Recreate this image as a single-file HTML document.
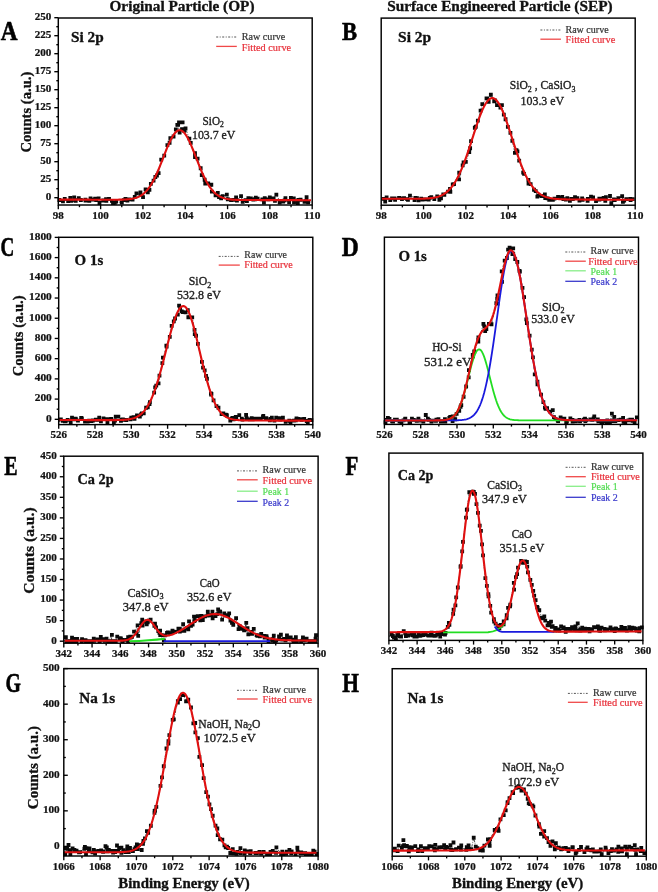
<!DOCTYPE html>
<html><head><meta charset="utf-8"><style>
html,body{margin:0;padding:0;background:#fff;}
body{width:658px;height:892px;overflow:hidden;font-family:"Liberation Serif",serif;}
svg{display:block;filter:blur(0.3px);}
</style></head><body>
<svg width="658" height="892" viewBox="0 0 658 892">
<rect width="658" height="892" fill="#fff"/>
<g id="panelA">
<polyline fill="none" stroke="#222" stroke-width="0.8" stroke-linejoin="round" stroke-dasharray="2.5 1.2 0.8 1.2" points="58.9,200.21 59.37,200.01 62.96,201.37 64.75,198.93 68.14,201.2 71.35,200.81 70.29,197.81 74.21,197.44 75.24,200.03 75.73,200.76 78.78,198.2 80.87,200 85.41,199.58 85.55,200.72 89.31,200.84 90.54,198.38 92.17,199.64 95.13,198.72 96.1,200.06 98.63,198.44 99.47,203 103.23,200.52 106.34,200.77 106.05,199.07 109.03,198.86 111.9,200.84 113.01,203 114.8,202.89 116.15,201.67 121.85,202.55 121.69,202.46 123.79,200.17 125.42,198.84 127.44,200.68 129.07,199.4 132.57,199.58 134.75,196.92 136.44,193.32 140.47,194.59 140.45,192.32 143.04,197.12 145.59,189.35 147.81,192.26 149.44,189.82 150.85,183.83 153.56,180.65 155.33,177 156.95,175.48 158.63,173.19 161.21,159.71 164.24,155.68 167.39,145.04 169.59,142.74 170.34,138.24 173.56,136.5 175.86,129.34 177.32,124.91 178.14,124.88 179.64,132.7 182,129.12 184.18,130.83 185.54,128.49 189.36,138.61 190.75,142.94 195.01,157.02 195,153.04 197.61,158.72 200.67,168.26 201.75,175.13 205.24,183.56 204.64,179.74 208.22,183.34 211.33,184.75 211.87,191.6 215.56,195.34 217.81,192.83 219.01,197.18 221.12,198.38 222.6,196.2 226.81,194.65 227.77,199.25 231.05,200.18 231.22,200.05 233.72,199.81 236.07,197.49 236.95,200.64 241.06,196.1 242.7,201.75 245.51,200.14 246.92,201.19 248.37,198.19 250.88,198.44 253.28,199.68 254.99,199.23 255.8,197.57 257.62,198.69 262.36,199.47 263.94,202.55 264.75,198.11 269.81,197.46 268.33,199.44 273.49,198.42 274.96,200.97 276.35,194.66 279.83,201.25 279.66,202.55 283.22,201.68 285.43,198.07 284.62,200.32 289.12,202.07 290.87,197.89 293.8,198.45 294,202.26 297.84,203 298.34,199.85 300.58,199.75 306.08,200.92 304.54,201.86 306.59,197.25 308.15,202.26 311.6,202"/>
<path fill="#0a0a0a" d="M57.47 198.11h3.8v3.8h-3.8zM61.06 199.47h3.8v3.8h-3.8zM62.85 197.03h3.8v3.8h-3.8zM66.24 199.3h3.8v3.8h-3.8zM69.45 198.91h3.8v3.8h-3.8zM68.39 195.91h3.8v3.8h-3.8zM72.31 195.54h3.8v3.8h-3.8zM73.34 198.13h3.8v3.8h-3.8zM73.83 198.86h3.8v3.8h-3.8zM76.88 196.3h3.8v3.8h-3.8zM78.97 198.1h3.8v3.8h-3.8zM83.51 197.68h3.8v3.8h-3.8zM83.65 198.82h3.8v3.8h-3.8zM87.41 198.94h3.8v3.8h-3.8zM88.64 196.48h3.8v3.8h-3.8zM90.27 197.74h3.8v3.8h-3.8zM93.23 196.82h3.8v3.8h-3.8zM94.2 198.16h3.8v3.8h-3.8zM96.73 196.54h3.8v3.8h-3.8zM97.57 201.1h3.8v3.8h-3.8zM101.33 198.62h3.8v3.8h-3.8zM104.44 198.87h3.8v3.8h-3.8zM104.15 197.17h3.8v3.8h-3.8zM107.13 196.96h3.8v3.8h-3.8zM110 198.94h3.8v3.8h-3.8zM111.11 201.1h3.8v3.8h-3.8zM112.9 200.99h3.8v3.8h-3.8zM114.25 199.77h3.8v3.8h-3.8zM119.95 200.65h3.8v3.8h-3.8zM119.79 200.56h3.8v3.8h-3.8zM121.89 198.27h3.8v3.8h-3.8zM123.52 196.94h3.8v3.8h-3.8zM125.54 198.78h3.8v3.8h-3.8zM127.17 197.5h3.8v3.8h-3.8zM130.67 197.68h3.8v3.8h-3.8zM132.85 195.02h3.8v3.8h-3.8zM134.54 191.42h3.8v3.8h-3.8zM138.57 192.69h3.8v3.8h-3.8zM138.55 190.42h3.8v3.8h-3.8zM141.14 195.22h3.8v3.8h-3.8zM143.69 187.45h3.8v3.8h-3.8zM145.91 190.36h3.8v3.8h-3.8zM147.54 187.92h3.8v3.8h-3.8zM148.95 181.93h3.8v3.8h-3.8zM151.66 178.75h3.8v3.8h-3.8zM153.43 175.1h3.8v3.8h-3.8zM155.05 173.58h3.8v3.8h-3.8zM156.73 171.29h3.8v3.8h-3.8zM159.31 157.81h3.8v3.8h-3.8zM162.34 153.78h3.8v3.8h-3.8zM165.49 143.14h3.8v3.8h-3.8zM167.69 140.84h3.8v3.8h-3.8zM168.44 136.34h3.8v3.8h-3.8zM171.66 134.6h3.8v3.8h-3.8zM173.96 127.44h3.8v3.8h-3.8zM175.42 123.01h3.8v3.8h-3.8zM176.24 122.98h3.8v3.8h-3.8zM177.74 130.8h3.8v3.8h-3.8zM180.1 127.22h3.8v3.8h-3.8zM182.28 128.93h3.8v3.8h-3.8zM183.64 126.59h3.8v3.8h-3.8zM187.46 136.71h3.8v3.8h-3.8zM188.85 141.04h3.8v3.8h-3.8zM193.11 155.12h3.8v3.8h-3.8zM193.1 151.14h3.8v3.8h-3.8zM195.71 156.82h3.8v3.8h-3.8zM198.77 166.36h3.8v3.8h-3.8zM199.85 173.23h3.8v3.8h-3.8zM203.34 181.66h3.8v3.8h-3.8zM202.74 177.84h3.8v3.8h-3.8zM206.32 181.44h3.8v3.8h-3.8zM209.43 182.85h3.8v3.8h-3.8zM209.97 189.7h3.8v3.8h-3.8zM213.66 193.44h3.8v3.8h-3.8zM215.91 190.93h3.8v3.8h-3.8zM217.11 195.28h3.8v3.8h-3.8zM219.22 196.48h3.8v3.8h-3.8zM220.7 194.3h3.8v3.8h-3.8zM224.91 192.75h3.8v3.8h-3.8zM225.87 197.35h3.8v3.8h-3.8zM229.15 198.28h3.8v3.8h-3.8zM229.32 198.15h3.8v3.8h-3.8zM231.82 197.91h3.8v3.8h-3.8zM234.17 195.59h3.8v3.8h-3.8zM235.05 198.74h3.8v3.8h-3.8zM239.16 194.2h3.8v3.8h-3.8zM240.8 199.85h3.8v3.8h-3.8zM243.61 198.24h3.8v3.8h-3.8zM245.02 199.29h3.8v3.8h-3.8zM246.47 196.29h3.8v3.8h-3.8zM248.98 196.54h3.8v3.8h-3.8zM251.38 197.78h3.8v3.8h-3.8zM253.09 197.33h3.8v3.8h-3.8zM253.9 195.67h3.8v3.8h-3.8zM255.72 196.79h3.8v3.8h-3.8zM260.46 197.57h3.8v3.8h-3.8zM262.04 200.65h3.8v3.8h-3.8zM262.85 196.21h3.8v3.8h-3.8zM267.91 195.56h3.8v3.8h-3.8zM266.43 197.54h3.8v3.8h-3.8zM271.59 196.52h3.8v3.8h-3.8zM273.06 199.07h3.8v3.8h-3.8zM274.45 192.76h3.8v3.8h-3.8zM277.93 199.35h3.8v3.8h-3.8zM277.76 200.65h3.8v3.8h-3.8zM281.32 199.78h3.8v3.8h-3.8zM283.53 196.17h3.8v3.8h-3.8zM282.72 198.42h3.8v3.8h-3.8zM287.22 200.17h3.8v3.8h-3.8zM288.97 195.99h3.8v3.8h-3.8zM291.9 196.55h3.8v3.8h-3.8zM292.1 200.36h3.8v3.8h-3.8zM295.94 201.1h3.8v3.8h-3.8zM296.44 197.95h3.8v3.8h-3.8zM298.68 197.85h3.8v3.8h-3.8zM304.18 199.02h3.8v3.8h-3.8zM302.64 199.96h3.8v3.8h-3.8zM304.69 195.35h3.8v3.8h-3.8zM306.25 200.36h3.8v3.8h-3.8zM177.1 120.4h3.8v3.8h-3.8zM180.7 120.4h3.8v3.8h-3.8z"/>
<polyline fill="none" stroke="#e01010" stroke-width="2.1" stroke-linejoin="round" points="59,199.6 60,199.6 61,199.61 62,199.61 63,199.61 64,199.61 65,199.62 66,199.62 67,199.62 68,199.62 69,199.63 70,199.63 71,199.63 72,199.63 73,199.63 74,199.64 75,199.64 76,199.64 77,199.64 78,199.65 79,199.65 80,199.65 81,199.65 82,199.66 83,199.66 84,199.66 85,199.66 86,199.67 87,199.67 88,199.67 89,199.67 90,199.67 91,199.68 92,199.68 93,199.68 94,199.68 95,199.69 96,199.69 97,199.69 98,199.69 99,199.7 100,199.7 101,199.7 102,199.7 103,199.7 104,199.71 105,199.71 106,199.71 107,199.71 108,199.71 109,199.71 110,199.71 111,199.71 112,199.71 113,199.71 114,199.71 115,199.7 116,199.7 117,199.69 118,199.68 119,199.67 120,199.65 121,199.63 122,199.61 123,199.58 124,199.54 125,199.49 126,199.43 127,199.36 128,199.28 129,199.18 130,199.06 131,198.92 132,198.76 133,198.57 134,198.34 135,198.08 136,197.78 137,197.44 138,197.04 139,196.59 140,196.07 141,195.49 142,194.83 143,194.1 144,193.28 145,192.37 146,191.37 147,190.26 148,189.05 149,187.73 150,186.29 151,184.75 152,183.08 153,181.3 154,179.41 155,177.41 156,175.3 157,173.09 158,170.79 159,168.41 160,165.96 161,163.46 162,160.91 163,158.35 164,155.77 165,153.21 166,150.68 167,148.21 168,145.82 169,143.52 170,141.35 171,139.31 172,137.44 173,135.75 174,134.26 175,132.98 176,131.93 177,131.12 178,130.56 179,130.25 180,130.2 181,130.41 182,130.87 183,131.59 184,132.55 185,133.75 186,135.16 187,136.78 188,138.58 189,140.56 190,142.69 191,144.94 192,147.3 193,149.75 194,152.26 195,154.82 196,157.39 197,159.97 198,162.53 199,165.06 200,167.54 201,169.95 202,172.29 203,174.54 204,176.69 205,178.74 206,180.68 207,182.51 208,184.23 209,185.83 210,187.31 211,188.68 212,189.94 213,191.09 214,192.14 215,193.1 216,193.96 217,194.73 218,195.42 219,196.03 220,196.58 221,197.06 222,197.48 223,197.85 224,198.18 225,198.46 226,198.7 227,198.91 228,199.09 229,199.24 230,199.37 231,199.49 232,199.58 233,199.66 234,199.72 235,199.78 236,199.83 237,199.87 238,199.9 239,199.93 240,199.95 241,199.97 242,199.98 243,200 244,200.01 245,200.02 246,200.02 247,200.03 248,200.04 249,200.04 250,200.05 251,200.05 252,200.05 253,200.06 254,200.06 255,200.06 256,200.07 257,200.07 258,200.07 259,200.07 260,200.08 261,200.08 262,200.08 263,200.08 264,200.09 265,200.09 266,200.09 267,200.09 268,200.1 269,200.1 270,200.1 271,200.1 272,200.1 273,200.11 274,200.11 275,200.11 276,200.11 277,200.12 278,200.12 279,200.12 280,200.12 281,200.13 282,200.13 283,200.13 284,200.13 285,200.14 286,200.14 287,200.14 288,200.14 289,200.15 290,200.15 291,200.15 292,200.15 293,200.15 294,200.16 295,200.16 296,200.16 297,200.16 298,200.17 299,200.17 300,200.17 301,200.17 302,200.18 303,200.18 304,200.18 305,200.18 306,200.19 307,200.19 308,200.19 309,200.19 310,200.19 311,200.2"/>
<rect x="58.3" y="18" width="253.9" height="187" fill="none" stroke="#000" stroke-width="1.45"/>
<line x1="58.3" y1="205" x2="58.3" y2="209.2" stroke="#000" stroke-width="1.35"/>
<line x1="79.46" y1="205" x2="79.46" y2="207.2" stroke="#000" stroke-width="1.35"/>
<line x1="100.62" y1="205" x2="100.62" y2="209.2" stroke="#000" stroke-width="1.35"/>
<line x1="121.77" y1="205" x2="121.77" y2="207.2" stroke="#000" stroke-width="1.35"/>
<line x1="142.93" y1="205" x2="142.93" y2="209.2" stroke="#000" stroke-width="1.35"/>
<line x1="164.09" y1="205" x2="164.09" y2="207.2" stroke="#000" stroke-width="1.35"/>
<line x1="185.25" y1="205" x2="185.25" y2="209.2" stroke="#000" stroke-width="1.35"/>
<line x1="206.41" y1="205" x2="206.41" y2="207.2" stroke="#000" stroke-width="1.35"/>
<line x1="227.57" y1="205" x2="227.57" y2="209.2" stroke="#000" stroke-width="1.35"/>
<line x1="248.72" y1="205" x2="248.72" y2="207.2" stroke="#000" stroke-width="1.35"/>
<line x1="269.88" y1="205" x2="269.88" y2="209.2" stroke="#000" stroke-width="1.35"/>
<line x1="291.04" y1="205" x2="291.04" y2="207.2" stroke="#000" stroke-width="1.35"/>
<line x1="312.2" y1="205" x2="312.2" y2="209.2" stroke="#000" stroke-width="1.35"/>
<text x="58.3" y="218.8" font-family="Liberation Serif" font-weight="bold" font-size="10" fill="#111" textLength="11" lengthAdjust="spacingAndGlyphs" text-anchor="middle" stroke="#111" stroke-width="0.22">98</text>
<text x="100.62" y="218.8" font-family="Liberation Serif" font-weight="bold" font-size="10" fill="#111" textLength="16.5" lengthAdjust="spacingAndGlyphs" text-anchor="middle" stroke="#111" stroke-width="0.22">100</text>
<text x="142.93" y="218.8" font-family="Liberation Serif" font-weight="bold" font-size="10" fill="#111" textLength="16.5" lengthAdjust="spacingAndGlyphs" text-anchor="middle" stroke="#111" stroke-width="0.22">102</text>
<text x="185.25" y="218.8" font-family="Liberation Serif" font-weight="bold" font-size="10" fill="#111" textLength="16.5" lengthAdjust="spacingAndGlyphs" text-anchor="middle" stroke="#111" stroke-width="0.22">104</text>
<text x="227.57" y="218.8" font-family="Liberation Serif" font-weight="bold" font-size="10" fill="#111" textLength="16.5" lengthAdjust="spacingAndGlyphs" text-anchor="middle" stroke="#111" stroke-width="0.22">106</text>
<text x="269.88" y="218.8" font-family="Liberation Serif" font-weight="bold" font-size="10" fill="#111" textLength="16.5" lengthAdjust="spacingAndGlyphs" text-anchor="middle" stroke="#111" stroke-width="0.22">108</text>
<text x="312.2" y="218.8" font-family="Liberation Serif" font-weight="bold" font-size="10" fill="#111" textLength="16.5" lengthAdjust="spacingAndGlyphs" text-anchor="middle" stroke="#111" stroke-width="0.22">110</text>
<line x1="58.3" y1="197.7" x2="54.3" y2="197.7" stroke="#000" stroke-width="1.35"/>
<line x1="58.3" y1="188.7" x2="56.3" y2="188.7" stroke="#000" stroke-width="1.35"/>
<line x1="58.3" y1="179.7" x2="54.3" y2="179.7" stroke="#000" stroke-width="1.35"/>
<line x1="58.3" y1="170.7" x2="56.3" y2="170.7" stroke="#000" stroke-width="1.35"/>
<line x1="58.3" y1="161.7" x2="54.3" y2="161.7" stroke="#000" stroke-width="1.35"/>
<line x1="58.3" y1="152.7" x2="56.3" y2="152.7" stroke="#000" stroke-width="1.35"/>
<line x1="58.3" y1="143.7" x2="54.3" y2="143.7" stroke="#000" stroke-width="1.35"/>
<line x1="58.3" y1="134.7" x2="56.3" y2="134.7" stroke="#000" stroke-width="1.35"/>
<line x1="58.3" y1="125.7" x2="54.3" y2="125.7" stroke="#000" stroke-width="1.35"/>
<line x1="58.3" y1="116.7" x2="56.3" y2="116.7" stroke="#000" stroke-width="1.35"/>
<line x1="58.3" y1="107.7" x2="54.3" y2="107.7" stroke="#000" stroke-width="1.35"/>
<line x1="58.3" y1="98.7" x2="56.3" y2="98.7" stroke="#000" stroke-width="1.35"/>
<line x1="58.3" y1="89.7" x2="54.3" y2="89.7" stroke="#000" stroke-width="1.35"/>
<line x1="58.3" y1="80.7" x2="56.3" y2="80.7" stroke="#000" stroke-width="1.35"/>
<line x1="58.3" y1="71.7" x2="54.3" y2="71.7" stroke="#000" stroke-width="1.35"/>
<line x1="58.3" y1="62.7" x2="56.3" y2="62.7" stroke="#000" stroke-width="1.35"/>
<line x1="58.3" y1="53.7" x2="54.3" y2="53.7" stroke="#000" stroke-width="1.35"/>
<line x1="58.3" y1="44.7" x2="56.3" y2="44.7" stroke="#000" stroke-width="1.35"/>
<line x1="58.3" y1="35.7" x2="54.3" y2="35.7" stroke="#000" stroke-width="1.35"/>
<line x1="58.3" y1="26.7" x2="56.3" y2="26.7" stroke="#000" stroke-width="1.35"/>
<line x1="58.3" y1="17.7" x2="54.3" y2="17.7" stroke="#000" stroke-width="1.35"/>
<text x="51.4" y="200.1" font-family="Liberation Serif" font-weight="bold" font-size="10" fill="#111" textLength="5.55" lengthAdjust="spacingAndGlyphs" text-anchor="end" stroke="#111" stroke-width="0.22">0</text>
<text x="51.4" y="182.1" font-family="Liberation Serif" font-weight="bold" font-size="10" fill="#111" textLength="11.1" lengthAdjust="spacingAndGlyphs" text-anchor="end" stroke="#111" stroke-width="0.22">25</text>
<text x="51.4" y="164.1" font-family="Liberation Serif" font-weight="bold" font-size="10" fill="#111" textLength="11.1" lengthAdjust="spacingAndGlyphs" text-anchor="end" stroke="#111" stroke-width="0.22">50</text>
<text x="51.4" y="146.1" font-family="Liberation Serif" font-weight="bold" font-size="10" fill="#111" textLength="11.1" lengthAdjust="spacingAndGlyphs" text-anchor="end" stroke="#111" stroke-width="0.22">75</text>
<text x="51.4" y="128.1" font-family="Liberation Serif" font-weight="bold" font-size="10" fill="#111" textLength="16.65" lengthAdjust="spacingAndGlyphs" text-anchor="end" stroke="#111" stroke-width="0.22">100</text>
<text x="51.4" y="110.1" font-family="Liberation Serif" font-weight="bold" font-size="10" fill="#111" textLength="16.65" lengthAdjust="spacingAndGlyphs" text-anchor="end" stroke="#111" stroke-width="0.22">125</text>
<text x="51.4" y="92.1" font-family="Liberation Serif" font-weight="bold" font-size="10" fill="#111" textLength="16.65" lengthAdjust="spacingAndGlyphs" text-anchor="end" stroke="#111" stroke-width="0.22">150</text>
<text x="51.4" y="74.1" font-family="Liberation Serif" font-weight="bold" font-size="10" fill="#111" textLength="16.65" lengthAdjust="spacingAndGlyphs" text-anchor="end" stroke="#111" stroke-width="0.22">175</text>
<text x="51.4" y="56.1" font-family="Liberation Serif" font-weight="bold" font-size="10" fill="#111" textLength="16.65" lengthAdjust="spacingAndGlyphs" text-anchor="end" stroke="#111" stroke-width="0.22">200</text>
<text x="51.4" y="38.1" font-family="Liberation Serif" font-weight="bold" font-size="10" fill="#111" textLength="16.65" lengthAdjust="spacingAndGlyphs" text-anchor="end" stroke="#111" stroke-width="0.22">225</text>
<text x="51.4" y="20.1" font-family="Liberation Serif" font-weight="bold" font-size="10" fill="#111" textLength="16.65" lengthAdjust="spacingAndGlyphs" text-anchor="end" stroke="#111" stroke-width="0.22">250</text>
</g>
<g id="panelB">
<polyline fill="none" stroke="#222" stroke-width="0.8" stroke-linejoin="round" stroke-dasharray="2.5 1.2 0.8 1.2" points="381.8,199.08 383.4,198.89 385.19,201.6 386.63,197.51 390.26,200.1 392.04,198.44 395.12,199.86 394.59,198.37 399.06,197.8 402.42,198.47 401.94,199.19 404.09,198.13 407.12,199.12 407.96,199.79 409.96,195.59 415.36,197.89 414.54,200.02 416.98,198.07 418.6,200.26 421.2,198.72 422.55,199.54 424.85,199.34 428.68,199.66 429.8,197.81 431.29,197.22 434.3,199 437.23,196.38 439.36,199.87 441.02,198.44 443.29,194.45 444.34,194.97 448.03,191.6 450,188.89 450.35,191.82 452.75,184.34 454.03,184.13 459.2,172.75 459.05,179.31 462.65,165.46 463.57,162.48 465.82,161.97 469.25,152.19 470.15,148.23 471.04,141.2 475.81,126.74 474.81,127.73 477.84,120.6 480.58,110.61 482.32,104.22 486.5,98.29 487.25,98.41 488.68,101.89 490.85,94.75 494.17,101.25 494.97,100.45 497.01,105.15 500.39,107.71 501.93,105.08 503.82,114.57 505.55,119.25 507.84,126.97 510.42,132.92 512.32,140.77 514.92,152.91 516.5,150.24 517.43,151.36 519.19,160.72 523.17,172.68 524.07,173.96 528.38,179.94 528.51,183.61 530.63,184.12 534.02,189.76 535.71,191.08 537.36,196.58 538.55,195.54 541.87,196.02 544.86,194.41 545.24,198.02 547.68,198.45 549.21,199.78 552.84,199.83 554.47,198.67 558.05,196.84 558.93,197.7 562.25,196.94 563.38,199.08 565.9,199.49 567.31,198.09 569.9,200.77 571.37,199.02 572.86,199.11 575,197.16 577.38,198.18 579.45,200.63 582.12,198.3 582.63,199.74 587.83,198.94 587.61,200.82 591,196.68 593.13,197.39 596.02,201.22 599.34,198.77 599.42,199.53 602.25,198.84 603.49,197.98 605.3,200.76 605.94,197.21 610,195.98 611.31,203.16 613.96,199.49 614.7,200 618.3,198.27 622.15,196.07 622.93,201.85 624.2,200.64 626.38,199.22 630.27,199 630.6,200.14 632.71,199.06 634.23,198.61"/>
<path fill="#0a0a0a" d="M381.5 196.99h3.8v3.8h-3.8zM383.29 199.7h3.8v3.8h-3.8zM384.73 195.61h3.8v3.8h-3.8zM388.36 198.2h3.8v3.8h-3.8zM390.14 196.54h3.8v3.8h-3.8zM393.22 197.96h3.8v3.8h-3.8zM392.69 196.47h3.8v3.8h-3.8zM397.16 195.9h3.8v3.8h-3.8zM400.52 196.57h3.8v3.8h-3.8zM400.04 197.29h3.8v3.8h-3.8zM402.19 196.23h3.8v3.8h-3.8zM405.22 197.22h3.8v3.8h-3.8zM406.06 197.89h3.8v3.8h-3.8zM408.06 193.69h3.8v3.8h-3.8zM413.46 195.99h3.8v3.8h-3.8zM412.64 198.12h3.8v3.8h-3.8zM415.08 196.17h3.8v3.8h-3.8zM416.7 198.36h3.8v3.8h-3.8zM419.3 196.82h3.8v3.8h-3.8zM420.65 197.64h3.8v3.8h-3.8zM422.95 197.44h3.8v3.8h-3.8zM426.78 197.76h3.8v3.8h-3.8zM427.9 195.91h3.8v3.8h-3.8zM429.39 195.32h3.8v3.8h-3.8zM432.4 197.1h3.8v3.8h-3.8zM435.33 194.48h3.8v3.8h-3.8zM437.46 197.97h3.8v3.8h-3.8zM439.12 196.54h3.8v3.8h-3.8zM441.39 192.55h3.8v3.8h-3.8zM442.44 193.07h3.8v3.8h-3.8zM446.13 189.7h3.8v3.8h-3.8zM448.1 186.99h3.8v3.8h-3.8zM448.45 189.92h3.8v3.8h-3.8zM450.85 182.44h3.8v3.8h-3.8zM452.13 182.23h3.8v3.8h-3.8zM457.3 170.85h3.8v3.8h-3.8zM457.15 177.41h3.8v3.8h-3.8zM460.75 163.56h3.8v3.8h-3.8zM461.67 160.58h3.8v3.8h-3.8zM463.92 160.07h3.8v3.8h-3.8zM467.35 150.29h3.8v3.8h-3.8zM468.25 146.33h3.8v3.8h-3.8zM469.14 139.3h3.8v3.8h-3.8zM473.91 124.84h3.8v3.8h-3.8zM472.91 125.83h3.8v3.8h-3.8zM475.94 118.7h3.8v3.8h-3.8zM478.68 108.71h3.8v3.8h-3.8zM480.42 102.32h3.8v3.8h-3.8zM484.6 96.39h3.8v3.8h-3.8zM485.35 96.51h3.8v3.8h-3.8zM486.78 99.99h3.8v3.8h-3.8zM488.95 92.85h3.8v3.8h-3.8zM492.27 99.35h3.8v3.8h-3.8zM493.07 98.55h3.8v3.8h-3.8zM495.11 103.25h3.8v3.8h-3.8zM498.49 105.81h3.8v3.8h-3.8zM500.03 103.18h3.8v3.8h-3.8zM501.92 112.67h3.8v3.8h-3.8zM503.65 117.35h3.8v3.8h-3.8zM505.94 125.07h3.8v3.8h-3.8zM508.52 131.02h3.8v3.8h-3.8zM510.42 138.87h3.8v3.8h-3.8zM513.02 151.01h3.8v3.8h-3.8zM514.6 148.34h3.8v3.8h-3.8zM515.53 149.46h3.8v3.8h-3.8zM517.29 158.82h3.8v3.8h-3.8zM521.27 170.78h3.8v3.8h-3.8zM522.17 172.06h3.8v3.8h-3.8zM526.48 178.04h3.8v3.8h-3.8zM526.61 181.71h3.8v3.8h-3.8zM528.73 182.22h3.8v3.8h-3.8zM532.12 187.86h3.8v3.8h-3.8zM533.81 189.18h3.8v3.8h-3.8zM535.46 194.68h3.8v3.8h-3.8zM536.65 193.64h3.8v3.8h-3.8zM539.97 194.12h3.8v3.8h-3.8zM542.96 192.51h3.8v3.8h-3.8zM543.34 196.12h3.8v3.8h-3.8zM545.78 196.55h3.8v3.8h-3.8zM547.31 197.88h3.8v3.8h-3.8zM550.94 197.93h3.8v3.8h-3.8zM552.57 196.77h3.8v3.8h-3.8zM556.15 194.94h3.8v3.8h-3.8zM557.03 195.8h3.8v3.8h-3.8zM560.35 195.04h3.8v3.8h-3.8zM561.48 197.18h3.8v3.8h-3.8zM564 197.59h3.8v3.8h-3.8zM565.41 196.19h3.8v3.8h-3.8zM568 198.87h3.8v3.8h-3.8zM569.47 197.12h3.8v3.8h-3.8zM570.96 197.21h3.8v3.8h-3.8zM573.1 195.26h3.8v3.8h-3.8zM575.48 196.28h3.8v3.8h-3.8zM577.55 198.73h3.8v3.8h-3.8zM580.22 196.4h3.8v3.8h-3.8zM580.73 197.84h3.8v3.8h-3.8zM585.93 197.04h3.8v3.8h-3.8zM585.71 198.92h3.8v3.8h-3.8zM589.1 194.78h3.8v3.8h-3.8zM591.23 195.49h3.8v3.8h-3.8zM594.12 199.32h3.8v3.8h-3.8zM597.44 196.87h3.8v3.8h-3.8zM597.52 197.63h3.8v3.8h-3.8zM600.35 196.94h3.8v3.8h-3.8zM601.59 196.08h3.8v3.8h-3.8zM603.4 198.86h3.8v3.8h-3.8zM604.04 195.31h3.8v3.8h-3.8zM608.1 194.08h3.8v3.8h-3.8zM609.41 201.26h3.8v3.8h-3.8zM612.06 197.59h3.8v3.8h-3.8zM612.8 198.1h3.8v3.8h-3.8zM616.4 196.37h3.8v3.8h-3.8zM620.25 194.17h3.8v3.8h-3.8zM621.03 199.95h3.8v3.8h-3.8zM622.3 198.74h3.8v3.8h-3.8zM624.48 197.32h3.8v3.8h-3.8zM628.37 197.1h3.8v3.8h-3.8zM628.7 198.24h3.8v3.8h-3.8zM630.81 197.16h3.8v3.8h-3.8z"/>
<polyline fill="none" stroke="#e01010" stroke-width="2.1" stroke-linejoin="round" points="381.9,198.7 382.9,198.71 383.9,198.71 384.9,198.72 385.9,198.72 386.9,198.72 387.9,198.73 388.9,198.73 389.9,198.74 390.9,198.74 391.9,198.75 392.9,198.75 393.9,198.75 394.9,198.76 395.9,198.76 396.9,198.77 397.9,198.77 398.9,198.78 399.9,198.78 400.9,198.78 401.9,198.79 402.9,198.79 403.9,198.79 404.9,198.8 405.9,198.8 406.9,198.8 407.9,198.81 408.9,198.81 409.9,198.81 410.9,198.81 411.9,198.81 412.9,198.81 413.9,198.8 414.9,198.8 415.9,198.8 416.9,198.79 417.9,198.78 418.9,198.77 419.9,198.75 420.9,198.73 421.9,198.71 422.9,198.68 423.9,198.64 424.9,198.6 425.9,198.55 426.9,198.49 427.9,198.42 428.9,198.34 429.9,198.24 430.9,198.13 431.9,198 432.9,197.85 433.9,197.68 434.9,197.48 435.9,197.26 436.9,197 437.9,196.71 438.9,196.38 439.9,196.01 440.9,195.6 441.9,195.13 442.9,194.61 443.9,194.03 444.9,193.38 445.9,192.67 446.9,191.88 447.9,191.01 448.9,190.06 449.9,189.02 450.9,187.89 451.9,186.66 452.9,185.33 453.9,183.89 454.9,182.34 455.9,180.68 456.9,178.91 457.9,177.02 458.9,175.02 459.9,172.9 460.9,170.66 461.9,168.31 462.9,165.86 463.9,163.29 464.9,160.63 465.9,157.88 466.9,155.04 467.9,152.13 468.9,149.15 469.9,146.12 470.9,143.05 471.9,139.95 472.9,136.84 473.9,133.74 474.9,130.66 475.9,127.62 476.9,124.63 477.9,121.72 478.9,118.9 479.9,116.2 480.9,113.62 481.9,111.19 482.9,108.92 483.9,106.83 484.9,104.94 485.9,103.25 486.9,101.79 487.9,100.55 488.9,99.56 489.9,98.82 490.9,98.33 491.9,98.1 492.9,98.13 493.9,98.42 494.9,98.97 495.9,99.77 496.9,100.82 497.9,102.11 498.9,103.63 499.9,105.36 500.9,107.31 501.9,109.44 502.9,111.75 503.9,114.22 504.9,116.84 505.9,119.58 506.9,122.42 507.9,125.36 508.9,128.37 509.9,131.43 510.9,134.52 511.9,137.63 512.9,140.75 513.9,143.85 514.9,146.92 515.9,149.95 516.9,152.93 517.9,155.84 518.9,158.67 519.9,161.41 520.9,164.06 521.9,166.61 522.9,169.06 523.9,171.39 524.9,173.61 525.9,175.72 526.9,177.71 527.9,179.58 528.9,181.34 529.9,182.99 530.9,184.52 531.9,185.95 532.9,187.27 533.9,188.49 534.9,189.61 535.9,190.64 536.9,191.58 537.9,192.44 538.9,193.22 539.9,193.93 540.9,194.57 541.9,195.15 542.9,195.67 543.9,196.13 544.9,196.55 545.9,196.92 546.9,197.25 547.9,197.54 548.9,197.8 549.9,198.02 550.9,198.22 551.9,198.4 552.9,198.55 553.9,198.69 554.9,198.8 555.9,198.91 556.9,198.99 557.9,199.07 558.9,199.14 559.9,199.19 560.9,199.24 561.9,199.29 562.9,199.32 563.9,199.35 564.9,199.38 565.9,199.41 566.9,199.43 567.9,199.44 568.9,199.46 569.9,199.47 570.9,199.49 571.9,199.5 572.9,199.51 573.9,199.52 574.9,199.52 575.9,199.53 576.9,199.54 577.9,199.54 578.9,199.55 579.9,199.56 580.9,199.56 581.9,199.57 582.9,199.57 583.9,199.58 584.9,199.58 585.9,199.59 586.9,199.59 587.9,199.59 588.9,199.6 589.9,199.6 590.9,199.61 591.9,199.61 592.9,199.62 593.9,199.62 594.9,199.63 595.9,199.63 596.9,199.63 597.9,199.64 598.9,199.64 599.9,199.65 600.9,199.65 601.9,199.66 602.9,199.66 603.9,199.66 604.9,199.67 605.9,199.67 606.9,199.68 607.9,199.68 608.9,199.69 609.9,199.69 610.9,199.69 611.9,199.7 612.9,199.7 613.9,199.71 614.9,199.71 615.9,199.72 616.9,199.72 617.9,199.73 618.9,199.73 619.9,199.73 620.9,199.74 621.9,199.74 622.9,199.75 623.9,199.75 624.9,199.76 625.9,199.76 626.9,199.76 627.9,199.77 628.9,199.77 629.9,199.78 630.9,199.78 631.9,199.79 632.9,199.79 633.9,199.79"/>
<rect x="381.2" y="18.1" width="254" height="187.1" fill="none" stroke="#000" stroke-width="1.45"/>
<line x1="381.2" y1="205.2" x2="381.2" y2="209.4" stroke="#000" stroke-width="1.35"/>
<line x1="402.37" y1="205.2" x2="402.37" y2="207.4" stroke="#000" stroke-width="1.35"/>
<line x1="423.53" y1="205.2" x2="423.53" y2="209.4" stroke="#000" stroke-width="1.35"/>
<line x1="444.7" y1="205.2" x2="444.7" y2="207.4" stroke="#000" stroke-width="1.35"/>
<line x1="465.87" y1="205.2" x2="465.87" y2="209.4" stroke="#000" stroke-width="1.35"/>
<line x1="487.03" y1="205.2" x2="487.03" y2="207.4" stroke="#000" stroke-width="1.35"/>
<line x1="508.2" y1="205.2" x2="508.2" y2="209.4" stroke="#000" stroke-width="1.35"/>
<line x1="529.37" y1="205.2" x2="529.37" y2="207.4" stroke="#000" stroke-width="1.35"/>
<line x1="550.53" y1="205.2" x2="550.53" y2="209.4" stroke="#000" stroke-width="1.35"/>
<line x1="571.7" y1="205.2" x2="571.7" y2="207.4" stroke="#000" stroke-width="1.35"/>
<line x1="592.87" y1="205.2" x2="592.87" y2="209.4" stroke="#000" stroke-width="1.35"/>
<line x1="614.03" y1="205.2" x2="614.03" y2="207.4" stroke="#000" stroke-width="1.35"/>
<line x1="635.2" y1="205.2" x2="635.2" y2="209.4" stroke="#000" stroke-width="1.35"/>
<text x="381.2" y="219" font-family="Liberation Serif" font-weight="bold" font-size="10" fill="#111" textLength="11" lengthAdjust="spacingAndGlyphs" text-anchor="middle" stroke="#111" stroke-width="0.22">98</text>
<text x="423.53" y="219" font-family="Liberation Serif" font-weight="bold" font-size="10" fill="#111" textLength="16.5" lengthAdjust="spacingAndGlyphs" text-anchor="middle" stroke="#111" stroke-width="0.22">100</text>
<text x="465.87" y="219" font-family="Liberation Serif" font-weight="bold" font-size="10" fill="#111" textLength="16.5" lengthAdjust="spacingAndGlyphs" text-anchor="middle" stroke="#111" stroke-width="0.22">102</text>
<text x="508.2" y="219" font-family="Liberation Serif" font-weight="bold" font-size="10" fill="#111" textLength="16.5" lengthAdjust="spacingAndGlyphs" text-anchor="middle" stroke="#111" stroke-width="0.22">104</text>
<text x="550.53" y="219" font-family="Liberation Serif" font-weight="bold" font-size="10" fill="#111" textLength="16.5" lengthAdjust="spacingAndGlyphs" text-anchor="middle" stroke="#111" stroke-width="0.22">106</text>
<text x="592.87" y="219" font-family="Liberation Serif" font-weight="bold" font-size="10" fill="#111" textLength="16.5" lengthAdjust="spacingAndGlyphs" text-anchor="middle" stroke="#111" stroke-width="0.22">108</text>
<text x="635.2" y="219" font-family="Liberation Serif" font-weight="bold" font-size="10" fill="#111" textLength="16.5" lengthAdjust="spacingAndGlyphs" text-anchor="middle" stroke="#111" stroke-width="0.22">110</text>
</g>
<g id="panelC">
<polyline fill="none" stroke="#222" stroke-width="0.8" stroke-linejoin="round" stroke-dasharray="2.5 1.2 0.8 1.2" points="59.3,422.13 60.85,419.28 62.72,420.81 64.9,421.28 65.7,421.45 67.66,419.87 70.69,422.29 71.99,417.58 74.74,419.27 75.65,418.74 75.97,419.47 77.96,420.57 81.16,417.79 81.88,418.4 85.01,421.65 86.19,420.92 87.72,421.63 89.18,420.54 91.43,421.11 92.95,420.5 95.86,419.7 97.06,419.93 99.22,417.59 100.94,421.34 103.49,418.45 104.6,419.04 107.45,422.6 107.6,419.16 108.47,419.2 111.22,418.83 113.85,421.98 115.02,420.64 115.72,416.59 118.38,416.59 120.96,420.83 121.93,419.6 122.9,419.3 123.47,419.94 126.35,419.99 130.53,419.37 131.25,417.64 133.52,417.23 134.52,418.86 136.98,415.52 139.86,416.57 141.93,413.42 141.05,414.38 143.77,413.35 146.11,407.73 147.79,407.47 149.91,402.16 149.55,404.14 154.15,392.72 155.16,387.32 156.26,385.59 158.55,383.35 159.48,375.67 162.35,363.17 162.92,357.53 166.64,346.67 166.35,345.69 169.78,336.87 171.65,325.83 173.78,321.47 175.07,318.49 177.79,314.68 180.13,308 179.08,305.55 181.74,311.47 182.86,312.1 185.57,312.29 187.78,310.18 188.34,317.24 192.23,317.28 194.53,329.91 194.75,334.09 196.06,335.76 197.88,343.97 201.9,361.87 203.04,367.61 204.69,370.32 206.03,375.9 206.97,378.73 211.12,394.58 211.44,393.8 210.92,393.4 213.56,400.47 216.48,406.18 218.47,407.74 221.56,414.2 223.32,413.48 225.65,414.64 226.35,414.85 226.9,415.42 230.28,420.65 232.33,417.86 231.39,418.86 233.54,419.26 235.73,416.98 236.3,419.01 239.27,415.11 241.76,418.55 242.41,419.53 246.62,418.13 246.08,414.88 249.76,419.3 251.69,418.12 252.74,419.24 255.09,418.7 257.35,418.91 258.44,418.56 260.79,418.67 262.96,416.98 263.3,415.98 265.78,418.76 266.34,418.17 269.89,420.33 270.46,418.88 271.86,417.54 274.42,420.58 276.19,417.72 278.99,418.17 280.28,419.58 281.55,418.65 282.92,417.75 285.66,421.88 289.27,420.67 290.5,422.12 290.13,421.11 293.93,420.66 295.79,420.4 296.48,418.33 298.22,418.86 301.61,419.8 302.04,419.05 304.24,418.9 307.12,421 306.69,421.18 307.78,422.23 309.52,419.81 311.34,420.17"/>
<path fill="#0a0a0a" d="M58.95 417.38h3.8v3.8h-3.8zM60.82 418.91h3.8v3.8h-3.8zM63 419.38h3.8v3.8h-3.8zM63.8 419.55h3.8v3.8h-3.8zM65.76 417.97h3.8v3.8h-3.8zM68.79 420.39h3.8v3.8h-3.8zM70.09 415.68h3.8v3.8h-3.8zM72.84 417.37h3.8v3.8h-3.8zM73.75 416.84h3.8v3.8h-3.8zM74.07 417.57h3.8v3.8h-3.8zM76.06 418.67h3.8v3.8h-3.8zM79.26 415.89h3.8v3.8h-3.8zM79.98 416.5h3.8v3.8h-3.8zM83.11 419.75h3.8v3.8h-3.8zM84.29 419.02h3.8v3.8h-3.8zM85.82 419.73h3.8v3.8h-3.8zM87.28 418.64h3.8v3.8h-3.8zM89.53 419.21h3.8v3.8h-3.8zM91.05 418.6h3.8v3.8h-3.8zM93.96 417.8h3.8v3.8h-3.8zM95.16 418.03h3.8v3.8h-3.8zM97.32 415.69h3.8v3.8h-3.8zM99.04 419.44h3.8v3.8h-3.8zM101.59 416.55h3.8v3.8h-3.8zM102.7 417.14h3.8v3.8h-3.8zM105.55 420.7h3.8v3.8h-3.8zM105.7 417.26h3.8v3.8h-3.8zM106.57 417.3h3.8v3.8h-3.8zM109.32 416.93h3.8v3.8h-3.8zM111.95 420.08h3.8v3.8h-3.8zM113.12 418.74h3.8v3.8h-3.8zM113.82 414.69h3.8v3.8h-3.8zM116.48 414.69h3.8v3.8h-3.8zM119.06 418.93h3.8v3.8h-3.8zM120.03 417.7h3.8v3.8h-3.8zM121 417.4h3.8v3.8h-3.8zM121.57 418.04h3.8v3.8h-3.8zM124.45 418.09h3.8v3.8h-3.8zM128.63 417.47h3.8v3.8h-3.8zM129.35 415.74h3.8v3.8h-3.8zM131.62 415.33h3.8v3.8h-3.8zM132.62 416.96h3.8v3.8h-3.8zM135.08 413.62h3.8v3.8h-3.8zM137.96 414.67h3.8v3.8h-3.8zM140.03 411.52h3.8v3.8h-3.8zM139.15 412.48h3.8v3.8h-3.8zM141.87 411.45h3.8v3.8h-3.8zM144.21 405.83h3.8v3.8h-3.8zM145.89 405.57h3.8v3.8h-3.8zM148.01 400.26h3.8v3.8h-3.8zM147.65 402.24h3.8v3.8h-3.8zM152.25 390.82h3.8v3.8h-3.8zM153.26 385.42h3.8v3.8h-3.8zM154.36 383.69h3.8v3.8h-3.8zM156.65 381.45h3.8v3.8h-3.8zM157.58 373.77h3.8v3.8h-3.8zM160.45 361.27h3.8v3.8h-3.8zM161.02 355.63h3.8v3.8h-3.8zM164.74 344.77h3.8v3.8h-3.8zM164.45 343.79h3.8v3.8h-3.8zM167.88 334.97h3.8v3.8h-3.8zM169.75 323.93h3.8v3.8h-3.8zM171.88 319.57h3.8v3.8h-3.8zM173.17 316.59h3.8v3.8h-3.8zM175.89 312.78h3.8v3.8h-3.8zM178.23 306.1h3.8v3.8h-3.8zM177.18 303.65h3.8v3.8h-3.8zM179.84 309.57h3.8v3.8h-3.8zM180.96 310.2h3.8v3.8h-3.8zM183.67 310.39h3.8v3.8h-3.8zM185.88 308.28h3.8v3.8h-3.8zM186.44 315.34h3.8v3.8h-3.8zM190.33 315.38h3.8v3.8h-3.8zM192.63 328.01h3.8v3.8h-3.8zM192.85 332.19h3.8v3.8h-3.8zM194.16 333.86h3.8v3.8h-3.8zM195.98 342.07h3.8v3.8h-3.8zM200 359.97h3.8v3.8h-3.8zM201.14 365.71h3.8v3.8h-3.8zM202.79 368.42h3.8v3.8h-3.8zM204.13 374h3.8v3.8h-3.8zM205.07 376.83h3.8v3.8h-3.8zM209.22 392.68h3.8v3.8h-3.8zM209.54 391.9h3.8v3.8h-3.8zM209.02 391.5h3.8v3.8h-3.8zM211.66 398.57h3.8v3.8h-3.8zM214.58 404.28h3.8v3.8h-3.8zM216.57 405.84h3.8v3.8h-3.8zM219.66 412.3h3.8v3.8h-3.8zM221.42 411.58h3.8v3.8h-3.8zM223.75 412.74h3.8v3.8h-3.8zM224.45 412.95h3.8v3.8h-3.8zM225 413.52h3.8v3.8h-3.8zM228.38 418.75h3.8v3.8h-3.8zM230.43 415.96h3.8v3.8h-3.8zM229.49 416.96h3.8v3.8h-3.8zM231.64 417.36h3.8v3.8h-3.8zM233.83 415.08h3.8v3.8h-3.8zM234.4 417.11h3.8v3.8h-3.8zM237.37 413.21h3.8v3.8h-3.8zM239.86 416.65h3.8v3.8h-3.8zM240.51 417.63h3.8v3.8h-3.8zM244.72 416.23h3.8v3.8h-3.8zM244.18 412.98h3.8v3.8h-3.8zM247.86 417.4h3.8v3.8h-3.8zM249.79 416.22h3.8v3.8h-3.8zM250.84 417.34h3.8v3.8h-3.8zM253.19 416.8h3.8v3.8h-3.8zM255.45 417.01h3.8v3.8h-3.8zM256.54 416.66h3.8v3.8h-3.8zM258.89 416.77h3.8v3.8h-3.8zM261.06 415.08h3.8v3.8h-3.8zM261.4 414.08h3.8v3.8h-3.8zM263.88 416.86h3.8v3.8h-3.8zM264.44 416.27h3.8v3.8h-3.8zM267.99 418.43h3.8v3.8h-3.8zM268.56 416.98h3.8v3.8h-3.8zM269.96 415.64h3.8v3.8h-3.8zM272.52 418.68h3.8v3.8h-3.8zM274.29 415.82h3.8v3.8h-3.8zM277.09 416.27h3.8v3.8h-3.8zM278.38 417.68h3.8v3.8h-3.8zM279.65 416.75h3.8v3.8h-3.8zM281.02 415.85h3.8v3.8h-3.8zM283.76 419.98h3.8v3.8h-3.8zM287.37 418.77h3.8v3.8h-3.8zM288.6 420.22h3.8v3.8h-3.8zM288.23 419.21h3.8v3.8h-3.8zM292.03 418.76h3.8v3.8h-3.8zM293.89 418.5h3.8v3.8h-3.8zM294.58 416.43h3.8v3.8h-3.8zM296.32 416.96h3.8v3.8h-3.8zM299.71 417.9h3.8v3.8h-3.8zM300.14 417.15h3.8v3.8h-3.8zM302.34 417h3.8v3.8h-3.8zM305.22 419.1h3.8v3.8h-3.8zM304.79 419.28h3.8v3.8h-3.8zM305.88 420.33h3.8v3.8h-3.8zM307.62 417.91h3.8v3.8h-3.8zM309.44 418.27h3.8v3.8h-3.8z"/>
<polyline fill="none" stroke="#e01010" stroke-width="2.1" stroke-linejoin="round" points="59.4,420 60.4,420 61.4,420.01 62.4,420.01 63.4,420.01 64.4,420.02 65.4,420.02 66.4,420.02 67.4,420.02 68.4,420.03 69.4,420.03 70.4,420.03 71.4,420.03 72.4,420.04 73.4,420.04 74.4,420.04 75.4,420.05 76.4,420.05 77.4,420.05 78.4,420.05 79.4,420.06 80.4,420.06 81.4,420.06 82.4,420.07 83.4,420.07 84.4,420.07 85.4,420.07 86.4,420.08 87.4,420.08 88.4,420.08 89.4,420.08 90.4,420.09 91.4,420.09 92.4,420.09 93.4,420.1 94.4,420.1 95.4,420.1 96.4,420.1 97.4,420.11 98.4,420.11 99.4,420.11 100.4,420.11 101.4,420.12 102.4,420.12 103.4,420.12 104.4,420.12 105.4,420.12 106.4,420.12 107.4,420.12 108.4,420.13 109.4,420.12 110.4,420.12 111.4,420.12 112.4,420.12 113.4,420.11 114.4,420.11 115.4,420.1 116.4,420.08 117.4,420.07 118.4,420.05 119.4,420.02 120.4,419.99 121.4,419.96 122.4,419.91 123.4,419.86 124.4,419.79 125.4,419.71 126.4,419.62 127.4,419.51 128.4,419.37 129.4,419.22 130.4,419.03 131.4,418.82 132.4,418.57 133.4,418.28 134.4,417.94 135.4,417.55 136.4,417.11 137.4,416.61 138.4,416.03 139.4,415.38 140.4,414.64 141.4,413.81 142.4,412.88 143.4,411.85 144.4,410.7 145.4,409.42 146.4,408.01 147.4,406.47 148.4,404.78 149.4,402.94 150.4,400.94 151.4,398.78 152.4,396.45 153.4,393.96 154.4,391.31 155.4,388.49 156.4,385.5 157.4,382.36 158.4,379.08 159.4,375.65 160.4,372.09 161.4,368.42 162.4,364.65 163.4,360.8 164.4,356.89 165.4,352.95 166.4,348.99 167.4,345.05 168.4,341.14 169.4,337.31 170.4,333.57 171.4,329.96 172.4,326.5 173.4,323.23 174.4,320.18 175.4,317.36 176.4,314.81 177.4,312.55 178.4,310.6 179.4,308.98 180.4,307.7 181.4,306.78 182.4,306.23 183.4,306.04 184.4,306.26 185.4,306.92 186.4,307.99 187.4,309.49 188.4,311.37 189.4,313.64 190.4,316.25 191.4,319.19 192.4,322.41 193.4,325.9 194.4,329.61 195.4,333.5 196.4,337.54 197.4,341.7 198.4,345.93 199.4,350.21 200.4,354.48 201.4,358.74 202.4,362.94 203.4,367.06 204.4,371.07 205.4,374.95 206.4,378.69 207.4,382.26 208.4,385.67 209.4,388.89 210.4,391.92 211.4,394.76 212.4,397.4 213.4,399.85 214.4,402.11 215.4,404.18 216.4,406.08 217.4,407.8 218.4,409.36 219.4,410.77 220.4,412.03 221.4,413.15 222.4,414.15 223.4,415.03 224.4,415.81 225.4,416.49 226.4,417.09 227.4,417.61 228.4,418.05 229.4,418.44 230.4,418.77 231.4,419.06 232.4,419.3 233.4,419.51 234.4,419.68 235.4,419.83 236.4,419.95 237.4,420.05 238.4,420.14 239.4,420.21 240.4,420.27 241.4,420.32 242.4,420.36 243.4,420.39 244.4,420.42 245.4,420.44 246.4,420.46 247.4,420.47 248.4,420.49 249.4,420.5 250.4,420.51 251.4,420.51 252.4,420.52 253.4,420.53 254.4,420.53 255.4,420.54 256.4,420.54 257.4,420.54 258.4,420.55 259.4,420.55 260.4,420.55 261.4,420.56 262.4,420.56 263.4,420.56 264.4,420.57 265.4,420.57 266.4,420.57 267.4,420.57 268.4,420.58 269.4,420.58 270.4,420.58 271.4,420.59 272.4,420.59 273.4,420.59 274.4,420.59 275.4,420.6 276.4,420.6 277.4,420.6 278.4,420.61 279.4,420.61 280.4,420.61 281.4,420.61 282.4,420.62 283.4,420.62 284.4,420.62 285.4,420.62 286.4,420.63 287.4,420.63 288.4,420.63 289.4,420.64 290.4,420.64 291.4,420.64 292.4,420.64 293.4,420.65 294.4,420.65 295.4,420.65 296.4,420.65 297.4,420.66 298.4,420.66 299.4,420.66 300.4,420.67 301.4,420.67 302.4,420.67 303.4,420.67 304.4,420.68 305.4,420.68 306.4,420.68 307.4,420.69 308.4,420.69 309.4,420.69 310.4,420.69 311.4,420.7"/>
<rect x="58.7" y="237.3" width="254.1" height="187.3" fill="none" stroke="#000" stroke-width="1.45"/>
<line x1="58.7" y1="424.6" x2="58.7" y2="428.8" stroke="#000" stroke-width="1.35"/>
<line x1="76.85" y1="424.6" x2="76.85" y2="426.8" stroke="#000" stroke-width="1.35"/>
<line x1="95" y1="424.6" x2="95" y2="428.8" stroke="#000" stroke-width="1.35"/>
<line x1="113.15" y1="424.6" x2="113.15" y2="426.8" stroke="#000" stroke-width="1.35"/>
<line x1="131.3" y1="424.6" x2="131.3" y2="428.8" stroke="#000" stroke-width="1.35"/>
<line x1="149.45" y1="424.6" x2="149.45" y2="426.8" stroke="#000" stroke-width="1.35"/>
<line x1="167.6" y1="424.6" x2="167.6" y2="428.8" stroke="#000" stroke-width="1.35"/>
<line x1="185.75" y1="424.6" x2="185.75" y2="426.8" stroke="#000" stroke-width="1.35"/>
<line x1="203.9" y1="424.6" x2="203.9" y2="428.8" stroke="#000" stroke-width="1.35"/>
<line x1="222.05" y1="424.6" x2="222.05" y2="426.8" stroke="#000" stroke-width="1.35"/>
<line x1="240.2" y1="424.6" x2="240.2" y2="428.8" stroke="#000" stroke-width="1.35"/>
<line x1="258.35" y1="424.6" x2="258.35" y2="426.8" stroke="#000" stroke-width="1.35"/>
<line x1="276.5" y1="424.6" x2="276.5" y2="428.8" stroke="#000" stroke-width="1.35"/>
<line x1="294.65" y1="424.6" x2="294.65" y2="426.8" stroke="#000" stroke-width="1.35"/>
<line x1="312.8" y1="424.6" x2="312.8" y2="428.8" stroke="#000" stroke-width="1.35"/>
<text x="58.7" y="438.4" font-family="Liberation Serif" font-weight="bold" font-size="10" fill="#111" textLength="16.5" lengthAdjust="spacingAndGlyphs" text-anchor="middle" stroke="#111" stroke-width="0.22">526</text>
<text x="95" y="438.4" font-family="Liberation Serif" font-weight="bold" font-size="10" fill="#111" textLength="16.5" lengthAdjust="spacingAndGlyphs" text-anchor="middle" stroke="#111" stroke-width="0.22">528</text>
<text x="131.3" y="438.4" font-family="Liberation Serif" font-weight="bold" font-size="10" fill="#111" textLength="16.5" lengthAdjust="spacingAndGlyphs" text-anchor="middle" stroke="#111" stroke-width="0.22">530</text>
<text x="167.6" y="438.4" font-family="Liberation Serif" font-weight="bold" font-size="10" fill="#111" textLength="16.5" lengthAdjust="spacingAndGlyphs" text-anchor="middle" stroke="#111" stroke-width="0.22">532</text>
<text x="203.9" y="438.4" font-family="Liberation Serif" font-weight="bold" font-size="10" fill="#111" textLength="16.5" lengthAdjust="spacingAndGlyphs" text-anchor="middle" stroke="#111" stroke-width="0.22">534</text>
<text x="240.2" y="438.4" font-family="Liberation Serif" font-weight="bold" font-size="10" fill="#111" textLength="16.5" lengthAdjust="spacingAndGlyphs" text-anchor="middle" stroke="#111" stroke-width="0.22">536</text>
<text x="276.5" y="438.4" font-family="Liberation Serif" font-weight="bold" font-size="10" fill="#111" textLength="16.5" lengthAdjust="spacingAndGlyphs" text-anchor="middle" stroke="#111" stroke-width="0.22">538</text>
<text x="312.8" y="438.4" font-family="Liberation Serif" font-weight="bold" font-size="10" fill="#111" textLength="16.5" lengthAdjust="spacingAndGlyphs" text-anchor="middle" stroke="#111" stroke-width="0.22">540</text>
<line x1="58.7" y1="419.3" x2="54.7" y2="419.3" stroke="#000" stroke-width="1.35"/>
<line x1="58.7" y1="409.19" x2="56.7" y2="409.19" stroke="#000" stroke-width="1.35"/>
<line x1="58.7" y1="399.09" x2="54.7" y2="399.09" stroke="#000" stroke-width="1.35"/>
<line x1="58.7" y1="388.98" x2="56.7" y2="388.98" stroke="#000" stroke-width="1.35"/>
<line x1="58.7" y1="378.88" x2="54.7" y2="378.88" stroke="#000" stroke-width="1.35"/>
<line x1="58.7" y1="368.77" x2="56.7" y2="368.77" stroke="#000" stroke-width="1.35"/>
<line x1="58.7" y1="358.66" x2="54.7" y2="358.66" stroke="#000" stroke-width="1.35"/>
<line x1="58.7" y1="348.56" x2="56.7" y2="348.56" stroke="#000" stroke-width="1.35"/>
<line x1="58.7" y1="338.45" x2="54.7" y2="338.45" stroke="#000" stroke-width="1.35"/>
<line x1="58.7" y1="328.35" x2="56.7" y2="328.35" stroke="#000" stroke-width="1.35"/>
<line x1="58.7" y1="318.24" x2="54.7" y2="318.24" stroke="#000" stroke-width="1.35"/>
<line x1="58.7" y1="308.13" x2="56.7" y2="308.13" stroke="#000" stroke-width="1.35"/>
<line x1="58.7" y1="298.03" x2="54.7" y2="298.03" stroke="#000" stroke-width="1.35"/>
<line x1="58.7" y1="287.92" x2="56.7" y2="287.92" stroke="#000" stroke-width="1.35"/>
<line x1="58.7" y1="277.82" x2="54.7" y2="277.82" stroke="#000" stroke-width="1.35"/>
<line x1="58.7" y1="267.71" x2="56.7" y2="267.71" stroke="#000" stroke-width="1.35"/>
<line x1="58.7" y1="257.6" x2="54.7" y2="257.6" stroke="#000" stroke-width="1.35"/>
<line x1="58.7" y1="247.5" x2="56.7" y2="247.5" stroke="#000" stroke-width="1.35"/>
<line x1="58.7" y1="237.39" x2="54.7" y2="237.39" stroke="#000" stroke-width="1.35"/>
<text x="51.8" y="421.7" font-family="Liberation Serif" font-weight="bold" font-size="10" fill="#111" textLength="5.7" lengthAdjust="spacingAndGlyphs" text-anchor="end" stroke="#111" stroke-width="0.22">0</text>
<text x="51.8" y="401.49" font-family="Liberation Serif" font-weight="bold" font-size="10" fill="#111" textLength="17.1" lengthAdjust="spacingAndGlyphs" text-anchor="end" stroke="#111" stroke-width="0.22">200</text>
<text x="51.8" y="381.28" font-family="Liberation Serif" font-weight="bold" font-size="10" fill="#111" textLength="17.1" lengthAdjust="spacingAndGlyphs" text-anchor="end" stroke="#111" stroke-width="0.22">400</text>
<text x="51.8" y="361.06" font-family="Liberation Serif" font-weight="bold" font-size="10" fill="#111" textLength="17.1" lengthAdjust="spacingAndGlyphs" text-anchor="end" stroke="#111" stroke-width="0.22">600</text>
<text x="51.8" y="340.85" font-family="Liberation Serif" font-weight="bold" font-size="10" fill="#111" textLength="17.1" lengthAdjust="spacingAndGlyphs" text-anchor="end" stroke="#111" stroke-width="0.22">800</text>
<text x="51.8" y="320.64" font-family="Liberation Serif" font-weight="bold" font-size="10" fill="#111" textLength="22.8" lengthAdjust="spacingAndGlyphs" text-anchor="end" stroke="#111" stroke-width="0.22">1000</text>
<text x="51.8" y="300.43" font-family="Liberation Serif" font-weight="bold" font-size="10" fill="#111" textLength="22.8" lengthAdjust="spacingAndGlyphs" text-anchor="end" stroke="#111" stroke-width="0.22">1200</text>
<text x="51.8" y="280.22" font-family="Liberation Serif" font-weight="bold" font-size="10" fill="#111" textLength="22.8" lengthAdjust="spacingAndGlyphs" text-anchor="end" stroke="#111" stroke-width="0.22">1400</text>
<text x="51.8" y="260" font-family="Liberation Serif" font-weight="bold" font-size="10" fill="#111" textLength="22.8" lengthAdjust="spacingAndGlyphs" text-anchor="end" stroke="#111" stroke-width="0.22">1600</text>
<text x="51.8" y="239.79" font-family="Liberation Serif" font-weight="bold" font-size="10" fill="#111" textLength="22.8" lengthAdjust="spacingAndGlyphs" text-anchor="end" stroke="#111" stroke-width="0.22">1800</text>
</g>
<g id="panelD">
<polyline fill="none" stroke="#222" stroke-width="0.8" stroke-linejoin="round" stroke-dasharray="2.5 1.2 0.8 1.2" points="385.5,422.15 386.88,420 387.9,418.02 389.48,418.93 392.13,421.31 393.04,421.52 394.94,419.77 396.83,419.61 399.5,421.56 401.44,422.4 403.52,420.37 405.32,418.62 405.1,419.2 409.51,422.4 410.15,422.22 411.94,418.56 413.6,419.8 416.71,420.95 416.68,420.34 418.45,418.53 419.74,420.63 423.36,421.54 425.74,415.15 425.81,414.92 428.85,419.83 427.84,418.74 431.4,421.49 432.73,420.69 435.98,420.74 436.41,419.69 438.42,419.12 440.87,421.51 442.42,421.56 444.94,419.25 445.33,421.64 449.34,417.8 450.21,417.02 452.65,416.42 452.58,421.12 455.22,419.26 456.63,413.88 459.24,410.78 460.58,406.73 461.29,405.06 463.62,396.73 466.16,386.5 468.7,377.37 468.91,370.03 472.72,354.84 474.22,351.5 473.09,356.32 478.22,339.87 478.39,337.36 478.33,341.69 483.4,323.9 484.43,326.38 485.17,331.2 486.36,328.98 488.93,323.82 491.5,324.26 496.33,303.19 497.18,298.86 497.49,295.31 497.55,303.69 502.03,281.85 501.73,271.3 504.69,260.65 506.88,258.01 508.08,249.71 510.55,249.62 513.21,253.53 512.43,254 515.2,259.19 517.33,261.98 519.48,270.79 519.9,271.62 522.49,287.89 524.11,297.14 526.32,319.36 526.87,323.07 529.62,335.55 531.78,349.63 532.92,357.36 534.74,374.47 537.48,384.24 537.4,381.6 541.03,394.64 543.36,402.16 544.93,407.66 545.6,408.93 547.09,408.26 550.26,411.69 552.77,410.08 553.96,417.05 555.29,418.78 558.14,421.18 557.72,420.28 560.61,417.41 562.3,418.93 564.37,418.68 566.21,422.15 566.92,421.59 570.35,418.33 572.65,421.62 572.55,419.79 575.78,421.46 576.54,420.67 579.44,419.98 580.04,421.42 583.78,419.76 585.01,418.6 585.38,421.16 586.11,420.04 590.31,419.35 592.23,419.85 593.64,418.31 594.28,416.33 597.81,419.51 598.36,421.46 601.49,422.4 602.26,422.4 604.17,421.51 607.3,420.42 606.93,422.4 609.9,422.4 611.88,413.62 612.16,421.19 614.27,416.84 615.36,420.98 620.63,419.72 618.37,420.12 623.08,417.98 623.55,421.81 625.3,422.11 628.43,420.35 630.36,419.74 632.06,419.56 632.52,420.95 634.62,422.18 636.84,417.43 637.9,418.93"/>
<path fill="#0a0a0a" d="M383.6 420.25h3.8v3.8h-3.8zM384.98 418.1h3.8v3.8h-3.8zM386 416.12h3.8v3.8h-3.8zM387.58 417.03h3.8v3.8h-3.8zM390.23 419.41h3.8v3.8h-3.8zM391.14 419.62h3.8v3.8h-3.8zM393.04 417.87h3.8v3.8h-3.8zM394.93 417.71h3.8v3.8h-3.8zM397.6 419.66h3.8v3.8h-3.8zM399.54 420.5h3.8v3.8h-3.8zM401.62 418.47h3.8v3.8h-3.8zM403.42 416.72h3.8v3.8h-3.8zM403.2 417.3h3.8v3.8h-3.8zM407.61 420.5h3.8v3.8h-3.8zM408.25 420.32h3.8v3.8h-3.8zM410.04 416.66h3.8v3.8h-3.8zM411.7 417.9h3.8v3.8h-3.8zM414.81 419.05h3.8v3.8h-3.8zM414.78 418.44h3.8v3.8h-3.8zM416.55 416.63h3.8v3.8h-3.8zM417.84 418.73h3.8v3.8h-3.8zM421.46 419.64h3.8v3.8h-3.8zM423.84 413.25h3.8v3.8h-3.8zM423.91 413.02h3.8v3.8h-3.8zM426.95 417.93h3.8v3.8h-3.8zM425.94 416.84h3.8v3.8h-3.8zM429.5 419.59h3.8v3.8h-3.8zM430.83 418.79h3.8v3.8h-3.8zM434.08 418.84h3.8v3.8h-3.8zM434.51 417.79h3.8v3.8h-3.8zM436.52 417.22h3.8v3.8h-3.8zM438.97 419.61h3.8v3.8h-3.8zM440.52 419.66h3.8v3.8h-3.8zM443.04 417.35h3.8v3.8h-3.8zM443.43 419.74h3.8v3.8h-3.8zM447.44 415.9h3.8v3.8h-3.8zM448.31 415.12h3.8v3.8h-3.8zM450.75 414.52h3.8v3.8h-3.8zM450.68 419.22h3.8v3.8h-3.8zM453.32 417.36h3.8v3.8h-3.8zM454.73 411.98h3.8v3.8h-3.8zM457.34 408.88h3.8v3.8h-3.8zM458.68 404.83h3.8v3.8h-3.8zM459.39 403.16h3.8v3.8h-3.8zM461.72 394.83h3.8v3.8h-3.8zM464.26 384.6h3.8v3.8h-3.8zM466.8 375.47h3.8v3.8h-3.8zM467.01 368.13h3.8v3.8h-3.8zM470.82 352.94h3.8v3.8h-3.8zM472.32 349.6h3.8v3.8h-3.8zM471.19 354.42h3.8v3.8h-3.8zM476.32 337.97h3.8v3.8h-3.8zM476.49 335.46h3.8v3.8h-3.8zM476.43 339.79h3.8v3.8h-3.8zM481.5 322h3.8v3.8h-3.8zM482.53 324.48h3.8v3.8h-3.8zM483.27 329.3h3.8v3.8h-3.8zM484.46 327.08h3.8v3.8h-3.8zM487.03 321.92h3.8v3.8h-3.8zM489.6 322.36h3.8v3.8h-3.8zM494.43 301.29h3.8v3.8h-3.8zM495.28 296.96h3.8v3.8h-3.8zM495.59 293.41h3.8v3.8h-3.8zM495.65 301.79h3.8v3.8h-3.8zM500.13 279.95h3.8v3.8h-3.8zM499.83 269.4h3.8v3.8h-3.8zM502.79 258.75h3.8v3.8h-3.8zM504.98 256.11h3.8v3.8h-3.8zM506.18 247.81h3.8v3.8h-3.8zM508.65 247.72h3.8v3.8h-3.8zM511.31 251.63h3.8v3.8h-3.8zM510.53 252.1h3.8v3.8h-3.8zM513.3 257.29h3.8v3.8h-3.8zM515.43 260.08h3.8v3.8h-3.8zM517.58 268.89h3.8v3.8h-3.8zM518 269.72h3.8v3.8h-3.8zM520.59 285.99h3.8v3.8h-3.8zM522.21 295.24h3.8v3.8h-3.8zM524.42 317.46h3.8v3.8h-3.8zM524.97 321.17h3.8v3.8h-3.8zM527.72 333.65h3.8v3.8h-3.8zM529.88 347.73h3.8v3.8h-3.8zM531.02 355.46h3.8v3.8h-3.8zM532.84 372.57h3.8v3.8h-3.8zM535.58 382.34h3.8v3.8h-3.8zM535.5 379.7h3.8v3.8h-3.8zM539.13 392.74h3.8v3.8h-3.8zM541.46 400.26h3.8v3.8h-3.8zM543.03 405.76h3.8v3.8h-3.8zM543.7 407.03h3.8v3.8h-3.8zM545.19 406.36h3.8v3.8h-3.8zM548.36 409.79h3.8v3.8h-3.8zM550.87 408.18h3.8v3.8h-3.8zM552.06 415.15h3.8v3.8h-3.8zM553.39 416.88h3.8v3.8h-3.8zM556.24 419.28h3.8v3.8h-3.8zM555.82 418.38h3.8v3.8h-3.8zM558.71 415.51h3.8v3.8h-3.8zM560.4 417.03h3.8v3.8h-3.8zM562.47 416.78h3.8v3.8h-3.8zM564.31 420.25h3.8v3.8h-3.8zM565.02 419.69h3.8v3.8h-3.8zM568.45 416.43h3.8v3.8h-3.8zM570.75 419.72h3.8v3.8h-3.8zM570.65 417.89h3.8v3.8h-3.8zM573.88 419.56h3.8v3.8h-3.8zM574.64 418.77h3.8v3.8h-3.8zM577.54 418.08h3.8v3.8h-3.8zM578.14 419.52h3.8v3.8h-3.8zM581.88 417.86h3.8v3.8h-3.8zM583.11 416.7h3.8v3.8h-3.8zM583.48 419.26h3.8v3.8h-3.8zM584.21 418.14h3.8v3.8h-3.8zM588.41 417.45h3.8v3.8h-3.8zM590.33 417.95h3.8v3.8h-3.8zM591.74 416.41h3.8v3.8h-3.8zM592.38 414.43h3.8v3.8h-3.8zM595.91 417.61h3.8v3.8h-3.8zM596.46 419.56h3.8v3.8h-3.8zM599.59 420.5h3.8v3.8h-3.8zM600.36 420.5h3.8v3.8h-3.8zM602.27 419.61h3.8v3.8h-3.8zM605.4 418.52h3.8v3.8h-3.8zM605.03 420.5h3.8v3.8h-3.8zM608 420.5h3.8v3.8h-3.8zM609.98 411.72h3.8v3.8h-3.8zM610.26 419.29h3.8v3.8h-3.8zM612.37 414.94h3.8v3.8h-3.8zM613.46 419.08h3.8v3.8h-3.8zM618.73 417.82h3.8v3.8h-3.8zM616.47 418.22h3.8v3.8h-3.8zM621.18 416.08h3.8v3.8h-3.8zM621.65 419.91h3.8v3.8h-3.8zM623.4 420.21h3.8v3.8h-3.8zM626.53 418.45h3.8v3.8h-3.8zM628.46 417.84h3.8v3.8h-3.8zM630.16 417.66h3.8v3.8h-3.8zM630.62 419.05h3.8v3.8h-3.8zM632.72 420.28h3.8v3.8h-3.8zM634.94 415.53h3.8v3.8h-3.8zM507.7 245.7h3.8v3.8h-3.8zM511.3 246.5h3.8v3.8h-3.8z"/>
<polyline fill="none" stroke="#22dd22" stroke-width="1.8" stroke-linejoin="round" points="385.1,420.5 386.1,420.5 387.1,420.5 388.1,420.5 389.1,420.49 390.1,420.49 391.1,420.49 392.1,420.49 393.1,420.49 394.1,420.49 395.1,420.49 396.1,420.49 397.1,420.49 398.1,420.48 399.1,420.48 400.1,420.48 401.1,420.48 402.1,420.48 403.1,420.48 404.1,420.48 405.1,420.48 406.1,420.47 407.1,420.47 408.1,420.47 409.1,420.47 410.1,420.47 411.1,420.47 412.1,420.47 413.1,420.47 414.1,420.46 415.1,420.46 416.1,420.46 417.1,420.46 418.1,420.46 419.1,420.46 420.1,420.46 421.1,420.46 422.1,420.46 423.1,420.45 424.1,420.45 425.1,420.45 426.1,420.45 427.1,420.45 428.1,420.45 429.1,420.45 430.1,420.44 431.1,420.44 432.1,420.44 433.1,420.44 434.1,420.43 435.1,420.43 436.1,420.42 437.1,420.41 438.1,420.39 439.1,420.37 440.1,420.34 441.1,420.3 442.1,420.25 443.1,420.18 444.1,420.09 445.1,419.97 446.1,419.82 447.1,419.61 448.1,419.36 449.1,419.03 450.1,418.62 451.1,418.1 452.1,417.47 453.1,416.71 454.1,415.78 455.1,414.67 456.1,413.36 457.1,411.83 458.1,410.05 459.1,408.02 460.1,405.72 461.1,403.14 462.1,400.28 463.1,397.16 464.1,393.79 465.1,390.2 466.1,386.41 467.1,382.49 468.1,378.49 469.1,374.46 470.1,370.48 471.1,366.63 472.1,362.99 473.1,359.64 474.1,356.65 475.1,354.09 476.1,352.03 477.1,350.52 478.1,349.6 479.1,349.29 480.1,349.6 481.1,350.52 482.1,352.03 483.1,354.08 484.1,356.64 485.1,359.62 486.1,362.98 487.1,366.62 488.1,370.46 489.1,374.43 490.1,378.46 491.1,382.46 492.1,386.38 493.1,390.16 494.1,393.76 495.1,397.12 496.1,400.24 497.1,403.09 498.1,405.67 499.1,407.97 500.1,410 501.1,411.77 502.1,413.31 503.1,414.61 504.1,415.72 505.1,416.64 506.1,417.41 507.1,418.04 508.1,418.55 509.1,418.96 510.1,419.28 511.1,419.54 512.1,419.74 513.1,419.89 514.1,420.01 515.1,420.1 516.1,420.16 517.1,420.21 518.1,420.25 519.1,420.28 520.1,420.29 521.1,420.31 522.1,420.32 523.1,420.32 524.1,420.32 525.1,420.33 526.1,420.33 527.1,420.33 528.1,420.33 529.1,420.33 530.1,420.33 531.1,420.33 532.1,420.33 533.1,420.32 534.1,420.32 535.1,420.32 536.1,420.32 537.1,420.32 538.1,420.32 539.1,420.32 540.1,420.32 541.1,420.31 542.1,420.31 543.1,420.31 544.1,420.31 545.1,420.31 546.1,420.31 547.1,420.31 548.1,420.31 549.1,420.31 550.1,420.3 551.1,420.3 552.1,420.3 553.1,420.3 554.1,420.3 555.1,420.3 556.1,420.3 557.1,420.3 558.1,420.29 559.1,420.29 560.1,420.29 561.1,420.29 562.1,420.29 563.1,420.29 564.1,420.29 565.1,420.29 566.1,420.29 567.1,420.28 568.1,420.28 569.1,420.28 570.1,420.28 571.1,420.28 572.1,420.28 573.1,420.28 574.1,420.28 575.1,420.27 576.1,420.27 577.1,420.27 578.1,420.27 579.1,420.27 580.1,420.27 581.1,420.27 582.1,420.27 583.1,420.27 584.1,420.26 585.1,420.26 586.1,420.26 587.1,420.26 588.1,420.26 589.1,420.26 590.1,420.26 591.1,420.26 592.1,420.25 593.1,420.25 594.1,420.25 595.1,420.25 596.1,420.25 597.1,420.25 598.1,420.25 599.1,420.25 600.1,420.25 601.1,420.24 602.1,420.24 603.1,420.24 604.1,420.24 605.1,420.24 606.1,420.24 607.1,420.24 608.1,420.24 609.1,420.23 610.1,420.23 611.1,420.23 612.1,420.23 613.1,420.23 614.1,420.23 615.1,420.23 616.1,420.23 617.1,420.23 618.1,420.22 619.1,420.22 620.1,420.22 621.1,420.22 622.1,420.22 623.1,420.22 624.1,420.22 625.1,420.22 626.1,420.21 627.1,420.21 628.1,420.21 629.1,420.21 630.1,420.21 631.1,420.21 632.1,420.21 633.1,420.21 634.1,420.21 635.1,420.2 636.1,420.2 637.1,420.2"/>
<polyline fill="none" stroke="#1a1add" stroke-width="1.8" stroke-linejoin="round" points="385.1,420.5 386.1,420.5 387.1,420.5 388.1,420.5 389.1,420.49 390.1,420.49 391.1,420.49 392.1,420.49 393.1,420.49 394.1,420.49 395.1,420.49 396.1,420.49 397.1,420.49 398.1,420.48 399.1,420.48 400.1,420.48 401.1,420.48 402.1,420.48 403.1,420.48 404.1,420.48 405.1,420.48 406.1,420.47 407.1,420.47 408.1,420.47 409.1,420.47 410.1,420.47 411.1,420.47 412.1,420.47 413.1,420.47 414.1,420.46 415.1,420.46 416.1,420.46 417.1,420.46 418.1,420.46 419.1,420.46 420.1,420.46 421.1,420.46 422.1,420.46 423.1,420.45 424.1,420.45 425.1,420.45 426.1,420.45 427.1,420.45 428.1,420.45 429.1,420.45 430.1,420.45 431.1,420.44 432.1,420.44 433.1,420.44 434.1,420.44 435.1,420.44 436.1,420.44 437.1,420.44 438.1,420.44 439.1,420.43 440.1,420.43 441.1,420.43 442.1,420.43 443.1,420.43 444.1,420.43 445.1,420.42 446.1,420.42 447.1,420.42 448.1,420.42 449.1,420.41 450.1,420.41 451.1,420.4 452.1,420.39 453.1,420.38 454.1,420.37 455.1,420.35 456.1,420.32 457.1,420.29 458.1,420.26 459.1,420.21 460.1,420.15 461.1,420.07 462.1,419.98 463.1,419.86 464.1,419.72 465.1,419.53 466.1,419.31 467.1,419.04 468.1,418.71 469.1,418.31 470.1,417.83 471.1,417.26 472.1,416.58 473.1,415.77 474.1,414.82 475.1,413.71 476.1,412.42 477.1,410.92 478.1,409.21 479.1,407.24 480.1,405.01 481.1,402.49 482.1,399.66 483.1,396.5 484.1,393 485.1,389.13 486.1,384.9 487.1,380.3 488.1,375.32 489.1,369.98 490.1,364.28 491.1,358.24 492.1,351.9 493.1,345.28 494.1,338.43 495.1,331.4 496.1,324.24 497.1,317.02 498.1,309.81 499.1,302.68 500.1,295.71 501.1,288.98 502.1,282.57 503.1,276.56 504.1,271.04 505.1,266.07 506.1,261.72 507.1,258.06 508.1,255.14 509.1,252.99 510.1,251.66 511.1,251.15 512.1,251.44 513.1,252.45 514.1,254.16 515.1,256.55 516.1,259.6 517.1,263.27 518.1,267.5 519.1,272.26 520.1,277.48 521.1,283.1 522.1,289.06 523.1,295.3 524.1,301.75 525.1,308.35 526.1,315.03 527.1,321.73 528.1,328.4 529.1,334.98 530.1,341.43 531.1,347.71 532.1,353.77 533.1,359.58 534.1,365.12 535.1,370.37 536.1,375.32 537.1,379.94 538.1,384.25 539.1,388.23 540.1,391.9 541.1,395.25 542.1,398.3 543.1,401.06 544.1,403.55 545.1,405.78 546.1,407.76 547.1,409.52 548.1,411.07 549.1,412.44 550.1,413.63 551.1,414.66 552.1,415.55 553.1,416.32 554.1,416.98 555.1,417.54 556.1,418.02 557.1,418.42 558.1,418.75 559.1,419.03 560.1,419.27 561.1,419.46 562.1,419.62 563.1,419.75 564.1,419.86 565.1,419.95 566.1,420.01 567.1,420.07 568.1,420.12 569.1,420.15 570.1,420.18 571.1,420.2 572.1,420.22 573.1,420.23 574.1,420.24 575.1,420.25 576.1,420.25 577.1,420.26 578.1,420.26 579.1,420.26 580.1,420.26 581.1,420.26 582.1,420.26 583.1,420.26 584.1,420.26 585.1,420.26 586.1,420.26 587.1,420.26 588.1,420.26 589.1,420.26 590.1,420.26 591.1,420.26 592.1,420.25 593.1,420.25 594.1,420.25 595.1,420.25 596.1,420.25 597.1,420.25 598.1,420.25 599.1,420.25 600.1,420.25 601.1,420.24 602.1,420.24 603.1,420.24 604.1,420.24 605.1,420.24 606.1,420.24 607.1,420.24 608.1,420.24 609.1,420.23 610.1,420.23 611.1,420.23 612.1,420.23 613.1,420.23 614.1,420.23 615.1,420.23 616.1,420.23 617.1,420.23 618.1,420.22 619.1,420.22 620.1,420.22 621.1,420.22 622.1,420.22 623.1,420.22 624.1,420.22 625.1,420.22 626.1,420.21 627.1,420.21 628.1,420.21 629.1,420.21 630.1,420.21 631.1,420.21 632.1,420.21 633.1,420.21 634.1,420.21 635.1,420.2 636.1,420.2 637.1,420.2"/>
<polyline fill="none" stroke="#e01010" stroke-width="2.1" stroke-linejoin="round" points="385.1,420.5 386.1,420.5 387.1,420.5 388.1,420.5 389.1,420.49 390.1,420.49 391.1,420.49 392.1,420.49 393.1,420.49 394.1,420.49 395.1,420.49 396.1,420.49 397.1,420.49 398.1,420.48 399.1,420.48 400.1,420.48 401.1,420.48 402.1,420.48 403.1,420.48 404.1,420.48 405.1,420.48 406.1,420.47 407.1,420.47 408.1,420.47 409.1,420.47 410.1,420.47 411.1,420.47 412.1,420.47 413.1,420.47 414.1,420.46 415.1,420.46 416.1,420.46 417.1,420.46 418.1,420.46 419.1,420.46 420.1,420.46 421.1,420.46 422.1,420.46 423.1,420.45 424.1,420.45 425.1,420.45 426.1,420.45 427.1,420.45 428.1,420.45 429.1,420.45 430.1,420.44 431.1,420.44 432.1,420.44 433.1,420.44 434.1,420.43 435.1,420.42 436.1,420.42 437.1,420.41 438.1,420.39 439.1,420.37 440.1,420.34 441.1,420.3 442.1,420.25 443.1,420.18 444.1,420.09 445.1,419.97 446.1,419.81 447.1,419.61 448.1,419.35 449.1,419.02 450.1,418.6 451.1,418.08 452.1,417.44 453.1,416.67 454.1,415.73 455.1,414.6 456.1,413.27 457.1,411.71 458.1,409.9 459.1,407.82 460.1,405.45 461.1,402.8 462.1,399.85 463.1,396.62 464.1,393.1 465.1,389.33 466.1,385.32 467.1,381.13 468.1,376.8 469.1,372.37 470.1,367.92 471.1,363.5 472.1,359.17 473.1,355.01 474.1,351.07 475.1,347.41 476.1,344.06 477.1,341.06 478.1,338.42 479.1,336.14 480.1,334.22 481.1,332.62 482.1,331.3 483.1,330.2 484.1,329.25 485.1,328.38 486.1,327.5 487.1,326.54 488.1,325.41 489.1,324.04 490.1,322.36 491.1,320.33 492.1,317.91 493.1,315.07 494.1,311.81 495.1,308.15 496.1,304.11 497.1,299.75 498.1,295.11 499.1,290.28 500.1,285.34 501.1,280.39 502.1,275.51 503.1,270.82 504.1,266.4 505.1,262.36 506.1,258.78 507.1,255.75 508.1,253.33 509.1,251.6 510.1,250.59 511.1,250.34 512.1,250.83 513.1,251.99 514.1,253.82 515.1,256.31 516.1,259.42 517.1,263.14 518.1,267.41 519.1,272.19 520.1,277.43 521.1,283.07 522.1,289.04 523.1,295.28 524.1,301.74 525.1,308.34 526.1,315.02 527.1,321.73 528.1,328.4 529.1,334.98 530.1,341.43 531.1,347.71 532.1,353.77 533.1,359.58 534.1,365.12 535.1,370.37 536.1,375.32 537.1,379.94 538.1,384.25 539.1,388.23 540.1,391.9 541.1,395.25 542.1,398.3 543.1,401.06 544.1,403.55 545.1,405.78 546.1,407.76 547.1,409.52 548.1,411.07 549.1,412.44 550.1,413.63 551.1,414.66 552.1,415.55 553.1,416.32 554.1,416.98 555.1,417.54 556.1,418.02 557.1,418.42 558.1,418.75 559.1,419.03 560.1,419.27 561.1,419.46 562.1,419.62 563.1,419.75 564.1,419.86 565.1,419.95 566.1,420.01 567.1,420.07 568.1,420.12 569.1,420.15 570.1,420.18 571.1,420.2 572.1,420.22 573.1,420.23 574.1,420.24 575.1,420.25 576.1,420.25 577.1,420.26 578.1,420.26 579.1,420.26 580.1,420.26 581.1,420.26 582.1,420.26 583.1,420.26 584.1,420.26 585.1,420.26 586.1,420.26 587.1,420.26 588.1,420.26 589.1,420.26 590.1,420.26 591.1,420.26 592.1,420.25 593.1,420.25 594.1,420.25 595.1,420.25 596.1,420.25 597.1,420.25 598.1,420.25 599.1,420.25 600.1,420.25 601.1,420.24 602.1,420.24 603.1,420.24 604.1,420.24 605.1,420.24 606.1,420.24 607.1,420.24 608.1,420.24 609.1,420.23 610.1,420.23 611.1,420.23 612.1,420.23 613.1,420.23 614.1,420.23 615.1,420.23 616.1,420.23 617.1,420.23 618.1,420.22 619.1,420.22 620.1,420.22 621.1,420.22 622.1,420.22 623.1,420.22 624.1,420.22 625.1,420.22 626.1,420.21 627.1,420.21 628.1,420.21 629.1,420.21 630.1,420.21 631.1,420.21 632.1,420.21 633.1,420.21 634.1,420.21 635.1,420.2 636.1,420.2 637.1,420.2"/>
<rect x="384.4" y="237.2" width="254.1" height="187.2" fill="none" stroke="#000" stroke-width="1.45"/>
<line x1="384.4" y1="424.4" x2="384.4" y2="428.6" stroke="#000" stroke-width="1.35"/>
<line x1="402.55" y1="424.4" x2="402.55" y2="426.6" stroke="#000" stroke-width="1.35"/>
<line x1="420.7" y1="424.4" x2="420.7" y2="428.6" stroke="#000" stroke-width="1.35"/>
<line x1="438.85" y1="424.4" x2="438.85" y2="426.6" stroke="#000" stroke-width="1.35"/>
<line x1="457" y1="424.4" x2="457" y2="428.6" stroke="#000" stroke-width="1.35"/>
<line x1="475.15" y1="424.4" x2="475.15" y2="426.6" stroke="#000" stroke-width="1.35"/>
<line x1="493.3" y1="424.4" x2="493.3" y2="428.6" stroke="#000" stroke-width="1.35"/>
<line x1="511.45" y1="424.4" x2="511.45" y2="426.6" stroke="#000" stroke-width="1.35"/>
<line x1="529.6" y1="424.4" x2="529.6" y2="428.6" stroke="#000" stroke-width="1.35"/>
<line x1="547.75" y1="424.4" x2="547.75" y2="426.6" stroke="#000" stroke-width="1.35"/>
<line x1="565.9" y1="424.4" x2="565.9" y2="428.6" stroke="#000" stroke-width="1.35"/>
<line x1="584.05" y1="424.4" x2="584.05" y2="426.6" stroke="#000" stroke-width="1.35"/>
<line x1="602.2" y1="424.4" x2="602.2" y2="428.6" stroke="#000" stroke-width="1.35"/>
<line x1="620.35" y1="424.4" x2="620.35" y2="426.6" stroke="#000" stroke-width="1.35"/>
<line x1="638.5" y1="424.4" x2="638.5" y2="428.6" stroke="#000" stroke-width="1.35"/>
<text x="384.4" y="438.2" font-family="Liberation Serif" font-weight="bold" font-size="10" fill="#111" textLength="16.5" lengthAdjust="spacingAndGlyphs" text-anchor="middle" stroke="#111" stroke-width="0.22">526</text>
<text x="420.7" y="438.2" font-family="Liberation Serif" font-weight="bold" font-size="10" fill="#111" textLength="16.5" lengthAdjust="spacingAndGlyphs" text-anchor="middle" stroke="#111" stroke-width="0.22">528</text>
<text x="457" y="438.2" font-family="Liberation Serif" font-weight="bold" font-size="10" fill="#111" textLength="16.5" lengthAdjust="spacingAndGlyphs" text-anchor="middle" stroke="#111" stroke-width="0.22">530</text>
<text x="493.3" y="438.2" font-family="Liberation Serif" font-weight="bold" font-size="10" fill="#111" textLength="16.5" lengthAdjust="spacingAndGlyphs" text-anchor="middle" stroke="#111" stroke-width="0.22">532</text>
<text x="529.6" y="438.2" font-family="Liberation Serif" font-weight="bold" font-size="10" fill="#111" textLength="16.5" lengthAdjust="spacingAndGlyphs" text-anchor="middle" stroke="#111" stroke-width="0.22">534</text>
<text x="565.9" y="438.2" font-family="Liberation Serif" font-weight="bold" font-size="10" fill="#111" textLength="16.5" lengthAdjust="spacingAndGlyphs" text-anchor="middle" stroke="#111" stroke-width="0.22">536</text>
<text x="602.2" y="438.2" font-family="Liberation Serif" font-weight="bold" font-size="10" fill="#111" textLength="16.5" lengthAdjust="spacingAndGlyphs" text-anchor="middle" stroke="#111" stroke-width="0.22">538</text>
<text x="638.5" y="438.2" font-family="Liberation Serif" font-weight="bold" font-size="10" fill="#111" textLength="16.5" lengthAdjust="spacingAndGlyphs" text-anchor="middle" stroke="#111" stroke-width="0.22">540</text>
</g>
<g id="panelE">
<polyline fill="none" stroke="#222" stroke-width="0.8" stroke-linejoin="round" stroke-dasharray="2.5 1.2 0.8 1.2" points="64.4,640.73 66.65,641.2 65.88,637.21 68.09,641.2 69.32,641.2 72.01,637.62 72.62,641.2 73.81,641.2 76.12,641.2 74.63,638.84 76.44,641.2 77.18,638.8 81.75,641.2 82.02,639.17 83.89,640.19 85.96,641.2 85.55,640.1 88.76,641.2 89.3,641.2 89.83,641.2 91.73,641.06 93.76,638.6 94.01,640.87 97.62,639.33 99.55,641.2 99.7,641.2 100.8,637 101.04,639.82 102.21,639.07 104.87,640.9 105.66,639.19 106.56,638.64 108.38,641.2 111.91,634.78 111.32,641.2 113.67,641.2 113.69,641.2 115.76,641.2 117.24,636.62 119.83,638.16 120.91,638.35 122.1,639.93 122.32,641.2 122.6,641.01 125.98,639.96 128.11,641.2 128.13,637.23 130.21,636.54 130.59,637.49 132.03,636.95 134.03,631.64 137.62,625.35 136.66,633.28 138.2,635.91 141.29,623.05 142.56,625.5 142.21,619.58 142.5,622.15 146.74,624.35 146.34,621.36 147.75,622.32 148.97,620.57 150.6,619.7 155,623.64 154.4,625.8 156.07,627.42 158.28,631.05 159.42,632.93 160.08,630.72 160.22,635.09 163.82,640.34 161.71,635.12 164.9,635.38 167,632.95 167.89,632.31 170.4,633.17 172.47,630.63 173.62,631.56 172.19,632.09 175.05,631.83 179.62,628.53 178.47,629.26 178.41,628.69 179.82,631.55 183.14,624.23 183.5,630.95 184.34,630.8 187.15,627.78 188.31,629.41 189.03,621.44 191,625.9 192.62,624.62 194.27,621.19 194,616.54 195.08,620.4 197.72,616.05 200.91,619.14 200.29,620.41 201.24,615.82 202.82,620.05 204.99,616.3 207.8,611.66 207.62,615.66 208.89,615.36 211.59,615.05 212.42,611.72 212.63,618.45 215.5,616.06 218.13,609.49 217.29,614.21 219.48,611.51 220.17,611.74 222.12,619.64 225.45,615.23 224.27,613.33 226.44,615.26 228.14,616 229.16,613.31 230.44,620.51 231.96,622.74 232.32,622.33 233.25,624.8 236.07,618.09 238.54,629.04 239.67,626.2 241.2,628.2 242.5,628.73 244.07,630.31 246.26,622.9 245.79,629.35 248.32,634.37 247.53,628.16 251.61,631.9 252.04,633.73 252.01,633.34 253.76,628.91 256.6,635.13 257.38,635.88 259.38,635.46 260.01,636.24 261.23,633.88 264.6,637.64 264.42,635.87 266.85,637.55 265.83,637.15 266.51,636.18 268.56,641.2 272.52,639.26 272.6,640.92 273.78,635.76 274.92,641.19 276.14,640.61 279.15,639.3 279.02,636.3 280.91,634.74 284.17,638.99 282.27,639.56 285.57,640.45 286.96,635.39 287.82,637.77 290.73,637.49 293.57,641.2 293.08,639.73 295.86,637.03 295.65,640.22 296.85,641.2 296.53,641.2 301.05,641.2 302.71,640.45 302.94,637.37 304.34,640.31 304.92,640.32 306.63,638.61 309.33,641.2 309.68,641.2 311.63,641.2 312.22,641.2 315.52,641.2 315.54,638.73 316.01,635.18 317.5,641.2"/>
<path fill="#0a0a0a" d="M64.75 639.3h3.8v3.8h-3.8zM63.98 635.31h3.8v3.8h-3.8zM66.19 639.3h3.8v3.8h-3.8zM67.42 639.3h3.8v3.8h-3.8zM70.11 635.72h3.8v3.8h-3.8zM70.72 639.3h3.8v3.8h-3.8zM71.91 639.3h3.8v3.8h-3.8zM74.22 639.3h3.8v3.8h-3.8zM72.73 636.94h3.8v3.8h-3.8zM74.54 639.3h3.8v3.8h-3.8zM75.28 636.9h3.8v3.8h-3.8zM79.85 639.3h3.8v3.8h-3.8zM80.12 637.27h3.8v3.8h-3.8zM81.99 638.29h3.8v3.8h-3.8zM84.06 639.3h3.8v3.8h-3.8zM83.65 638.2h3.8v3.8h-3.8zM86.86 639.3h3.8v3.8h-3.8zM87.4 639.3h3.8v3.8h-3.8zM87.93 639.3h3.8v3.8h-3.8zM89.83 639.16h3.8v3.8h-3.8zM91.86 636.7h3.8v3.8h-3.8zM92.11 638.97h3.8v3.8h-3.8zM95.72 637.43h3.8v3.8h-3.8zM97.65 639.3h3.8v3.8h-3.8zM97.8 639.3h3.8v3.8h-3.8zM98.9 635.1h3.8v3.8h-3.8zM99.14 637.92h3.8v3.8h-3.8zM100.31 637.17h3.8v3.8h-3.8zM102.97 639h3.8v3.8h-3.8zM103.76 637.29h3.8v3.8h-3.8zM104.66 636.74h3.8v3.8h-3.8zM106.48 639.3h3.8v3.8h-3.8zM110.01 632.88h3.8v3.8h-3.8zM109.42 639.3h3.8v3.8h-3.8zM111.77 639.3h3.8v3.8h-3.8zM111.79 639.3h3.8v3.8h-3.8zM113.86 639.3h3.8v3.8h-3.8zM115.34 634.72h3.8v3.8h-3.8zM117.93 636.26h3.8v3.8h-3.8zM119.01 636.45h3.8v3.8h-3.8zM120.2 638.03h3.8v3.8h-3.8zM120.42 639.3h3.8v3.8h-3.8zM120.7 639.11h3.8v3.8h-3.8zM124.08 638.06h3.8v3.8h-3.8zM126.21 639.3h3.8v3.8h-3.8zM126.23 635.33h3.8v3.8h-3.8zM128.31 634.64h3.8v3.8h-3.8zM128.69 635.59h3.8v3.8h-3.8zM130.13 635.05h3.8v3.8h-3.8zM132.13 629.74h3.8v3.8h-3.8zM135.72 623.45h3.8v3.8h-3.8zM134.76 631.38h3.8v3.8h-3.8zM136.3 634.01h3.8v3.8h-3.8zM139.39 621.15h3.8v3.8h-3.8zM140.66 623.6h3.8v3.8h-3.8zM140.31 617.68h3.8v3.8h-3.8zM140.6 620.25h3.8v3.8h-3.8zM144.84 622.45h3.8v3.8h-3.8zM144.44 619.46h3.8v3.8h-3.8zM145.85 620.42h3.8v3.8h-3.8zM147.07 618.67h3.8v3.8h-3.8zM148.7 617.8h3.8v3.8h-3.8zM153.1 621.74h3.8v3.8h-3.8zM152.5 623.9h3.8v3.8h-3.8zM154.17 625.52h3.8v3.8h-3.8zM156.38 629.15h3.8v3.8h-3.8zM157.52 631.03h3.8v3.8h-3.8zM158.18 628.82h3.8v3.8h-3.8zM158.32 633.19h3.8v3.8h-3.8zM161.92 638.44h3.8v3.8h-3.8zM159.81 633.22h3.8v3.8h-3.8zM163 633.48h3.8v3.8h-3.8zM165.1 631.05h3.8v3.8h-3.8zM165.99 630.41h3.8v3.8h-3.8zM168.5 631.27h3.8v3.8h-3.8zM170.57 628.73h3.8v3.8h-3.8zM171.72 629.66h3.8v3.8h-3.8zM170.29 630.19h3.8v3.8h-3.8zM173.15 629.93h3.8v3.8h-3.8zM177.72 626.63h3.8v3.8h-3.8zM176.57 627.36h3.8v3.8h-3.8zM176.51 626.79h3.8v3.8h-3.8zM177.92 629.65h3.8v3.8h-3.8zM181.24 622.33h3.8v3.8h-3.8zM181.6 629.05h3.8v3.8h-3.8zM182.44 628.9h3.8v3.8h-3.8zM185.25 625.88h3.8v3.8h-3.8zM186.41 627.51h3.8v3.8h-3.8zM187.13 619.54h3.8v3.8h-3.8zM189.1 624h3.8v3.8h-3.8zM190.72 622.72h3.8v3.8h-3.8zM192.37 619.29h3.8v3.8h-3.8zM192.1 614.64h3.8v3.8h-3.8zM193.18 618.5h3.8v3.8h-3.8zM195.82 614.15h3.8v3.8h-3.8zM199.01 617.24h3.8v3.8h-3.8zM198.39 618.51h3.8v3.8h-3.8zM199.34 613.92h3.8v3.8h-3.8zM200.92 618.15h3.8v3.8h-3.8zM203.09 614.4h3.8v3.8h-3.8zM205.9 609.76h3.8v3.8h-3.8zM205.72 613.76h3.8v3.8h-3.8zM206.99 613.46h3.8v3.8h-3.8zM209.69 613.15h3.8v3.8h-3.8zM210.52 609.82h3.8v3.8h-3.8zM210.73 616.55h3.8v3.8h-3.8zM213.6 614.16h3.8v3.8h-3.8zM216.23 607.59h3.8v3.8h-3.8zM215.39 612.31h3.8v3.8h-3.8zM217.58 609.61h3.8v3.8h-3.8zM218.27 609.84h3.8v3.8h-3.8zM220.22 617.74h3.8v3.8h-3.8zM223.55 613.33h3.8v3.8h-3.8zM222.37 611.43h3.8v3.8h-3.8zM224.54 613.36h3.8v3.8h-3.8zM226.24 614.1h3.8v3.8h-3.8zM227.26 611.41h3.8v3.8h-3.8zM228.54 618.61h3.8v3.8h-3.8zM230.06 620.84h3.8v3.8h-3.8zM230.42 620.43h3.8v3.8h-3.8zM231.35 622.9h3.8v3.8h-3.8zM234.17 616.19h3.8v3.8h-3.8zM236.64 627.14h3.8v3.8h-3.8zM237.77 624.3h3.8v3.8h-3.8zM239.3 626.3h3.8v3.8h-3.8zM240.6 626.83h3.8v3.8h-3.8zM242.17 628.41h3.8v3.8h-3.8zM244.36 621h3.8v3.8h-3.8zM243.89 627.45h3.8v3.8h-3.8zM246.42 632.47h3.8v3.8h-3.8zM245.63 626.26h3.8v3.8h-3.8zM249.71 630h3.8v3.8h-3.8zM250.14 631.83h3.8v3.8h-3.8zM250.11 631.44h3.8v3.8h-3.8zM251.86 627.01h3.8v3.8h-3.8zM254.7 633.23h3.8v3.8h-3.8zM255.48 633.98h3.8v3.8h-3.8zM257.48 633.56h3.8v3.8h-3.8zM258.11 634.34h3.8v3.8h-3.8zM259.33 631.98h3.8v3.8h-3.8zM262.7 635.74h3.8v3.8h-3.8zM262.52 633.97h3.8v3.8h-3.8zM264.95 635.65h3.8v3.8h-3.8zM263.93 635.25h3.8v3.8h-3.8zM264.61 634.28h3.8v3.8h-3.8zM266.66 639.3h3.8v3.8h-3.8zM270.62 637.36h3.8v3.8h-3.8zM270.7 639.02h3.8v3.8h-3.8zM271.88 633.86h3.8v3.8h-3.8zM273.02 639.29h3.8v3.8h-3.8zM274.24 638.71h3.8v3.8h-3.8zM277.25 637.4h3.8v3.8h-3.8zM277.12 634.4h3.8v3.8h-3.8zM279.01 632.84h3.8v3.8h-3.8zM282.27 637.09h3.8v3.8h-3.8zM280.37 637.66h3.8v3.8h-3.8zM283.67 638.55h3.8v3.8h-3.8zM285.06 633.49h3.8v3.8h-3.8zM285.92 635.87h3.8v3.8h-3.8zM288.83 635.59h3.8v3.8h-3.8zM291.67 639.3h3.8v3.8h-3.8zM291.18 637.83h3.8v3.8h-3.8zM293.96 635.13h3.8v3.8h-3.8zM293.75 638.32h3.8v3.8h-3.8zM294.95 639.3h3.8v3.8h-3.8zM294.63 639.3h3.8v3.8h-3.8zM299.15 639.3h3.8v3.8h-3.8zM300.81 638.55h3.8v3.8h-3.8zM301.04 635.47h3.8v3.8h-3.8zM302.44 638.41h3.8v3.8h-3.8zM303.02 638.42h3.8v3.8h-3.8zM304.73 636.71h3.8v3.8h-3.8zM307.43 639.3h3.8v3.8h-3.8zM307.78 639.3h3.8v3.8h-3.8zM309.73 639.3h3.8v3.8h-3.8zM310.32 639.3h3.8v3.8h-3.8zM313.62 639.3h3.8v3.8h-3.8zM313.64 636.83h3.8v3.8h-3.8zM314.11 633.28h3.8v3.8h-3.8z"/>
<path d="M129.1 641.3Q150 640.6 164.7 638.7" fill="none" stroke="#22dd22" stroke-width="1.9"/>
<path d="M163.8 641.1L270 641.1" fill="none" stroke="#1a1add" stroke-width="1.9"/>
<polyline fill="none" stroke="#e01010" stroke-width="2.1" stroke-linejoin="round" points="64.5,640.8 65.5,640.8 66.5,640.8 67.5,640.8 68.5,640.8 69.5,640.8 70.5,640.79 71.5,640.79 72.5,640.79 73.5,640.79 74.5,640.79 75.5,640.79 76.5,640.79 77.5,640.79 78.5,640.79 79.5,640.79 80.5,640.79 81.5,640.79 82.5,640.79 83.5,640.78 84.5,640.78 85.5,640.78 86.5,640.78 87.5,640.78 88.5,640.78 89.5,640.78 90.5,640.78 91.5,640.78 92.5,640.78 93.5,640.78 94.5,640.78 95.5,640.77 96.5,640.77 97.5,640.77 98.5,640.77 99.5,640.77 100.5,640.77 101.5,640.77 102.5,640.77 103.5,640.77 104.5,640.77 105.5,640.77 106.5,640.76 107.5,640.76 108.5,640.76 109.5,640.76 110.5,640.76 111.5,640.76 112.5,640.76 113.5,640.75 114.5,640.75 115.5,640.74 116.5,640.74 117.5,640.73 118.5,640.72 119.5,640.7 120.5,640.67 121.5,640.63 122.5,640.58 123.5,640.5 124.5,640.39 125.5,640.25 126.5,640.05 127.5,639.79 128.5,639.46 129.5,639.03 130.5,638.49 131.5,637.84 132.5,637.05 133.5,636.11 134.5,635.03 135.5,633.81 136.5,632.45 137.5,630.99 138.5,629.44 139.5,627.86 140.5,626.28 141.5,624.76 142.5,623.36 143.5,622.13 144.5,621.12 145.5,620.37 146.5,619.93 147.5,619.79 148.5,619.97 149.5,620.46 150.5,621.22 151.5,622.22 152.5,623.4 153.5,624.72 154.5,626.12 155.5,627.53 156.5,628.92 157.5,630.23 158.5,631.43 159.5,632.49 160.5,633.41 161.5,634.16 162.5,634.76 163.5,635.2 164.5,635.5 165.5,635.67 166.5,635.73 167.5,635.69 168.5,635.56 169.5,635.35 170.5,635.09 171.5,634.77 172.5,634.41 173.5,634.02 174.5,633.59 175.5,633.13 176.5,632.65 177.5,632.14 178.5,631.61 179.5,631.07 180.5,630.51 181.5,629.93 182.5,629.33 183.5,628.73 184.5,628.11 185.5,627.48 186.5,626.84 187.5,626.2 188.5,625.55 189.5,624.89 190.5,624.24 191.5,623.59 192.5,622.94 193.5,622.29 194.5,621.66 195.5,621.03 196.5,620.42 197.5,619.82 198.5,619.24 199.5,618.68 200.5,618.14 201.5,617.63 202.5,617.15 203.5,616.69 204.5,616.26 205.5,615.87 206.5,615.51 207.5,615.19 208.5,614.91 209.5,614.67 210.5,614.47 211.5,614.31 212.5,614.19 213.5,614.11 214.5,614.08 215.5,614.09 216.5,614.15 217.5,614.25 218.5,614.39 219.5,614.58 220.5,614.8 221.5,615.07 222.5,615.37 223.5,615.71 224.5,616.09 225.5,616.5 226.5,616.94 227.5,617.41 228.5,617.91 229.5,618.44 230.5,618.99 231.5,619.56 232.5,620.15 233.5,620.76 234.5,621.38 235.5,622.01 236.5,622.65 237.5,623.29 238.5,623.94 239.5,624.59 240.5,625.25 241.5,625.89 242.5,626.54 243.5,627.18 244.5,627.81 245.5,628.43 246.5,629.04 247.5,629.64 248.5,630.23 249.5,630.79 250.5,631.35 251.5,631.88 252.5,632.4 253.5,632.91 254.5,633.39 255.5,633.85 256.5,634.3 257.5,634.72 258.5,635.13 259.5,635.51 260.5,635.88 261.5,636.23 262.5,636.55 263.5,636.86 264.5,637.16 265.5,637.43 266.5,637.69 267.5,637.93 268.5,638.16 269.5,638.37 270.5,638.56 271.5,638.75 272.5,638.91 273.5,639.07 274.5,639.21 275.5,639.35 276.5,639.47 277.5,639.58 278.5,639.68 279.5,639.78 280.5,639.86 281.5,639.94 282.5,640.01 283.5,640.08 284.5,640.14 285.5,640.19 286.5,640.24 287.5,640.28 288.5,640.32 289.5,640.35 290.5,640.38 291.5,640.41 292.5,640.43 293.5,640.46 294.5,640.47 295.5,640.49 296.5,640.51 297.5,640.52 298.5,640.53 299.5,640.54 300.5,640.55 301.5,640.56 302.5,640.56 303.5,640.57 304.5,640.57 305.5,640.58 306.5,640.58 307.5,640.59 308.5,640.59 309.5,640.59 310.5,640.59 311.5,640.59 312.5,640.59 313.5,640.59 314.5,640.6 315.5,640.6 316.5,640.6"/>
<rect x="63.8" y="456.2" width="254.3" height="187" fill="none" stroke="#000" stroke-width="1.45"/>
<line x1="63.8" y1="643.2" x2="63.8" y2="647.4" stroke="#000" stroke-width="1.35"/>
<line x1="77.93" y1="643.2" x2="77.93" y2="645.4" stroke="#000" stroke-width="1.35"/>
<line x1="92.06" y1="643.2" x2="92.06" y2="647.4" stroke="#000" stroke-width="1.35"/>
<line x1="106.18" y1="643.2" x2="106.18" y2="645.4" stroke="#000" stroke-width="1.35"/>
<line x1="120.31" y1="643.2" x2="120.31" y2="647.4" stroke="#000" stroke-width="1.35"/>
<line x1="134.44" y1="643.2" x2="134.44" y2="645.4" stroke="#000" stroke-width="1.35"/>
<line x1="148.57" y1="643.2" x2="148.57" y2="647.4" stroke="#000" stroke-width="1.35"/>
<line x1="162.69" y1="643.2" x2="162.69" y2="645.4" stroke="#000" stroke-width="1.35"/>
<line x1="176.82" y1="643.2" x2="176.82" y2="647.4" stroke="#000" stroke-width="1.35"/>
<line x1="190.95" y1="643.2" x2="190.95" y2="645.4" stroke="#000" stroke-width="1.35"/>
<line x1="205.08" y1="643.2" x2="205.08" y2="647.4" stroke="#000" stroke-width="1.35"/>
<line x1="219.21" y1="643.2" x2="219.21" y2="645.4" stroke="#000" stroke-width="1.35"/>
<line x1="233.33" y1="643.2" x2="233.33" y2="647.4" stroke="#000" stroke-width="1.35"/>
<line x1="247.46" y1="643.2" x2="247.46" y2="645.4" stroke="#000" stroke-width="1.35"/>
<line x1="261.59" y1="643.2" x2="261.59" y2="647.4" stroke="#000" stroke-width="1.35"/>
<line x1="275.72" y1="643.2" x2="275.72" y2="645.4" stroke="#000" stroke-width="1.35"/>
<line x1="289.84" y1="643.2" x2="289.84" y2="647.4" stroke="#000" stroke-width="1.35"/>
<line x1="303.97" y1="643.2" x2="303.97" y2="645.4" stroke="#000" stroke-width="1.35"/>
<line x1="318.1" y1="643.2" x2="318.1" y2="647.4" stroke="#000" stroke-width="1.35"/>
<text x="63.8" y="657" font-family="Liberation Serif" font-weight="bold" font-size="10" fill="#111" textLength="16.5" lengthAdjust="spacingAndGlyphs" text-anchor="middle" stroke="#111" stroke-width="0.22">342</text>
<text x="92.06" y="657" font-family="Liberation Serif" font-weight="bold" font-size="10" fill="#111" textLength="16.5" lengthAdjust="spacingAndGlyphs" text-anchor="middle" stroke="#111" stroke-width="0.22">344</text>
<text x="120.31" y="657" font-family="Liberation Serif" font-weight="bold" font-size="10" fill="#111" textLength="16.5" lengthAdjust="spacingAndGlyphs" text-anchor="middle" stroke="#111" stroke-width="0.22">346</text>
<text x="148.57" y="657" font-family="Liberation Serif" font-weight="bold" font-size="10" fill="#111" textLength="16.5" lengthAdjust="spacingAndGlyphs" text-anchor="middle" stroke="#111" stroke-width="0.22">348</text>
<text x="176.82" y="657" font-family="Liberation Serif" font-weight="bold" font-size="10" fill="#111" textLength="16.5" lengthAdjust="spacingAndGlyphs" text-anchor="middle" stroke="#111" stroke-width="0.22">350</text>
<text x="205.08" y="657" font-family="Liberation Serif" font-weight="bold" font-size="10" fill="#111" textLength="16.5" lengthAdjust="spacingAndGlyphs" text-anchor="middle" stroke="#111" stroke-width="0.22">352</text>
<text x="233.33" y="657" font-family="Liberation Serif" font-weight="bold" font-size="10" fill="#111" textLength="16.5" lengthAdjust="spacingAndGlyphs" text-anchor="middle" stroke="#111" stroke-width="0.22">354</text>
<text x="261.59" y="657" font-family="Liberation Serif" font-weight="bold" font-size="10" fill="#111" textLength="16.5" lengthAdjust="spacingAndGlyphs" text-anchor="middle" stroke="#111" stroke-width="0.22">356</text>
<text x="289.84" y="657" font-family="Liberation Serif" font-weight="bold" font-size="10" fill="#111" textLength="16.5" lengthAdjust="spacingAndGlyphs" text-anchor="middle" stroke="#111" stroke-width="0.22">358</text>
<text x="318.1" y="657" font-family="Liberation Serif" font-weight="bold" font-size="10" fill="#111" textLength="16.5" lengthAdjust="spacingAndGlyphs" text-anchor="middle" stroke="#111" stroke-width="0.22">360</text>
<line x1="63.8" y1="641.2" x2="59.8" y2="641.2" stroke="#000" stroke-width="1.35"/>
<line x1="63.8" y1="630.92" x2="61.8" y2="630.92" stroke="#000" stroke-width="1.35"/>
<line x1="63.8" y1="620.65" x2="59.8" y2="620.65" stroke="#000" stroke-width="1.35"/>
<line x1="63.8" y1="610.37" x2="61.8" y2="610.37" stroke="#000" stroke-width="1.35"/>
<line x1="63.8" y1="600.09" x2="59.8" y2="600.09" stroke="#000" stroke-width="1.35"/>
<line x1="63.8" y1="589.81" x2="61.8" y2="589.81" stroke="#000" stroke-width="1.35"/>
<line x1="63.8" y1="579.54" x2="59.8" y2="579.54" stroke="#000" stroke-width="1.35"/>
<line x1="63.8" y1="569.26" x2="61.8" y2="569.26" stroke="#000" stroke-width="1.35"/>
<line x1="63.8" y1="558.98" x2="59.8" y2="558.98" stroke="#000" stroke-width="1.35"/>
<line x1="63.8" y1="548.7" x2="61.8" y2="548.7" stroke="#000" stroke-width="1.35"/>
<line x1="63.8" y1="538.43" x2="59.8" y2="538.43" stroke="#000" stroke-width="1.35"/>
<line x1="63.8" y1="528.15" x2="61.8" y2="528.15" stroke="#000" stroke-width="1.35"/>
<line x1="63.8" y1="517.87" x2="59.8" y2="517.87" stroke="#000" stroke-width="1.35"/>
<line x1="63.8" y1="507.59" x2="61.8" y2="507.59" stroke="#000" stroke-width="1.35"/>
<line x1="63.8" y1="497.32" x2="59.8" y2="497.32" stroke="#000" stroke-width="1.35"/>
<line x1="63.8" y1="487.04" x2="61.8" y2="487.04" stroke="#000" stroke-width="1.35"/>
<line x1="63.8" y1="476.76" x2="59.8" y2="476.76" stroke="#000" stroke-width="1.35"/>
<line x1="63.8" y1="466.48" x2="61.8" y2="466.48" stroke="#000" stroke-width="1.35"/>
<line x1="63.8" y1="456.21" x2="59.8" y2="456.21" stroke="#000" stroke-width="1.35"/>
<text x="56.9" y="643.6" font-family="Liberation Serif" font-weight="bold" font-size="10" fill="#111" textLength="5.55" lengthAdjust="spacingAndGlyphs" text-anchor="end" stroke="#111" stroke-width="0.22">0</text>
<text x="56.9" y="623.05" font-family="Liberation Serif" font-weight="bold" font-size="10" fill="#111" textLength="11.1" lengthAdjust="spacingAndGlyphs" text-anchor="end" stroke="#111" stroke-width="0.22">50</text>
<text x="56.9" y="602.49" font-family="Liberation Serif" font-weight="bold" font-size="10" fill="#111" textLength="16.65" lengthAdjust="spacingAndGlyphs" text-anchor="end" stroke="#111" stroke-width="0.22">100</text>
<text x="56.9" y="581.94" font-family="Liberation Serif" font-weight="bold" font-size="10" fill="#111" textLength="16.65" lengthAdjust="spacingAndGlyphs" text-anchor="end" stroke="#111" stroke-width="0.22">150</text>
<text x="56.9" y="561.38" font-family="Liberation Serif" font-weight="bold" font-size="10" fill="#111" textLength="16.65" lengthAdjust="spacingAndGlyphs" text-anchor="end" stroke="#111" stroke-width="0.22">200</text>
<text x="56.9" y="540.83" font-family="Liberation Serif" font-weight="bold" font-size="10" fill="#111" textLength="16.65" lengthAdjust="spacingAndGlyphs" text-anchor="end" stroke="#111" stroke-width="0.22">250</text>
<text x="56.9" y="520.27" font-family="Liberation Serif" font-weight="bold" font-size="10" fill="#111" textLength="16.65" lengthAdjust="spacingAndGlyphs" text-anchor="end" stroke="#111" stroke-width="0.22">300</text>
<text x="56.9" y="499.72" font-family="Liberation Serif" font-weight="bold" font-size="10" fill="#111" textLength="16.65" lengthAdjust="spacingAndGlyphs" text-anchor="end" stroke="#111" stroke-width="0.22">350</text>
<text x="56.9" y="479.16" font-family="Liberation Serif" font-weight="bold" font-size="10" fill="#111" textLength="16.65" lengthAdjust="spacingAndGlyphs" text-anchor="end" stroke="#111" stroke-width="0.22">400</text>
<text x="56.9" y="458.61" font-family="Liberation Serif" font-weight="bold" font-size="10" fill="#111" textLength="16.65" lengthAdjust="spacingAndGlyphs" text-anchor="end" stroke="#111" stroke-width="0.22">450</text>
</g>
<g id="panelF">
<polyline fill="none" stroke="#222" stroke-width="0.8" stroke-linejoin="round" stroke-dasharray="2.5 1.2 0.8 1.2" points="389.5,636.54 389.5,635.84 391.65,634.63 392.88,636.01 393.96,637.52 395.91,638.13 397.26,635.11 398.25,634.59 399.93,636.3 401.06,636.48 403.72,631.06 405.21,633.35 405.88,636.1 406.92,635.46 408.64,635.13 408.05,635.49 411.76,633.96 412.7,635.33 414.4,636.64 414.43,634.85 416.67,636.72 418.8,633.45 420,635.9 421.44,635.42 423.15,634.98 425.6,634.47 425.14,634.52 428.1,635.39 428.81,635.72 430.8,635.61 430.99,632.95 431.63,632.64 434.56,635.76 435.81,635.58 437.23,634.24 438.97,633.89 440.23,636.65 441.51,633.71 443.28,634.03 444.19,633.82 444.99,634.59 445.57,632.82 447.8,626.89 448.87,622.81 449.4,624.92 453.17,613.96 453.59,609.75 455.39,605.41 456.2,597.43 457.83,587.5 460.7,566.07 462.2,551.44 460.54,566.84 463.02,541.91 466.03,517.59 466.83,509.9 467.19,509.35 469.31,492.24 472.81,491.71 473.81,491.84 473.89,493.74 475,493.82 476.47,504.19 477.96,512.89 479.71,525.71 480.91,530.97 482.04,544.34 483.06,555.42 485.37,578.13 486.85,585.8 488.56,596.29 488.32,594.2 490.25,605.96 491.15,612.65 493.85,619.23 495.61,623.69 494.17,621.65 498.09,625.75 499.37,628.42 501.29,625.48 503.62,624.36 500.89,625.01 503.71,621.5 506.6,618.24 506.72,615.06 508.09,607.86 510.03,606.36 510.31,604.66 513.82,582.95 514.03,589.57 515.94,577.11 518.01,567.65 517.1,574.17 521.13,560.8 521.66,561.85 525.26,561.36 523.07,562.82 526.94,561.98 527.26,566.62 527.95,572.32 530.34,579.89 531.79,584.84 533.24,590.83 534.19,595.58 535.61,600.07 537.04,606.88 537.57,607.53 539.29,610.16 541.67,617.73 543.21,618.46 544.3,616.43 545.27,620.68 548.78,623 547.54,625.46 549.12,625.25 551.01,621.63 551.82,626.94 552.63,626.18 555.68,627.84 555.14,630.63 559.4,630.54 558.53,629.43 561.09,626.44 563.65,627.49 563.21,628.16 565.71,631.88 566.3,628.92 568.58,628.84 570.18,628.98 572.21,628.36 572,627.21 574.18,630.21 575.43,626.51 576.6,630.43 577.72,623.29 580.24,629.51 580.31,630.57 583.85,629.1 582.19,627.59 585.44,629.76 585.06,628.69 588.34,628.84 589.57,631.44 590.09,629.2 592,629.93 594,627.16 595.78,627.33 597.9,626.48 598.89,630.34 599.3,629.61 600.17,630.9 601.58,627.6 604.57,628.95 604.86,630.42 605.96,629.83 607.12,629.36 610.5,628.24 610.51,627.44 611.54,629.15 612.86,629.16 614.73,631.2 616.2,628.83 615.59,628.37 619.62,629.98 621.36,627.01 621.8,627.88 621.9,630.05 625.03,627.99 624.16,629.1 626.94,630.68 629.19,627.25 629.18,627.98 631.09,629.11 632.39,627.59 634.5,628.04 636.81,630.62 635.59,628.8 639.27,631.37 641.78,627.46 639.5,628.05 642.3,628.65"/>
<path fill="#0a0a0a" d="M389.75 632.73h3.8v3.8h-3.8zM390.98 634.11h3.8v3.8h-3.8zM392.06 635.62h3.8v3.8h-3.8zM394.01 636.23h3.8v3.8h-3.8zM395.36 633.21h3.8v3.8h-3.8zM396.35 632.69h3.8v3.8h-3.8zM398.03 634.4h3.8v3.8h-3.8zM399.16 634.58h3.8v3.8h-3.8zM401.82 629.16h3.8v3.8h-3.8zM403.31 631.45h3.8v3.8h-3.8zM403.98 634.2h3.8v3.8h-3.8zM405.02 633.56h3.8v3.8h-3.8zM406.74 633.23h3.8v3.8h-3.8zM406.15 633.59h3.8v3.8h-3.8zM409.86 632.06h3.8v3.8h-3.8zM410.8 633.43h3.8v3.8h-3.8zM412.5 634.74h3.8v3.8h-3.8zM412.53 632.95h3.8v3.8h-3.8zM414.77 634.82h3.8v3.8h-3.8zM416.9 631.55h3.8v3.8h-3.8zM418.1 634h3.8v3.8h-3.8zM419.54 633.52h3.8v3.8h-3.8zM421.25 633.08h3.8v3.8h-3.8zM423.7 632.57h3.8v3.8h-3.8zM423.24 632.62h3.8v3.8h-3.8zM426.2 633.49h3.8v3.8h-3.8zM426.91 633.82h3.8v3.8h-3.8zM428.9 633.71h3.8v3.8h-3.8zM429.09 631.05h3.8v3.8h-3.8zM429.73 630.74h3.8v3.8h-3.8zM432.66 633.86h3.8v3.8h-3.8zM433.91 633.68h3.8v3.8h-3.8zM435.33 632.34h3.8v3.8h-3.8zM437.07 631.99h3.8v3.8h-3.8zM438.33 634.75h3.8v3.8h-3.8zM439.61 631.81h3.8v3.8h-3.8zM441.38 632.13h3.8v3.8h-3.8zM442.29 631.92h3.8v3.8h-3.8zM443.09 632.69h3.8v3.8h-3.8zM443.67 630.92h3.8v3.8h-3.8zM445.9 624.99h3.8v3.8h-3.8zM446.97 620.91h3.8v3.8h-3.8zM447.5 623.02h3.8v3.8h-3.8zM451.27 612.06h3.8v3.8h-3.8zM451.69 607.85h3.8v3.8h-3.8zM453.49 603.51h3.8v3.8h-3.8zM454.3 595.53h3.8v3.8h-3.8zM455.93 585.6h3.8v3.8h-3.8zM458.8 564.17h3.8v3.8h-3.8zM460.3 549.54h3.8v3.8h-3.8zM458.64 564.94h3.8v3.8h-3.8zM461.12 540.01h3.8v3.8h-3.8zM464.13 515.69h3.8v3.8h-3.8zM464.93 508h3.8v3.8h-3.8zM465.29 507.45h3.8v3.8h-3.8zM467.41 490.34h3.8v3.8h-3.8zM470.91 489.81h3.8v3.8h-3.8zM471.91 489.94h3.8v3.8h-3.8zM471.99 491.84h3.8v3.8h-3.8zM473.1 491.92h3.8v3.8h-3.8zM474.57 502.29h3.8v3.8h-3.8zM476.06 510.99h3.8v3.8h-3.8zM477.81 523.81h3.8v3.8h-3.8zM479.01 529.07h3.8v3.8h-3.8zM480.14 542.44h3.8v3.8h-3.8zM481.16 553.52h3.8v3.8h-3.8zM483.47 576.23h3.8v3.8h-3.8zM484.95 583.9h3.8v3.8h-3.8zM486.66 594.39h3.8v3.8h-3.8zM486.42 592.3h3.8v3.8h-3.8zM488.35 604.06h3.8v3.8h-3.8zM489.25 610.75h3.8v3.8h-3.8zM491.95 617.33h3.8v3.8h-3.8zM493.71 621.79h3.8v3.8h-3.8zM492.27 619.75h3.8v3.8h-3.8zM496.19 623.85h3.8v3.8h-3.8zM497.47 626.52h3.8v3.8h-3.8zM499.39 623.58h3.8v3.8h-3.8zM501.72 622.46h3.8v3.8h-3.8zM498.99 623.11h3.8v3.8h-3.8zM501.81 619.6h3.8v3.8h-3.8zM504.7 616.34h3.8v3.8h-3.8zM504.82 613.16h3.8v3.8h-3.8zM506.19 605.96h3.8v3.8h-3.8zM508.13 604.46h3.8v3.8h-3.8zM508.41 602.76h3.8v3.8h-3.8zM511.92 581.05h3.8v3.8h-3.8zM512.13 587.67h3.8v3.8h-3.8zM514.04 575.21h3.8v3.8h-3.8zM516.11 565.75h3.8v3.8h-3.8zM515.2 572.27h3.8v3.8h-3.8zM519.23 558.9h3.8v3.8h-3.8zM519.76 559.95h3.8v3.8h-3.8zM523.36 559.46h3.8v3.8h-3.8zM521.17 560.92h3.8v3.8h-3.8zM525.04 560.08h3.8v3.8h-3.8zM525.36 564.72h3.8v3.8h-3.8zM526.05 570.42h3.8v3.8h-3.8zM528.44 577.99h3.8v3.8h-3.8zM529.89 582.94h3.8v3.8h-3.8zM531.34 588.93h3.8v3.8h-3.8zM532.29 593.68h3.8v3.8h-3.8zM533.71 598.17h3.8v3.8h-3.8zM535.14 604.98h3.8v3.8h-3.8zM535.67 605.63h3.8v3.8h-3.8zM537.39 608.26h3.8v3.8h-3.8zM539.77 615.83h3.8v3.8h-3.8zM541.31 616.56h3.8v3.8h-3.8zM542.4 614.53h3.8v3.8h-3.8zM543.37 618.78h3.8v3.8h-3.8zM546.88 621.1h3.8v3.8h-3.8zM545.64 623.56h3.8v3.8h-3.8zM547.22 623.35h3.8v3.8h-3.8zM549.11 619.73h3.8v3.8h-3.8zM549.92 625.04h3.8v3.8h-3.8zM550.73 624.28h3.8v3.8h-3.8zM553.78 625.94h3.8v3.8h-3.8zM553.24 628.73h3.8v3.8h-3.8zM557.5 628.64h3.8v3.8h-3.8zM556.63 627.53h3.8v3.8h-3.8zM559.19 624.54h3.8v3.8h-3.8zM561.75 625.59h3.8v3.8h-3.8zM561.31 626.26h3.8v3.8h-3.8zM563.81 629.98h3.8v3.8h-3.8zM564.4 627.02h3.8v3.8h-3.8zM566.68 626.94h3.8v3.8h-3.8zM568.28 627.08h3.8v3.8h-3.8zM570.31 626.46h3.8v3.8h-3.8zM570.1 625.31h3.8v3.8h-3.8zM572.28 628.31h3.8v3.8h-3.8zM573.53 624.61h3.8v3.8h-3.8zM574.7 628.53h3.8v3.8h-3.8zM575.82 621.39h3.8v3.8h-3.8zM578.34 627.61h3.8v3.8h-3.8zM578.41 628.67h3.8v3.8h-3.8zM581.95 627.2h3.8v3.8h-3.8zM580.29 625.69h3.8v3.8h-3.8zM583.54 627.86h3.8v3.8h-3.8zM583.16 626.79h3.8v3.8h-3.8zM586.44 626.94h3.8v3.8h-3.8zM587.67 629.54h3.8v3.8h-3.8zM588.19 627.3h3.8v3.8h-3.8zM590.1 628.03h3.8v3.8h-3.8zM592.1 625.26h3.8v3.8h-3.8zM593.88 625.43h3.8v3.8h-3.8zM596 624.58h3.8v3.8h-3.8zM596.99 628.44h3.8v3.8h-3.8zM597.4 627.71h3.8v3.8h-3.8zM598.27 629h3.8v3.8h-3.8zM599.68 625.7h3.8v3.8h-3.8zM602.67 627.05h3.8v3.8h-3.8zM602.96 628.52h3.8v3.8h-3.8zM604.06 627.93h3.8v3.8h-3.8zM605.22 627.46h3.8v3.8h-3.8zM608.6 626.34h3.8v3.8h-3.8zM608.61 625.54h3.8v3.8h-3.8zM609.64 627.25h3.8v3.8h-3.8zM610.96 627.26h3.8v3.8h-3.8zM612.83 629.3h3.8v3.8h-3.8zM614.3 626.93h3.8v3.8h-3.8zM613.69 626.47h3.8v3.8h-3.8zM617.72 628.08h3.8v3.8h-3.8zM619.46 625.11h3.8v3.8h-3.8zM619.9 625.98h3.8v3.8h-3.8zM620 628.15h3.8v3.8h-3.8zM623.13 626.09h3.8v3.8h-3.8zM622.26 627.2h3.8v3.8h-3.8zM625.04 628.78h3.8v3.8h-3.8zM627.29 625.35h3.8v3.8h-3.8zM627.28 626.08h3.8v3.8h-3.8zM629.19 627.21h3.8v3.8h-3.8zM630.49 625.69h3.8v3.8h-3.8zM632.6 626.14h3.8v3.8h-3.8zM634.91 628.72h3.8v3.8h-3.8zM633.69 626.9h3.8v3.8h-3.8zM637.37 629.47h3.8v3.8h-3.8zM639.88 625.56h3.8v3.8h-3.8zM637.6 626.15h3.8v3.8h-3.8z"/>
<path d="M443 632.4L488 632.2Q498 631.6 504.3 624" fill="none" stroke="#22dd22" stroke-width="1.9"/>
<path d="M494.7 626.5Q498 631.6 502 631.9L554 631.9" fill="none" stroke="#1a1add" stroke-width="1.9"/>
<polyline fill="none" stroke="#e01010" stroke-width="2.1" stroke-linejoin="round" points="389.6,632.2 390.6,632.19 391.6,632.19 392.6,632.19 393.6,632.19 394.6,632.18 395.6,632.18 396.6,632.18 397.6,632.17 398.6,632.17 399.6,632.17 400.6,632.16 401.6,632.16 402.6,632.16 403.6,632.15 404.6,632.15 405.6,632.15 406.6,632.14 407.6,632.14 408.6,632.14 409.6,632.13 410.6,632.13 411.6,632.13 412.6,632.13 413.6,632.12 414.6,632.12 415.6,632.12 416.6,632.11 417.6,632.11 418.6,632.11 419.6,632.1 420.6,632.1 421.6,632.1 422.6,632.09 423.6,632.09 424.6,632.09 425.6,632.08 426.6,632.08 427.6,632.08 428.6,632.07 429.6,632.07 430.6,632.06 431.6,632.05 432.6,632.04 433.6,632.02 434.6,632 435.6,631.97 436.6,631.92 437.6,631.86 438.6,631.77 439.6,631.64 440.6,631.47 441.6,631.24 442.6,630.93 443.6,630.51 444.6,629.95 445.6,629.23 446.6,628.31 447.6,627.13 448.6,625.64 449.6,623.8 450.6,621.53 451.6,618.79 452.6,615.52 453.6,611.65 454.6,607.15 455.6,601.99 456.6,596.14 457.6,589.62 458.6,582.45 459.6,574.69 460.6,566.44 461.6,557.81 462.6,548.94 463.6,540.02 464.6,531.25 465.6,522.82 466.6,514.97 467.6,507.91 468.6,501.84 469.6,496.95 470.6,493.38 471.6,491.26 472.6,490.64 473.6,491.56 474.6,493.97 475.6,497.81 476.6,502.94 477.6,509.22 478.6,516.45 479.6,524.42 480.6,532.93 481.6,541.74 482.6,550.66 483.6,559.48 484.6,568.04 485.6,576.19 486.6,583.81 487.6,590.84 488.6,597.2 489.6,602.87 490.6,607.85 491.6,612.14 492.6,615.79 493.6,618.82 494.6,621.28 495.6,623.2 496.6,624.64 497.6,625.64 498.6,626.21 499.6,626.38 500.6,626.16 501.6,625.56 502.6,624.58 503.6,623.21 504.6,621.43 505.6,619.25 506.6,616.64 507.6,613.63 508.6,610.21 509.6,606.41 510.6,602.27 511.6,597.85 512.6,593.22 513.6,588.49 514.6,583.75 515.6,579.13 516.6,574.76 517.6,570.77 518.6,567.28 519.6,564.41 520.6,562.26 521.6,560.9 522.6,560.38 523.6,560.72 524.6,561.91 525.6,563.9 526.6,566.63 527.6,570 528.6,573.89 529.6,578.2 530.6,582.77 531.6,587.49 532.6,592.24 533.6,596.9 534.6,601.38 535.6,605.6 536.6,609.5 537.6,613.04 538.6,616.21 539.6,619 540.6,621.41 541.6,623.46 542.6,625.18 543.6,626.6 544.6,627.76 545.6,628.7 546.6,629.43 547.6,630.01 548.6,630.45 549.6,630.79 550.6,631.04 551.6,631.23 552.6,631.36 553.6,631.46 554.6,631.52 555.6,631.57 556.6,631.6 557.6,631.62 558.6,631.64 559.6,631.64 560.6,631.65 561.6,631.65 562.6,631.65 563.6,631.65 564.6,631.64 565.6,631.64 566.6,631.64 567.6,631.64 568.6,631.63 569.6,631.63 570.6,631.63 571.6,631.62 572.6,631.62 573.6,631.62 574.6,631.62 575.6,631.61 576.6,631.61 577.6,631.61 578.6,631.6 579.6,631.6 580.6,631.6 581.6,631.59 582.6,631.59 583.6,631.59 584.6,631.58 585.6,631.58 586.6,631.58 587.6,631.57 588.6,631.57 589.6,631.57 590.6,631.56 591.6,631.56 592.6,631.56 593.6,631.56 594.6,631.55 595.6,631.55 596.6,631.55 597.6,631.54 598.6,631.54 599.6,631.54 600.6,631.53 601.6,631.53 602.6,631.53 603.6,631.52 604.6,631.52 605.6,631.52 606.6,631.51 607.6,631.51 608.6,631.51 609.6,631.5 610.6,631.5 611.6,631.5 612.6,631.5 613.6,631.49 614.6,631.49 615.6,631.49 616.6,631.48 617.6,631.48 618.6,631.48 619.6,631.47 620.6,631.47 621.6,631.47 622.6,631.46 623.6,631.46 624.6,631.46 625.6,631.45 626.6,631.45 627.6,631.45 628.6,631.45 629.6,631.44 630.6,631.44 631.6,631.44 632.6,631.43 633.6,631.43 634.6,631.43 635.6,631.42 636.6,631.42 637.6,631.42 638.6,631.41 639.6,631.41 640.6,631.41 641.6,631.4"/>
<rect x="388.9" y="453.1" width="254" height="187.3" fill="none" stroke="#000" stroke-width="1.45"/>
<line x1="388.9" y1="640.4" x2="388.9" y2="644.6" stroke="#000" stroke-width="1.35"/>
<line x1="403.01" y1="640.4" x2="403.01" y2="642.6" stroke="#000" stroke-width="1.35"/>
<line x1="417.12" y1="640.4" x2="417.12" y2="644.6" stroke="#000" stroke-width="1.35"/>
<line x1="431.23" y1="640.4" x2="431.23" y2="642.6" stroke="#000" stroke-width="1.35"/>
<line x1="445.34" y1="640.4" x2="445.34" y2="644.6" stroke="#000" stroke-width="1.35"/>
<line x1="459.46" y1="640.4" x2="459.46" y2="642.6" stroke="#000" stroke-width="1.35"/>
<line x1="473.57" y1="640.4" x2="473.57" y2="644.6" stroke="#000" stroke-width="1.35"/>
<line x1="487.68" y1="640.4" x2="487.68" y2="642.6" stroke="#000" stroke-width="1.35"/>
<line x1="501.79" y1="640.4" x2="501.79" y2="644.6" stroke="#000" stroke-width="1.35"/>
<line x1="515.9" y1="640.4" x2="515.9" y2="642.6" stroke="#000" stroke-width="1.35"/>
<line x1="530.01" y1="640.4" x2="530.01" y2="644.6" stroke="#000" stroke-width="1.35"/>
<line x1="544.12" y1="640.4" x2="544.12" y2="642.6" stroke="#000" stroke-width="1.35"/>
<line x1="558.23" y1="640.4" x2="558.23" y2="644.6" stroke="#000" stroke-width="1.35"/>
<line x1="572.34" y1="640.4" x2="572.34" y2="642.6" stroke="#000" stroke-width="1.35"/>
<line x1="586.46" y1="640.4" x2="586.46" y2="644.6" stroke="#000" stroke-width="1.35"/>
<line x1="600.57" y1="640.4" x2="600.57" y2="642.6" stroke="#000" stroke-width="1.35"/>
<line x1="614.68" y1="640.4" x2="614.68" y2="644.6" stroke="#000" stroke-width="1.35"/>
<line x1="628.79" y1="640.4" x2="628.79" y2="642.6" stroke="#000" stroke-width="1.35"/>
<line x1="642.9" y1="640.4" x2="642.9" y2="644.6" stroke="#000" stroke-width="1.35"/>
<text x="388.9" y="654.2" font-family="Liberation Serif" font-weight="bold" font-size="10" fill="#111" textLength="16.5" lengthAdjust="spacingAndGlyphs" text-anchor="middle" stroke="#111" stroke-width="0.22">342</text>
<text x="417.12" y="654.2" font-family="Liberation Serif" font-weight="bold" font-size="10" fill="#111" textLength="16.5" lengthAdjust="spacingAndGlyphs" text-anchor="middle" stroke="#111" stroke-width="0.22">344</text>
<text x="445.34" y="654.2" font-family="Liberation Serif" font-weight="bold" font-size="10" fill="#111" textLength="16.5" lengthAdjust="spacingAndGlyphs" text-anchor="middle" stroke="#111" stroke-width="0.22">346</text>
<text x="473.57" y="654.2" font-family="Liberation Serif" font-weight="bold" font-size="10" fill="#111" textLength="16.5" lengthAdjust="spacingAndGlyphs" text-anchor="middle" stroke="#111" stroke-width="0.22">348</text>
<text x="501.79" y="654.2" font-family="Liberation Serif" font-weight="bold" font-size="10" fill="#111" textLength="16.5" lengthAdjust="spacingAndGlyphs" text-anchor="middle" stroke="#111" stroke-width="0.22">350</text>
<text x="530.01" y="654.2" font-family="Liberation Serif" font-weight="bold" font-size="10" fill="#111" textLength="16.5" lengthAdjust="spacingAndGlyphs" text-anchor="middle" stroke="#111" stroke-width="0.22">352</text>
<text x="558.23" y="654.2" font-family="Liberation Serif" font-weight="bold" font-size="10" fill="#111" textLength="16.5" lengthAdjust="spacingAndGlyphs" text-anchor="middle" stroke="#111" stroke-width="0.22">354</text>
<text x="586.46" y="654.2" font-family="Liberation Serif" font-weight="bold" font-size="10" fill="#111" textLength="16.5" lengthAdjust="spacingAndGlyphs" text-anchor="middle" stroke="#111" stroke-width="0.22">356</text>
<text x="614.68" y="654.2" font-family="Liberation Serif" font-weight="bold" font-size="10" fill="#111" textLength="16.5" lengthAdjust="spacingAndGlyphs" text-anchor="middle" stroke="#111" stroke-width="0.22">358</text>
<text x="642.9" y="654.2" font-family="Liberation Serif" font-weight="bold" font-size="10" fill="#111" textLength="16.5" lengthAdjust="spacingAndGlyphs" text-anchor="middle" stroke="#111" stroke-width="0.22">360</text>
</g>
<g id="panelG">
<polyline fill="none" stroke="#222" stroke-width="0.8" stroke-linejoin="round" stroke-dasharray="2.5 1.2 0.8 1.2" points="64.4,851 65.24,854 67.2,847.98 69.23,850.19 70.35,854 70.24,851.13 75.06,850.78 74.42,849.98 76.53,850.61 80.01,852.05 78.99,852.3 84.41,848.74 86.46,848.12 86.02,854 89.51,848.28 88.93,850.05 92.41,852.44 95.11,853.51 96.05,851.2 98.99,850.78 101.12,850.35 103.45,851.66 103.06,851.75 105.48,846.15 107.55,851.32 108.85,849.98 112.19,850.94 113.07,852.65 115.14,852.19 114.89,850.79 118.4,850.92 121.4,852.89 121.42,847.72 123.3,850.26 125.51,852.04 127.21,848.85 128.05,850.88 128.79,852.11 132.93,851.05 134.5,849.17 135.6,847.48 137.71,849.2 138.93,845.11 143.42,840.93 142.98,843.77 144.96,838.33 146.92,831.19 148.17,832.92 150.85,825.75 154.48,812.94 154.63,810.99 155.05,810.64 156.33,806.79 160.48,785.96 162,777.42 163.74,766.27 166.46,748.49 168.38,743.52 168.46,741.06 169.37,735.05 172.69,719.79 173.8,719.32 177.84,701.12 177.88,702.65 180.1,699.15 182.35,694.77 183.46,695.01 186.09,701.4 187.75,701.26 188.25,699.64 190.98,707.51 193.34,723.3 195.19,723.02 195.36,732.39 197.84,738.09 199.37,756.79 202.08,765.08 203.66,778.13 206.23,792.04 207.97,796.57 209.43,804.43 211,809.16 212.72,815.76 215.52,825.58 217.7,835.22 217.32,828.5 220.06,839.24 222.34,839.7 224.45,845.39 225.69,847.42 226.99,846.68 228.15,848 230.29,853.01 232.74,849.13 233.35,853.42 236.52,853.96 237.6,852.01 240.42,848.12 240.6,852.99 244.74,850.43 244.6,853.52 247.03,851.35 250.68,851.21 249.99,852.85 250.44,853.06 255.52,852.98 256.33,853.08 257.8,852.9 259.44,851.84 261.28,853.53 263.65,852.27 263.46,851.89 267.05,854 270.52,851.86 270.16,854 272.75,850.83 276.14,852.84 275.81,852.59 276.4,847.32 281.1,854 282.31,851.7 283.25,854 286.25,853.76 286.75,851.66 289.42,849.88 291.65,851.34 291.19,853.43 295.57,854 297.61,851.64 297.35,847.76 300.44,852.98 301.21,852.29 303.24,853.09 305.16,853.14 305.89,854 309.1,854 311.84,854 313.29,850.74 314.62,851.73 316.59,854 316.59,853.95"/>
<path fill="#0a0a0a" d="M63.34 852.1h3.8v3.8h-3.8zM65.3 846.08h3.8v3.8h-3.8zM67.33 848.29h3.8v3.8h-3.8zM68.45 852.1h3.8v3.8h-3.8zM68.34 849.23h3.8v3.8h-3.8zM73.16 848.88h3.8v3.8h-3.8zM72.52 848.08h3.8v3.8h-3.8zM74.63 848.71h3.8v3.8h-3.8zM78.11 850.15h3.8v3.8h-3.8zM77.09 850.4h3.8v3.8h-3.8zM82.51 846.84h3.8v3.8h-3.8zM84.56 846.22h3.8v3.8h-3.8zM84.12 852.1h3.8v3.8h-3.8zM87.61 846.38h3.8v3.8h-3.8zM87.03 848.15h3.8v3.8h-3.8zM90.51 850.54h3.8v3.8h-3.8zM93.21 851.61h3.8v3.8h-3.8zM94.15 849.3h3.8v3.8h-3.8zM97.09 848.88h3.8v3.8h-3.8zM99.22 848.45h3.8v3.8h-3.8zM101.55 849.76h3.8v3.8h-3.8zM101.16 849.85h3.8v3.8h-3.8zM103.58 844.25h3.8v3.8h-3.8zM105.65 849.42h3.8v3.8h-3.8zM106.95 848.08h3.8v3.8h-3.8zM110.29 849.04h3.8v3.8h-3.8zM111.17 850.75h3.8v3.8h-3.8zM113.24 850.29h3.8v3.8h-3.8zM112.99 848.89h3.8v3.8h-3.8zM116.5 849.02h3.8v3.8h-3.8zM119.5 850.99h3.8v3.8h-3.8zM119.52 845.82h3.8v3.8h-3.8zM121.4 848.36h3.8v3.8h-3.8zM123.61 850.14h3.8v3.8h-3.8zM125.31 846.95h3.8v3.8h-3.8zM126.15 848.98h3.8v3.8h-3.8zM126.89 850.21h3.8v3.8h-3.8zM131.03 849.15h3.8v3.8h-3.8zM132.6 847.27h3.8v3.8h-3.8zM133.7 845.58h3.8v3.8h-3.8zM135.81 847.3h3.8v3.8h-3.8zM137.03 843.21h3.8v3.8h-3.8zM141.52 839.03h3.8v3.8h-3.8zM141.08 841.87h3.8v3.8h-3.8zM143.06 836.43h3.8v3.8h-3.8zM145.02 829.29h3.8v3.8h-3.8zM146.27 831.02h3.8v3.8h-3.8zM148.95 823.85h3.8v3.8h-3.8zM152.58 811.04h3.8v3.8h-3.8zM152.73 809.09h3.8v3.8h-3.8zM153.15 808.74h3.8v3.8h-3.8zM154.43 804.89h3.8v3.8h-3.8zM158.58 784.06h3.8v3.8h-3.8zM160.1 775.52h3.8v3.8h-3.8zM161.84 764.37h3.8v3.8h-3.8zM164.56 746.59h3.8v3.8h-3.8zM166.48 741.62h3.8v3.8h-3.8zM166.56 739.16h3.8v3.8h-3.8zM167.47 733.15h3.8v3.8h-3.8zM170.79 717.89h3.8v3.8h-3.8zM171.9 717.42h3.8v3.8h-3.8zM175.94 699.22h3.8v3.8h-3.8zM175.98 700.75h3.8v3.8h-3.8zM178.2 697.25h3.8v3.8h-3.8zM180.45 692.87h3.8v3.8h-3.8zM181.56 693.11h3.8v3.8h-3.8zM184.19 699.5h3.8v3.8h-3.8zM185.85 699.36h3.8v3.8h-3.8zM186.35 697.74h3.8v3.8h-3.8zM189.08 705.61h3.8v3.8h-3.8zM191.44 721.4h3.8v3.8h-3.8zM193.29 721.12h3.8v3.8h-3.8zM193.46 730.49h3.8v3.8h-3.8zM195.94 736.19h3.8v3.8h-3.8zM197.47 754.89h3.8v3.8h-3.8zM200.18 763.18h3.8v3.8h-3.8zM201.76 776.23h3.8v3.8h-3.8zM204.33 790.14h3.8v3.8h-3.8zM206.07 794.67h3.8v3.8h-3.8zM207.53 802.53h3.8v3.8h-3.8zM209.1 807.26h3.8v3.8h-3.8zM210.82 813.86h3.8v3.8h-3.8zM213.62 823.68h3.8v3.8h-3.8zM215.8 833.32h3.8v3.8h-3.8zM215.42 826.6h3.8v3.8h-3.8zM218.16 837.34h3.8v3.8h-3.8zM220.44 837.8h3.8v3.8h-3.8zM222.55 843.49h3.8v3.8h-3.8zM223.79 845.52h3.8v3.8h-3.8zM225.09 844.78h3.8v3.8h-3.8zM226.25 846.1h3.8v3.8h-3.8zM228.39 851.11h3.8v3.8h-3.8zM230.84 847.23h3.8v3.8h-3.8zM231.45 851.52h3.8v3.8h-3.8zM234.62 852.06h3.8v3.8h-3.8zM235.7 850.11h3.8v3.8h-3.8zM238.52 846.22h3.8v3.8h-3.8zM238.7 851.09h3.8v3.8h-3.8zM242.84 848.53h3.8v3.8h-3.8zM242.7 851.62h3.8v3.8h-3.8zM245.13 849.45h3.8v3.8h-3.8zM248.78 849.31h3.8v3.8h-3.8zM248.09 850.95h3.8v3.8h-3.8zM248.54 851.16h3.8v3.8h-3.8zM253.62 851.08h3.8v3.8h-3.8zM254.43 851.18h3.8v3.8h-3.8zM255.9 851h3.8v3.8h-3.8zM257.54 849.94h3.8v3.8h-3.8zM259.38 851.63h3.8v3.8h-3.8zM261.75 850.37h3.8v3.8h-3.8zM261.56 849.99h3.8v3.8h-3.8zM265.15 852.1h3.8v3.8h-3.8zM268.62 849.96h3.8v3.8h-3.8zM268.26 852.1h3.8v3.8h-3.8zM270.85 848.93h3.8v3.8h-3.8zM274.24 850.94h3.8v3.8h-3.8zM273.91 850.69h3.8v3.8h-3.8zM274.5 845.42h3.8v3.8h-3.8zM279.2 852.1h3.8v3.8h-3.8zM280.41 849.8h3.8v3.8h-3.8zM281.35 852.1h3.8v3.8h-3.8zM284.35 851.86h3.8v3.8h-3.8zM284.85 849.76h3.8v3.8h-3.8zM287.52 847.98h3.8v3.8h-3.8zM289.75 849.44h3.8v3.8h-3.8zM289.29 851.53h3.8v3.8h-3.8zM293.67 852.1h3.8v3.8h-3.8zM295.71 849.74h3.8v3.8h-3.8zM295.45 845.86h3.8v3.8h-3.8zM298.54 851.08h3.8v3.8h-3.8zM299.31 850.39h3.8v3.8h-3.8zM301.34 851.19h3.8v3.8h-3.8zM303.26 851.24h3.8v3.8h-3.8zM303.99 852.1h3.8v3.8h-3.8zM307.2 852.1h3.8v3.8h-3.8zM309.94 852.1h3.8v3.8h-3.8zM311.39 848.84h3.8v3.8h-3.8zM312.72 849.83h3.8v3.8h-3.8zM314.69 852.1h3.8v3.8h-3.8zM314.69 852.05h3.8v3.8h-3.8zM66.6 843.1h3.8v3.8h-3.8zM63.6 846.6h3.8v3.8h-3.8zM70.7 846.6h3.8v3.8h-3.8zM83 844.9h3.8v3.8h-3.8zM91.9 848.1h3.8v3.8h-3.8zM104.9 845.6h3.8v3.8h-3.8zM115.1 843.6h3.8v3.8h-3.8zM117.2 846.1h3.8v3.8h-3.8zM125.4 844.6h3.8v3.8h-3.8zM128.1 846.1h3.8v3.8h-3.8zM135 842.6h3.8v3.8h-3.8zM139.8 848.1h3.8v3.8h-3.8z"/>
<polyline fill="none" stroke="#e01010" stroke-width="2.1" stroke-linejoin="round" points="64.5,852.2 65.5,852.2 66.5,852.21 67.5,852.21 68.5,852.21 69.5,852.21 70.5,852.22 71.5,852.22 72.5,852.22 73.5,852.22 74.5,852.23 75.5,852.23 76.5,852.23 77.5,852.23 78.5,852.23 79.5,852.24 80.5,852.24 81.5,852.24 82.5,852.24 83.5,852.25 84.5,852.25 85.5,852.25 86.5,852.25 87.5,852.26 88.5,852.26 89.5,852.26 90.5,852.26 91.5,852.27 92.5,852.27 93.5,852.27 94.5,852.27 95.5,852.27 96.5,852.28 97.5,852.28 98.5,852.28 99.5,852.28 100.5,852.29 101.5,852.29 102.5,852.29 103.5,852.29 104.5,852.29 105.5,852.29 106.5,852.29 107.5,852.29 108.5,852.29 109.5,852.29 110.5,852.29 111.5,852.29 112.5,852.29 113.5,852.28 114.5,852.27 115.5,852.26 116.5,852.25 117.5,852.23 118.5,852.21 119.5,852.18 120.5,852.15 121.5,852.11 122.5,852.05 123.5,851.99 124.5,851.91 125.5,851.82 126.5,851.71 127.5,851.58 128.5,851.42 129.5,851.23 130.5,851 131.5,850.74 132.5,850.43 133.5,850.06 134.5,849.64 135.5,849.15 136.5,848.58 137.5,847.93 138.5,847.18 139.5,846.33 140.5,845.36 141.5,844.27 142.5,843.03 143.5,841.65 144.5,840.1 145.5,838.37 146.5,836.46 147.5,834.35 148.5,832.03 149.5,829.49 150.5,826.72 151.5,823.72 152.5,820.47 153.5,816.98 154.5,813.24 155.5,809.26 156.5,805.03 157.5,800.57 158.5,795.89 159.5,791 160.5,785.91 161.5,780.65 162.5,775.25 163.5,769.72 164.5,764.1 165.5,758.43 166.5,752.73 167.5,747.06 168.5,741.45 169.5,735.94 170.5,730.58 171.5,725.42 172.5,720.49 173.5,715.85 174.5,711.53 175.5,707.57 176.5,704.02 177.5,700.91 178.5,698.27 179.5,696.12 180.5,694.49 181.5,693.4 182.5,692.85 183.5,692.85 184.5,693.41 185.5,694.5 186.5,696.14 187.5,698.29 188.5,700.94 189.5,704.05 190.5,707.61 191.5,711.57 192.5,715.89 193.5,720.54 194.5,725.47 195.5,730.64 196.5,736 197.5,741.51 198.5,747.13 199.5,752.81 200.5,758.51 201.5,764.19 202.5,769.81 203.5,775.34 204.5,780.76 205.5,786.02 206.5,791.11 207.5,796.01 208.5,800.69 209.5,805.16 210.5,809.39 211.5,813.37 212.5,817.12 213.5,820.61 214.5,823.86 215.5,826.87 216.5,829.65 217.5,832.19 218.5,834.52 219.5,836.63 220.5,838.55 221.5,840.28 222.5,841.84 223.5,843.23 224.5,844.46 225.5,845.56 226.5,846.54 227.5,847.39 228.5,848.14 229.5,848.8 230.5,849.37 231.5,849.87 232.5,850.3 233.5,850.66 234.5,850.98 235.5,851.25 236.5,851.48 237.5,851.67 238.5,851.84 239.5,851.98 240.5,852.09 241.5,852.19 242.5,852.27 243.5,852.34 244.5,852.4 245.5,852.44 246.5,852.48 247.5,852.51 248.5,852.54 249.5,852.56 250.5,852.58 251.5,852.6 252.5,852.61 253.5,852.62 254.5,852.63 255.5,852.63 256.5,852.64 257.5,852.65 258.5,852.65 259.5,852.66 260.5,852.66 261.5,852.66 262.5,852.67 263.5,852.67 264.5,852.67 265.5,852.67 266.5,852.68 267.5,852.68 268.5,852.68 269.5,852.68 270.5,852.69 271.5,852.69 272.5,852.69 273.5,852.69 274.5,852.7 275.5,852.7 276.5,852.7 277.5,852.7 278.5,852.71 279.5,852.71 280.5,852.71 281.5,852.71 282.5,852.72 283.5,852.72 284.5,852.72 285.5,852.72 286.5,852.73 287.5,852.73 288.5,852.73 289.5,852.73 290.5,852.73 291.5,852.74 292.5,852.74 293.5,852.74 294.5,852.74 295.5,852.75 296.5,852.75 297.5,852.75 298.5,852.75 299.5,852.76 300.5,852.76 301.5,852.76 302.5,852.76 303.5,852.77 304.5,852.77 305.5,852.77 306.5,852.77 307.5,852.77 308.5,852.78 309.5,852.78 310.5,852.78 311.5,852.78 312.5,852.79 313.5,852.79 314.5,852.79 315.5,852.79 316.5,852.8"/>
<rect x="63.8" y="668.6" width="254.3" height="187.4" fill="none" stroke="#000" stroke-width="1.45"/>
<line x1="63.8" y1="856" x2="63.8" y2="860.2" stroke="#000" stroke-width="1.35"/>
<line x1="81.96" y1="856" x2="81.96" y2="858.2" stroke="#000" stroke-width="1.35"/>
<line x1="100.13" y1="856" x2="100.13" y2="860.2" stroke="#000" stroke-width="1.35"/>
<line x1="118.29" y1="856" x2="118.29" y2="858.2" stroke="#000" stroke-width="1.35"/>
<line x1="136.46" y1="856" x2="136.46" y2="860.2" stroke="#000" stroke-width="1.35"/>
<line x1="154.62" y1="856" x2="154.62" y2="858.2" stroke="#000" stroke-width="1.35"/>
<line x1="172.79" y1="856" x2="172.79" y2="860.2" stroke="#000" stroke-width="1.35"/>
<line x1="190.95" y1="856" x2="190.95" y2="858.2" stroke="#000" stroke-width="1.35"/>
<line x1="209.11" y1="856" x2="209.11" y2="860.2" stroke="#000" stroke-width="1.35"/>
<line x1="227.28" y1="856" x2="227.28" y2="858.2" stroke="#000" stroke-width="1.35"/>
<line x1="245.44" y1="856" x2="245.44" y2="860.2" stroke="#000" stroke-width="1.35"/>
<line x1="263.61" y1="856" x2="263.61" y2="858.2" stroke="#000" stroke-width="1.35"/>
<line x1="281.77" y1="856" x2="281.77" y2="860.2" stroke="#000" stroke-width="1.35"/>
<line x1="299.94" y1="856" x2="299.94" y2="858.2" stroke="#000" stroke-width="1.35"/>
<line x1="318.1" y1="856" x2="318.1" y2="860.2" stroke="#000" stroke-width="1.35"/>
<text x="63.8" y="869.8" font-family="Liberation Serif" font-weight="bold" font-size="10" fill="#111" textLength="22" lengthAdjust="spacingAndGlyphs" text-anchor="middle" stroke="#111" stroke-width="0.22">1066</text>
<text x="100.13" y="869.8" font-family="Liberation Serif" font-weight="bold" font-size="10" fill="#111" textLength="22" lengthAdjust="spacingAndGlyphs" text-anchor="middle" stroke="#111" stroke-width="0.22">1068</text>
<text x="136.46" y="869.8" font-family="Liberation Serif" font-weight="bold" font-size="10" fill="#111" textLength="22" lengthAdjust="spacingAndGlyphs" text-anchor="middle" stroke="#111" stroke-width="0.22">1070</text>
<text x="172.79" y="869.8" font-family="Liberation Serif" font-weight="bold" font-size="10" fill="#111" textLength="22" lengthAdjust="spacingAndGlyphs" text-anchor="middle" stroke="#111" stroke-width="0.22">1072</text>
<text x="209.11" y="869.8" font-family="Liberation Serif" font-weight="bold" font-size="10" fill="#111" textLength="22" lengthAdjust="spacingAndGlyphs" text-anchor="middle" stroke="#111" stroke-width="0.22">1074</text>
<text x="245.44" y="869.8" font-family="Liberation Serif" font-weight="bold" font-size="10" fill="#111" textLength="22" lengthAdjust="spacingAndGlyphs" text-anchor="middle" stroke="#111" stroke-width="0.22">1076</text>
<text x="281.77" y="869.8" font-family="Liberation Serif" font-weight="bold" font-size="10" fill="#111" textLength="22" lengthAdjust="spacingAndGlyphs" text-anchor="middle" stroke="#111" stroke-width="0.22">1078</text>
<text x="318.1" y="869.8" font-family="Liberation Serif" font-weight="bold" font-size="10" fill="#111" textLength="22" lengthAdjust="spacingAndGlyphs" text-anchor="middle" stroke="#111" stroke-width="0.22">1080</text>
<line x1="63.8" y1="846.4" x2="67.8" y2="846.4" stroke="#000" stroke-width="1.35"/>
<line x1="63.8" y1="828.62" x2="65.8" y2="828.62" stroke="#000" stroke-width="1.35"/>
<line x1="63.8" y1="810.84" x2="67.8" y2="810.84" stroke="#000" stroke-width="1.35"/>
<line x1="63.8" y1="793.06" x2="65.8" y2="793.06" stroke="#000" stroke-width="1.35"/>
<line x1="63.8" y1="775.28" x2="67.8" y2="775.28" stroke="#000" stroke-width="1.35"/>
<line x1="63.8" y1="757.5" x2="65.8" y2="757.5" stroke="#000" stroke-width="1.35"/>
<line x1="63.8" y1="739.72" x2="67.8" y2="739.72" stroke="#000" stroke-width="1.35"/>
<line x1="63.8" y1="721.94" x2="65.8" y2="721.94" stroke="#000" stroke-width="1.35"/>
<line x1="63.8" y1="704.16" x2="67.8" y2="704.16" stroke="#000" stroke-width="1.35"/>
<line x1="63.8" y1="686.38" x2="65.8" y2="686.38" stroke="#000" stroke-width="1.35"/>
<line x1="63.8" y1="668.6" x2="67.8" y2="668.6" stroke="#000" stroke-width="1.35"/>
<text x="59.7" y="848.8" font-family="Liberation Serif" font-weight="bold" font-size="10" fill="#111" textLength="5.6" lengthAdjust="spacingAndGlyphs" text-anchor="end" stroke="#111" stroke-width="0.22">0</text>
<text x="59.7" y="813.24" font-family="Liberation Serif" font-weight="bold" font-size="10" fill="#111" textLength="16.8" lengthAdjust="spacingAndGlyphs" text-anchor="end" stroke="#111" stroke-width="0.22">100</text>
<text x="59.7" y="777.68" font-family="Liberation Serif" font-weight="bold" font-size="10" fill="#111" textLength="16.8" lengthAdjust="spacingAndGlyphs" text-anchor="end" stroke="#111" stroke-width="0.22">200</text>
<text x="59.7" y="742.12" font-family="Liberation Serif" font-weight="bold" font-size="10" fill="#111" textLength="16.8" lengthAdjust="spacingAndGlyphs" text-anchor="end" stroke="#111" stroke-width="0.22">300</text>
<text x="59.7" y="706.56" font-family="Liberation Serif" font-weight="bold" font-size="10" fill="#111" textLength="16.8" lengthAdjust="spacingAndGlyphs" text-anchor="end" stroke="#111" stroke-width="0.22">400</text>
<text x="59.7" y="671" font-family="Liberation Serif" font-weight="bold" font-size="10" fill="#111" textLength="16.8" lengthAdjust="spacingAndGlyphs" text-anchor="end" stroke="#111" stroke-width="0.22">500</text>
</g>
<g id="panelH">
<polyline fill="none" stroke="#222" stroke-width="0.8" stroke-linejoin="round" stroke-dasharray="2.5 1.2 0.8 1.2" points="392.8,850.81 394.35,850.37 394.84,848.65 397.61,851.16 398.74,845.58 401.89,847.94 402.98,846.05 404.1,845.1 406.88,845.92 408.8,851.24 409.43,847.17 411.55,847.49 411.96,848.96 415.28,846.06 417.98,851.02 418.57,849.52 420.9,846.08 422.18,851.16 424.5,848.16 426.9,848.97 427.91,848.04 429.22,846.05 431.67,846.37 434.87,850.41 434.12,848.82 436.96,849.08 439.24,847.41 441.64,847.1 444.14,845.14 445.16,849.21 446.1,846.8 447.53,847.63 450.46,845.27 451.08,849.76 452.32,850.22 456.05,849.24 458.95,847.55 460.93,849.54 461.25,845.31 460.93,847.68 466.33,849.83 466.75,847.23 468.15,847.75 468.56,845.42 471.33,849.05 473.72,837.73 475.78,846.65 477.41,848.19 480.2,850.39 482.49,849.47 482.84,850.7 484.39,845.6 487.91,839.39 489.68,845.91 489.48,843.01 490.1,839.17 494.7,829.98 496.94,828.79 498.57,830.74 498.09,828.39 500.45,819.31 503.74,815.11 505.71,810.32 507.49,803.09 507.65,802.22 509.5,798.19 513.13,792.98 512.57,792.19 516.36,787.74 518.75,787.3 518.68,786.03 523.91,789.45 521.44,790.66 525.81,793.63 527.71,798.75 528.72,803.35 530.08,804.11 532.4,805.28 533.34,806.56 535.42,815.51 539.3,826.69 538.91,824.23 540.91,833.97 544.22,831.2 544.18,836.55 547.03,838.18 548.5,841.99 550.46,845.82 552.51,841.38 555,847.68 554.82,849.23 555.85,843.05 558.84,847.77 561.1,849.32 562.07,849.14 563.31,848.19 565.79,847.99 568.44,849.13 568.45,851.17 572.81,847.32 572.45,847.09 575.7,853.49 576.47,851.79 579,849.89 581.02,847.01 584.44,852 586.42,849.19 586.78,849.5 587.47,847.5 589.44,849.84 591.22,850.24 592.84,849.5 594.28,851.71 596.74,851.7 599.33,851.45 600.79,849.31 601.72,854.2 605.56,847.74 605.85,849.33 608.43,853.19 610.84,851.22 611.96,849.24 614.01,850.57 616.57,849.36 618.4,846.73 618.22,851.83 621.54,848.3 622.03,851.33 625.3,846.55 626.88,854.09 626.95,848.94 629.28,846.77 631.67,847.94 634.75,845.04 635.29,849.88 636.05,854.2 637.22,849.47 640.76,851.12 641.25,847.97 644.38,853.07 645.7,850.28"/>
<path fill="#0a0a0a" d="M392.45 848.47h3.8v3.8h-3.8zM392.94 846.75h3.8v3.8h-3.8zM395.71 849.26h3.8v3.8h-3.8zM396.84 843.68h3.8v3.8h-3.8zM399.99 846.04h3.8v3.8h-3.8zM401.08 844.15h3.8v3.8h-3.8zM402.2 843.2h3.8v3.8h-3.8zM404.98 844.02h3.8v3.8h-3.8zM406.9 849.34h3.8v3.8h-3.8zM407.53 845.27h3.8v3.8h-3.8zM409.65 845.59h3.8v3.8h-3.8zM410.06 847.06h3.8v3.8h-3.8zM413.38 844.16h3.8v3.8h-3.8zM416.08 849.12h3.8v3.8h-3.8zM416.67 847.62h3.8v3.8h-3.8zM419 844.18h3.8v3.8h-3.8zM420.28 849.26h3.8v3.8h-3.8zM422.6 846.26h3.8v3.8h-3.8zM425 847.07h3.8v3.8h-3.8zM426.01 846.14h3.8v3.8h-3.8zM427.32 844.15h3.8v3.8h-3.8zM429.77 844.47h3.8v3.8h-3.8zM432.97 848.51h3.8v3.8h-3.8zM432.22 846.92h3.8v3.8h-3.8zM435.06 847.18h3.8v3.8h-3.8zM437.34 845.51h3.8v3.8h-3.8zM439.74 845.2h3.8v3.8h-3.8zM442.24 843.24h3.8v3.8h-3.8zM443.26 847.31h3.8v3.8h-3.8zM444.2 844.9h3.8v3.8h-3.8zM445.63 845.73h3.8v3.8h-3.8zM448.56 843.37h3.8v3.8h-3.8zM449.18 847.86h3.8v3.8h-3.8zM450.42 848.32h3.8v3.8h-3.8zM454.15 847.34h3.8v3.8h-3.8zM457.05 845.65h3.8v3.8h-3.8zM459.03 847.64h3.8v3.8h-3.8zM459.35 843.41h3.8v3.8h-3.8zM459.03 845.78h3.8v3.8h-3.8zM464.43 847.93h3.8v3.8h-3.8zM464.85 845.33h3.8v3.8h-3.8zM466.25 845.85h3.8v3.8h-3.8zM466.66 843.52h3.8v3.8h-3.8zM469.43 847.15h3.8v3.8h-3.8zM471.82 835.83h3.8v3.8h-3.8zM473.88 844.75h3.8v3.8h-3.8zM475.51 846.29h3.8v3.8h-3.8zM478.3 848.49h3.8v3.8h-3.8zM480.59 847.57h3.8v3.8h-3.8zM480.94 848.8h3.8v3.8h-3.8zM482.49 843.7h3.8v3.8h-3.8zM486.01 837.49h3.8v3.8h-3.8zM487.78 844.01h3.8v3.8h-3.8zM487.58 841.11h3.8v3.8h-3.8zM488.2 837.27h3.8v3.8h-3.8zM492.8 828.08h3.8v3.8h-3.8zM495.04 826.89h3.8v3.8h-3.8zM496.67 828.84h3.8v3.8h-3.8zM496.19 826.49h3.8v3.8h-3.8zM498.55 817.41h3.8v3.8h-3.8zM501.84 813.21h3.8v3.8h-3.8zM503.81 808.42h3.8v3.8h-3.8zM505.59 801.19h3.8v3.8h-3.8zM505.75 800.32h3.8v3.8h-3.8zM507.6 796.29h3.8v3.8h-3.8zM511.23 791.08h3.8v3.8h-3.8zM510.67 790.29h3.8v3.8h-3.8zM514.46 785.84h3.8v3.8h-3.8zM516.85 785.4h3.8v3.8h-3.8zM516.78 784.13h3.8v3.8h-3.8zM522.01 787.55h3.8v3.8h-3.8zM519.54 788.76h3.8v3.8h-3.8zM523.91 791.73h3.8v3.8h-3.8zM525.81 796.85h3.8v3.8h-3.8zM526.82 801.45h3.8v3.8h-3.8zM528.18 802.21h3.8v3.8h-3.8zM530.5 803.38h3.8v3.8h-3.8zM531.44 804.66h3.8v3.8h-3.8zM533.52 813.61h3.8v3.8h-3.8zM537.4 824.79h3.8v3.8h-3.8zM537.01 822.33h3.8v3.8h-3.8zM539.01 832.07h3.8v3.8h-3.8zM542.32 829.3h3.8v3.8h-3.8zM542.28 834.65h3.8v3.8h-3.8zM545.13 836.28h3.8v3.8h-3.8zM546.6 840.09h3.8v3.8h-3.8zM548.56 843.92h3.8v3.8h-3.8zM550.61 839.48h3.8v3.8h-3.8zM553.1 845.78h3.8v3.8h-3.8zM552.92 847.33h3.8v3.8h-3.8zM553.95 841.15h3.8v3.8h-3.8zM556.94 845.87h3.8v3.8h-3.8zM559.2 847.42h3.8v3.8h-3.8zM560.17 847.24h3.8v3.8h-3.8zM561.41 846.29h3.8v3.8h-3.8zM563.89 846.09h3.8v3.8h-3.8zM566.54 847.23h3.8v3.8h-3.8zM566.55 849.27h3.8v3.8h-3.8zM570.91 845.42h3.8v3.8h-3.8zM570.55 845.19h3.8v3.8h-3.8zM573.8 851.59h3.8v3.8h-3.8zM574.57 849.89h3.8v3.8h-3.8zM577.1 847.99h3.8v3.8h-3.8zM579.12 845.11h3.8v3.8h-3.8zM582.54 850.1h3.8v3.8h-3.8zM584.52 847.29h3.8v3.8h-3.8zM584.88 847.6h3.8v3.8h-3.8zM585.57 845.6h3.8v3.8h-3.8zM587.54 847.94h3.8v3.8h-3.8zM589.32 848.34h3.8v3.8h-3.8zM590.94 847.6h3.8v3.8h-3.8zM592.38 849.81h3.8v3.8h-3.8zM594.84 849.8h3.8v3.8h-3.8zM597.43 849.55h3.8v3.8h-3.8zM598.89 847.41h3.8v3.8h-3.8zM599.82 852.3h3.8v3.8h-3.8zM603.66 845.84h3.8v3.8h-3.8zM603.95 847.43h3.8v3.8h-3.8zM606.53 851.29h3.8v3.8h-3.8zM608.94 849.32h3.8v3.8h-3.8zM610.06 847.34h3.8v3.8h-3.8zM612.11 848.67h3.8v3.8h-3.8zM614.67 847.46h3.8v3.8h-3.8zM616.5 844.83h3.8v3.8h-3.8zM616.32 849.93h3.8v3.8h-3.8zM619.64 846.4h3.8v3.8h-3.8zM620.13 849.43h3.8v3.8h-3.8zM623.4 844.65h3.8v3.8h-3.8zM624.98 852.19h3.8v3.8h-3.8zM625.05 847.04h3.8v3.8h-3.8zM627.38 844.87h3.8v3.8h-3.8zM629.77 846.04h3.8v3.8h-3.8zM632.85 843.14h3.8v3.8h-3.8zM633.39 847.98h3.8v3.8h-3.8zM634.15 852.3h3.8v3.8h-3.8zM635.32 847.57h3.8v3.8h-3.8zM638.86 849.22h3.8v3.8h-3.8zM639.35 846.07h3.8v3.8h-3.8zM642.48 851.17h3.8v3.8h-3.8zM401.5 838.3h3.8v3.8h-3.8zM404.5 844.4h3.8v3.8h-3.8zM433.4 842.9h3.8v3.8h-3.8zM451.6 840.6h3.8v3.8h-3.8z"/>
<polyline fill="none" stroke="#e01010" stroke-width="2.1" stroke-linejoin="round" points="392.9,850.6 393.9,850.6 394.9,850.6 395.9,850.6 396.9,850.6 397.9,850.6 398.9,850.59 399.9,850.59 400.9,850.59 401.9,850.59 402.9,850.59 403.9,850.59 404.9,850.59 405.9,850.59 406.9,850.59 407.9,850.59 408.9,850.59 409.9,850.59 410.9,850.59 411.9,850.58 412.9,850.58 413.9,850.58 414.9,850.58 415.9,850.58 416.9,850.58 417.9,850.58 418.9,850.58 419.9,850.58 420.9,850.58 421.9,850.58 422.9,850.58 423.9,850.58 424.9,850.57 425.9,850.57 426.9,850.57 427.9,850.57 428.9,850.57 429.9,850.57 430.9,850.57 431.9,850.57 432.9,850.57 433.9,850.57 434.9,850.57 435.9,850.57 436.9,850.56 437.9,850.56 438.9,850.56 439.9,850.56 440.9,850.56 441.9,850.56 442.9,850.56 443.9,850.56 444.9,850.56 445.9,850.56 446.9,850.56 447.9,850.56 448.9,850.55 449.9,850.55 450.9,850.55 451.9,850.55 452.9,850.55 453.9,850.54 454.9,850.54 455.9,850.54 456.9,850.53 457.9,850.53 458.9,850.52 459.9,850.51 460.9,850.5 461.9,850.49 462.9,850.47 463.9,850.45 464.9,850.43 465.9,850.4 466.9,850.36 467.9,850.32 468.9,850.26 469.9,850.19 470.9,850.11 471.9,850.01 472.9,849.9 473.9,849.76 474.9,849.59 475.9,849.39 476.9,849.16 477.9,848.89 478.9,848.57 479.9,848.21 480.9,847.78 481.9,847.29 482.9,846.74 483.9,846.11 484.9,845.39 485.9,844.59 486.9,843.69 487.9,842.68 488.9,841.57 489.9,840.35 490.9,839.01 491.9,837.54 492.9,835.96 493.9,834.25 494.9,832.42 495.9,830.48 496.9,828.42 497.9,826.25 498.9,823.99 499.9,821.64 500.9,819.21 501.9,816.74 502.9,814.22 503.9,811.68 504.9,809.15 505.9,806.64 506.9,804.18 507.9,801.79 508.9,799.51 509.9,797.34 510.9,795.33 511.9,793.48 512.9,791.83 513.9,790.39 514.9,789.18 515.9,788.21 516.9,787.51 517.9,787.07 518.9,786.9 519.9,787.01 520.9,787.39 521.9,788.04 522.9,788.96 523.9,790.12 524.9,791.51 525.9,793.12 526.9,794.93 527.9,796.91 528.9,799.05 529.9,801.31 530.9,803.68 531.9,806.12 532.9,808.62 533.9,811.15 534.9,813.69 535.9,816.21 536.9,818.69 537.9,821.13 538.9,823.49 539.9,825.77 540.9,827.96 541.9,830.04 542.9,832.01 543.9,833.86 544.9,835.59 545.9,837.19 546.9,838.68 547.9,840.04 548.9,841.29 549.9,842.42 550.9,843.44 551.9,844.36 552.9,845.18 553.9,845.92 554.9,846.56 555.9,847.13 556.9,847.63 557.9,848.06 558.9,848.44 559.9,848.76 560.9,849.04 561.9,849.28 562.9,849.48 563.9,849.65 564.9,849.8 565.9,849.92 566.9,850.02 567.9,850.1 568.9,850.17 569.9,850.23 570.9,850.27 571.9,850.31 572.9,850.34 573.9,850.36 574.9,850.38 575.9,850.4 576.9,850.41 577.9,850.42 578.9,850.43 579.9,850.43 580.9,850.44 581.9,850.44 582.9,850.44 583.9,850.44 584.9,850.44 585.9,850.44 586.9,850.44 587.9,850.44 588.9,850.44 589.9,850.44 590.9,850.44 591.9,850.44 592.9,850.44 593.9,850.44 594.9,850.44 595.9,850.44 596.9,850.44 597.9,850.44 598.9,850.44 599.9,850.44 600.9,850.44 601.9,850.43 602.9,850.43 603.9,850.43 604.9,850.43 605.9,850.43 606.9,850.43 607.9,850.43 608.9,850.43 609.9,850.43 610.9,850.43 611.9,850.43 612.9,850.43 613.9,850.43 614.9,850.42 615.9,850.42 616.9,850.42 617.9,850.42 618.9,850.42 619.9,850.42 620.9,850.42 621.9,850.42 622.9,850.42 623.9,850.42 624.9,850.42 625.9,850.42 626.9,850.42 627.9,850.41 628.9,850.41 629.9,850.41 630.9,850.41 631.9,850.41 632.9,850.41 633.9,850.41 634.9,850.41 635.9,850.41 636.9,850.41 637.9,850.41 638.9,850.41 639.9,850.41 640.9,850.4 641.9,850.4 642.9,850.4 643.9,850.4 644.9,850.4"/>
<rect x="392.2" y="668.7" width="254.1" height="187.5" fill="none" stroke="#000" stroke-width="1.45"/>
<line x1="392.2" y1="856.2" x2="392.2" y2="860.4" stroke="#000" stroke-width="1.35"/>
<line x1="410.35" y1="856.2" x2="410.35" y2="858.4" stroke="#000" stroke-width="1.35"/>
<line x1="428.5" y1="856.2" x2="428.5" y2="860.4" stroke="#000" stroke-width="1.35"/>
<line x1="446.65" y1="856.2" x2="446.65" y2="858.4" stroke="#000" stroke-width="1.35"/>
<line x1="464.8" y1="856.2" x2="464.8" y2="860.4" stroke="#000" stroke-width="1.35"/>
<line x1="482.95" y1="856.2" x2="482.95" y2="858.4" stroke="#000" stroke-width="1.35"/>
<line x1="501.1" y1="856.2" x2="501.1" y2="860.4" stroke="#000" stroke-width="1.35"/>
<line x1="519.25" y1="856.2" x2="519.25" y2="858.4" stroke="#000" stroke-width="1.35"/>
<line x1="537.4" y1="856.2" x2="537.4" y2="860.4" stroke="#000" stroke-width="1.35"/>
<line x1="555.55" y1="856.2" x2="555.55" y2="858.4" stroke="#000" stroke-width="1.35"/>
<line x1="573.7" y1="856.2" x2="573.7" y2="860.4" stroke="#000" stroke-width="1.35"/>
<line x1="591.85" y1="856.2" x2="591.85" y2="858.4" stroke="#000" stroke-width="1.35"/>
<line x1="610" y1="856.2" x2="610" y2="860.4" stroke="#000" stroke-width="1.35"/>
<line x1="628.15" y1="856.2" x2="628.15" y2="858.4" stroke="#000" stroke-width="1.35"/>
<line x1="646.3" y1="856.2" x2="646.3" y2="860.4" stroke="#000" stroke-width="1.35"/>
<text x="392.2" y="870" font-family="Liberation Serif" font-weight="bold" font-size="10" fill="#111" textLength="22" lengthAdjust="spacingAndGlyphs" text-anchor="middle" stroke="#111" stroke-width="0.22">1066</text>
<text x="428.5" y="870" font-family="Liberation Serif" font-weight="bold" font-size="10" fill="#111" textLength="22" lengthAdjust="spacingAndGlyphs" text-anchor="middle" stroke="#111" stroke-width="0.22">1068</text>
<text x="464.8" y="870" font-family="Liberation Serif" font-weight="bold" font-size="10" fill="#111" textLength="22" lengthAdjust="spacingAndGlyphs" text-anchor="middle" stroke="#111" stroke-width="0.22">1070</text>
<text x="501.1" y="870" font-family="Liberation Serif" font-weight="bold" font-size="10" fill="#111" textLength="22" lengthAdjust="spacingAndGlyphs" text-anchor="middle" stroke="#111" stroke-width="0.22">1072</text>
<text x="537.4" y="870" font-family="Liberation Serif" font-weight="bold" font-size="10" fill="#111" textLength="22" lengthAdjust="spacingAndGlyphs" text-anchor="middle" stroke="#111" stroke-width="0.22">1074</text>
<text x="573.7" y="870" font-family="Liberation Serif" font-weight="bold" font-size="10" fill="#111" textLength="22" lengthAdjust="spacingAndGlyphs" text-anchor="middle" stroke="#111" stroke-width="0.22">1076</text>
<text x="610" y="870" font-family="Liberation Serif" font-weight="bold" font-size="10" fill="#111" textLength="22" lengthAdjust="spacingAndGlyphs" text-anchor="middle" stroke="#111" stroke-width="0.22">1078</text>
<text x="646.3" y="870" font-family="Liberation Serif" font-weight="bold" font-size="10" fill="#111" textLength="22" lengthAdjust="spacingAndGlyphs" text-anchor="middle" stroke="#111" stroke-width="0.22">1080</text>
</g>
<text x="109.5" y="10.8" font-family="Liberation Serif" font-weight="bold" font-size="14.2" fill="#111" textLength="145" lengthAdjust="spacingAndGlyphs" stroke="#111" stroke-width="0.31">Original Particle (OP)</text>
<text x="387.2" y="10.9" font-family="Liberation Serif" font-weight="bold" font-size="14.2" fill="#111" textLength="225.4" lengthAdjust="spacingAndGlyphs" stroke="#111" stroke-width="0.31">Surface Engineered Particle (SEP)</text>
<text x="0.8" y="40.1" font-family="Liberation Serif" font-weight="bold" font-size="26.67" fill="#000" textLength="16.8" lengthAdjust="spacingAndGlyphs" stroke="#000" stroke-width="0.59">A</text>
<text x="342" y="40.4" font-family="Liberation Serif" font-weight="bold" font-size="25.76" fill="#000" textLength="15.1" lengthAdjust="spacingAndGlyphs" stroke="#000" stroke-width="0.57">B</text>
<text x="0.4" y="256.2" font-family="Liberation Serif" font-weight="bold" font-size="28.18" fill="#000" textLength="13.8" lengthAdjust="spacingAndGlyphs" stroke="#000" stroke-width="0.62">C</text>
<text x="341.8" y="256" font-family="Liberation Serif" font-weight="bold" font-size="26.67" fill="#000" textLength="17" lengthAdjust="spacingAndGlyphs" stroke="#000" stroke-width="0.59">D</text>
<text x="4.3" y="475.4" font-family="Liberation Serif" font-weight="bold" font-size="27.58" fill="#000" textLength="13.3" lengthAdjust="spacingAndGlyphs" stroke="#000" stroke-width="0.61">E</text>
<text x="345.4" y="475.3" font-family="Liberation Serif" font-weight="bold" font-size="27.73" fill="#000" textLength="12.8" lengthAdjust="spacingAndGlyphs" stroke="#000" stroke-width="0.61">F</text>
<text x="5.5" y="692" font-family="Liberation Serif" font-weight="bold" font-size="27.58" fill="#000" textLength="15.4" lengthAdjust="spacingAndGlyphs" stroke="#000" stroke-width="0.61">G</text>
<text x="342.2" y="691.9" font-family="Liberation Serif" font-weight="bold" font-size="27.42" fill="#000" textLength="16.7" lengthAdjust="spacingAndGlyphs" stroke="#000" stroke-width="0.6">H</text>
<text x="71" y="41.8" font-family="Liberation Serif" font-weight="bold" font-size="13.8" fill="#111" textLength="32.7" lengthAdjust="spacingAndGlyphs" stroke="#111" stroke-width="0.3">Si 2p</text>
<text x="398" y="41.8" font-family="Liberation Serif" font-weight="bold" font-size="13.8" fill="#111" textLength="33.2" lengthAdjust="spacingAndGlyphs" stroke="#111" stroke-width="0.3">Si 2p</text>
<text x="74.6" y="264.7" font-family="Liberation Serif" font-weight="bold" font-size="13.8" fill="#111" textLength="28.6" lengthAdjust="spacingAndGlyphs" stroke="#111" stroke-width="0.3">O 1s</text>
<text x="398.4" y="261.4" font-family="Liberation Serif" font-weight="bold" font-size="13.8" fill="#111" textLength="28.5" lengthAdjust="spacingAndGlyphs" stroke="#111" stroke-width="0.3">O 1s</text>
<text x="77.6" y="484.3" font-family="Liberation Serif" font-weight="bold" font-size="13.8" fill="#111" textLength="36" lengthAdjust="spacingAndGlyphs" stroke="#111" stroke-width="0.3">Ca 2p</text>
<text x="397.8" y="480.1" font-family="Liberation Serif" font-weight="bold" font-size="13.8" fill="#111" textLength="35.6" lengthAdjust="spacingAndGlyphs" stroke="#111" stroke-width="0.3">Ca 2p</text>
<text x="79.2" y="703.4" font-family="Liberation Serif" font-weight="bold" font-size="13.8" fill="#111" textLength="35.9" lengthAdjust="spacingAndGlyphs" stroke="#111" stroke-width="0.3">Na 1s</text>
<text x="407.6" y="703.4" font-family="Liberation Serif" font-weight="bold" font-size="13.8" fill="#111" textLength="35.7" lengthAdjust="spacingAndGlyphs" stroke="#111" stroke-width="0.3">Na 1s</text>
<text x="202.6" y="124.6" font-family="Liberation Serif" font-size="12" fill="#222" textLength="21.3" lengthAdjust="spacingAndGlyphs" stroke="#222" stroke-width="0.35"><tspan>SiO</tspan><tspan font-size="8.2" dy="2.6">2</tspan></text>
<text x="192" y="139.2" font-family="Liberation Serif" font-size="12" fill="#222" textLength="43.4" lengthAdjust="spacingAndGlyphs" stroke="#222" stroke-width="0.35"><tspan>103.7 eV</tspan></text>
<text x="509.8" y="89.2" font-family="Liberation Serif" font-size="12" fill="#222" textLength="65.6" lengthAdjust="spacingAndGlyphs" stroke="#222" stroke-width="0.35"><tspan>SiO</tspan><tspan font-size="8.2" dy="2.6">2</tspan><tspan dy="-2.5"> , CaSiO</tspan><tspan font-size="8.2" dy="2.6">3</tspan></text>
<text x="520.5" y="104.5" font-family="Liberation Serif" font-size="12" fill="#222" textLength="43.7" lengthAdjust="spacingAndGlyphs" stroke="#222" stroke-width="0.35"><tspan>103.3 eV</tspan></text>
<text x="188.8" y="285" font-family="Liberation Serif" font-size="12" fill="#222" textLength="22.4" lengthAdjust="spacingAndGlyphs" stroke="#222" stroke-width="0.35"><tspan>SiO</tspan><tspan font-size="8.2" dy="2.6">2</tspan></text>
<text x="177.1" y="298.7" font-family="Liberation Serif" font-size="12" fill="#222" textLength="43.8" lengthAdjust="spacingAndGlyphs" stroke="#222" stroke-width="0.35"><tspan>532.8 eV</tspan></text>
<text x="542.1" y="310.5" font-family="Liberation Serif" font-size="12" fill="#222" textLength="22.4" lengthAdjust="spacingAndGlyphs" stroke="#222" stroke-width="0.35"><tspan>SiO</tspan><tspan font-size="8.2" dy="2.6">2</tspan></text>
<text x="531.2" y="323.2" font-family="Liberation Serif" font-size="12" fill="#222" textLength="43.8" lengthAdjust="spacingAndGlyphs" stroke="#222" stroke-width="0.35"><tspan>533.0 eV</tspan></text>
<text x="432.2" y="351.2" font-family="Liberation Serif" font-size="12" fill="#222" textLength="29.4" lengthAdjust="spacingAndGlyphs" stroke="#222" stroke-width="0.35"><tspan>HO-Si</tspan></text>
<text x="424" y="365.6" font-family="Liberation Serif" font-size="12" fill="#222" textLength="47.4" lengthAdjust="spacingAndGlyphs" stroke="#222" stroke-width="0.35"><tspan>531.2 eV</tspan></text>
<text x="127.4" y="596.8" font-family="Liberation Serif" font-size="12" fill="#222" textLength="36.1" lengthAdjust="spacingAndGlyphs" stroke="#222" stroke-width="0.35"><tspan>CaSiO</tspan><tspan font-size="8.2" dy="2.6">3</tspan></text>
<text x="122.7" y="610.8" font-family="Liberation Serif" font-size="12" fill="#222" textLength="45.9" lengthAdjust="spacingAndGlyphs" stroke="#222" stroke-width="0.35"><tspan>347.8 eV</tspan></text>
<text x="199.7" y="586.8" font-family="Liberation Serif" font-size="12" fill="#222" textLength="20" lengthAdjust="spacingAndGlyphs" stroke="#222" stroke-width="0.35"><tspan>CaO</tspan></text>
<text x="187" y="600.8" font-family="Liberation Serif" font-size="12" fill="#222" textLength="44.4" lengthAdjust="spacingAndGlyphs" stroke="#222" stroke-width="0.35"><tspan>352.6 eV</tspan></text>
<text x="487.2" y="488.7" font-family="Liberation Serif" font-size="12" fill="#222" textLength="34.7" lengthAdjust="spacingAndGlyphs" stroke="#222" stroke-width="0.35"><tspan>CaSiO</tspan><tspan font-size="8.2" dy="2.6">3</tspan></text>
<text x="481.9" y="503.4" font-family="Liberation Serif" font-size="12" fill="#222" textLength="44.9" lengthAdjust="spacingAndGlyphs" stroke="#222" stroke-width="0.35"><tspan>347.9 eV</tspan></text>
<text x="511.7" y="538.1" font-family="Liberation Serif" font-size="12" fill="#222" textLength="20.4" lengthAdjust="spacingAndGlyphs" stroke="#222" stroke-width="0.35"><tspan>CaO</tspan></text>
<text x="499.6" y="552.3" font-family="Liberation Serif" font-size="12" fill="#222" textLength="44.7" lengthAdjust="spacingAndGlyphs" stroke="#222" stroke-width="0.35"><tspan>351.5 eV</tspan></text>
<text x="198.3" y="727.6" font-family="Liberation Serif" font-size="12" fill="#222" textLength="62.2" lengthAdjust="spacingAndGlyphs" stroke="#222" stroke-width="0.35"><tspan>NaOH, Na</tspan><tspan font-size="8.2" dy="2.6">2</tspan><tspan dy="-2.6">O</tspan></text>
<text x="203.6" y="742.2" font-family="Liberation Serif" font-size="12" fill="#222" textLength="52.1" lengthAdjust="spacingAndGlyphs" stroke="#222" stroke-width="0.35"><tspan>1072.5 eV</tspan></text>
<text x="502.3" y="771.3" font-family="Liberation Serif" font-size="12" fill="#222" textLength="61.7" lengthAdjust="spacingAndGlyphs" stroke="#222" stroke-width="0.35"><tspan>NaOH, Na</tspan><tspan font-size="8.2" dy="2.6">2</tspan><tspan dy="-2.6">O</tspan></text>
<text x="507.7" y="786.2" font-family="Liberation Serif" font-size="12" fill="#222" textLength="51.4" lengthAdjust="spacingAndGlyphs" stroke="#222" stroke-width="0.35"><tspan>1072.9 eV</tspan></text>
<line x1="216.2" y1="37" x2="236.8" y2="37" stroke="#555" stroke-width="1" stroke-dasharray="2 1.5 1 1.5"/>
<text x="241.8" y="39.7" font-family="Liberation Serif" font-size="9.6" fill="#333" textLength="43.5" lengthAdjust="spacingAndGlyphs" stroke="#333" stroke-width="0.2">Raw curve</text>
<line x1="216.2" y1="46.4" x2="236.8" y2="46.4" stroke="#f04848" stroke-width="1.3"/>
<text x="241.8" y="50.9" font-family="Liberation Serif" font-size="9.6" fill="#e8303a" textLength="49.3" lengthAdjust="spacingAndGlyphs" stroke="#e8303a" stroke-width="0.2">Fitted curve</text>
<line x1="540.4" y1="30" x2="560.9" y2="30" stroke="#555" stroke-width="1" stroke-dasharray="2 1.5 1 1.5"/>
<text x="565.5" y="32.5" font-family="Liberation Serif" font-size="9.6" fill="#333" textLength="43.1" lengthAdjust="spacingAndGlyphs" stroke="#333" stroke-width="0.2">Raw curve</text>
<line x1="540.4" y1="39.2" x2="560.9" y2="39.2" stroke="#f04848" stroke-width="1.3"/>
<text x="565.5" y="42.6" font-family="Liberation Serif" font-size="9.6" fill="#e8303a" textLength="49.8" lengthAdjust="spacingAndGlyphs" stroke="#e8303a" stroke-width="0.2">Fitted curve</text>
<line x1="218.7" y1="256.4" x2="239.8" y2="256.4" stroke="#555" stroke-width="1" stroke-dasharray="2 1.5 1 1.5"/>
<text x="244.3" y="258.4" font-family="Liberation Serif" font-size="9.6" fill="#333" textLength="42.7" lengthAdjust="spacingAndGlyphs" stroke="#333" stroke-width="0.2">Raw curve</text>
<line x1="218.7" y1="265.1" x2="239.8" y2="265.1" stroke="#f04848" stroke-width="1.3"/>
<text x="244.3" y="268.4" font-family="Liberation Serif" font-size="9.6" fill="#e8303a" textLength="48.5" lengthAdjust="spacingAndGlyphs" stroke="#e8303a" stroke-width="0.2">Fitted curve</text>
<line x1="565.3" y1="252" x2="585.8" y2="252" stroke="#555" stroke-width="1" stroke-dasharray="2 1.5 1 1.5"/>
<text x="590.6" y="254.4" font-family="Liberation Serif" font-size="9.6" fill="#333" textLength="43.1" lengthAdjust="spacingAndGlyphs" stroke="#333" stroke-width="0.2">Raw curve</text>
<line x1="565.3" y1="261.2" x2="585.8" y2="261.2" stroke="#f04848" stroke-width="1.3"/>
<text x="588.2" y="265" font-family="Liberation Serif" font-size="9.6" fill="#e8303a" textLength="49.4" lengthAdjust="spacingAndGlyphs" stroke="#e8303a" stroke-width="0.2">Fitted curve</text>
<line x1="565.3" y1="270.8" x2="585.8" y2="270.8" stroke="#88ee88" stroke-width="1.3"/>
<text x="590.6" y="274.5" font-family="Liberation Serif" font-size="9.6" fill="#55dd55" textLength="26.7" lengthAdjust="spacingAndGlyphs" stroke="#55dd55" stroke-width="0.2">Peak 1</text>
<line x1="565.3" y1="281.3" x2="585.8" y2="281.3" stroke="#3a3acc" stroke-width="1.3"/>
<text x="590.6" y="285.4" font-family="Liberation Serif" font-size="9.6" fill="#3a3acc" textLength="26.7" lengthAdjust="spacingAndGlyphs" stroke="#3a3acc" stroke-width="0.2">Peak 2</text>
<line x1="237" y1="470.9" x2="257.7" y2="470.9" stroke="#555" stroke-width="1" stroke-dasharray="2 1.5 1 1.5"/>
<text x="262.6" y="473.4" font-family="Liberation Serif" font-size="9.6" fill="#333" textLength="43.3" lengthAdjust="spacingAndGlyphs" stroke="#333" stroke-width="0.2">Raw curve</text>
<line x1="237" y1="479.8" x2="257.7" y2="479.8" stroke="#f04848" stroke-width="1.3"/>
<text x="262.6" y="484" font-family="Liberation Serif" font-size="9.6" fill="#e8303a" textLength="49.4" lengthAdjust="spacingAndGlyphs" stroke="#e8303a" stroke-width="0.2">Fitted curve</text>
<line x1="237" y1="491.2" x2="257.7" y2="491.2" stroke="#88ee88" stroke-width="1.3"/>
<text x="262.6" y="495" font-family="Liberation Serif" font-size="9.6" fill="#55dd55" textLength="26.5" lengthAdjust="spacingAndGlyphs" stroke="#55dd55" stroke-width="0.2">Peak 1</text>
<line x1="237" y1="501.3" x2="257.7" y2="501.3" stroke="#3a3acc" stroke-width="1.3"/>
<text x="262.6" y="505.6" font-family="Liberation Serif" font-size="9.6" fill="#3a3acc" textLength="26.5" lengthAdjust="spacingAndGlyphs" stroke="#3a3acc" stroke-width="0.2">Peak 2</text>
<line x1="565.6" y1="467.3" x2="585.8" y2="467.3" stroke="#555" stroke-width="1" stroke-dasharray="2 1.5 1 1.5"/>
<text x="590.9" y="469.7" font-family="Liberation Serif" font-size="9.6" fill="#333" textLength="42.8" lengthAdjust="spacingAndGlyphs" stroke="#333" stroke-width="0.2">Raw curve</text>
<line x1="565.6" y1="476.7" x2="585.8" y2="476.7" stroke="#f04848" stroke-width="1.3"/>
<text x="590.9" y="480.3" font-family="Liberation Serif" font-size="9.6" fill="#e8303a" textLength="48.9" lengthAdjust="spacingAndGlyphs" stroke="#e8303a" stroke-width="0.2">Fitted curve</text>
<line x1="565.6" y1="486.3" x2="585.8" y2="486.3" stroke="#88ee88" stroke-width="1.3"/>
<text x="590.9" y="490.4" font-family="Liberation Serif" font-size="9.6" fill="#55dd55" textLength="27" lengthAdjust="spacingAndGlyphs" stroke="#55dd55" stroke-width="0.2">Peak 1</text>
<line x1="565.6" y1="497.3" x2="585.8" y2="497.3" stroke="#3a3acc" stroke-width="1.3"/>
<text x="590.9" y="501.2" font-family="Liberation Serif" font-size="9.6" fill="#3a3acc" textLength="27" lengthAdjust="spacingAndGlyphs" stroke="#3a3acc" stroke-width="0.2">Peak 2</text>
<line x1="237" y1="690.3" x2="257.7" y2="690.3" stroke="#555" stroke-width="1" stroke-dasharray="2 1.5 1 1.5"/>
<text x="262.6" y="692.5" font-family="Liberation Serif" font-size="9.6" fill="#333" textLength="43.3" lengthAdjust="spacingAndGlyphs" stroke="#333" stroke-width="0.2">Raw curve</text>
<line x1="237" y1="699" x2="257.7" y2="699" stroke="#f04848" stroke-width="1.3"/>
<text x="262.6" y="703.1" font-family="Liberation Serif" font-size="9.6" fill="#e8303a" textLength="49.4" lengthAdjust="spacingAndGlyphs" stroke="#e8303a" stroke-width="0.2">Fitted curve</text>
<line x1="567.9" y1="693.4" x2="587.7" y2="693.4" stroke="#555" stroke-width="1" stroke-dasharray="2 1.5 1 1.5"/>
<text x="593" y="695.7" font-family="Liberation Serif" font-size="9.6" fill="#333" textLength="43.6" lengthAdjust="spacingAndGlyphs" stroke="#333" stroke-width="0.2">Raw curve</text>
<line x1="567.9" y1="702.3" x2="587.7" y2="702.3" stroke="#f04848" stroke-width="1.3"/>
<text x="593" y="706.1" font-family="Liberation Serif" font-size="9.6" fill="#e8303a" textLength="49.7" lengthAdjust="spacingAndGlyphs" stroke="#e8303a" stroke-width="0.2">Fitted curve</text>
<text transform="translate(30.8,112.1) rotate(-90)" font-family="Liberation Serif" font-weight="bold" font-size="13.6" fill="#111" stroke="#111" stroke-width="0.3" text-anchor="middle" textLength="80.8" lengthAdjust="spacingAndGlyphs">Counts (a.u.)</text>
<text transform="translate(23.1,335.8) rotate(-90)" font-family="Liberation Serif" font-weight="bold" font-size="13.6" fill="#111" stroke="#111" stroke-width="0.3" text-anchor="middle" textLength="80.8" lengthAdjust="spacingAndGlyphs">Counts (a.u.)</text>
<text transform="translate(34.3,550.5) rotate(-90)" font-family="Liberation Serif" font-weight="bold" font-size="13.6" fill="#111" stroke="#111" stroke-width="0.3" text-anchor="middle" textLength="86.3" lengthAdjust="spacingAndGlyphs">Counts (a.u.)</text>
<text transform="translate(38.3,767.6) rotate(-90)" font-family="Liberation Serif" font-weight="bold" font-size="13.6" fill="#111" stroke="#111" stroke-width="0.3" text-anchor="middle" textLength="83.2" lengthAdjust="spacingAndGlyphs">Counts (a.u.)</text>
<text x="118.3" y="887.8" font-family="Liberation Serif" font-weight="bold" font-size="13.6" fill="#111" textLength="131.5" lengthAdjust="spacingAndGlyphs" stroke="#111" stroke-width="0.3">Binding Energy (eV)</text>
<text x="452.1" y="887.8" font-family="Liberation Serif" font-weight="bold" font-size="13.6" fill="#111" textLength="131.1" lengthAdjust="spacingAndGlyphs" stroke="#111" stroke-width="0.3">Binding Energy (eV)</text>
</svg>
</body></html>
